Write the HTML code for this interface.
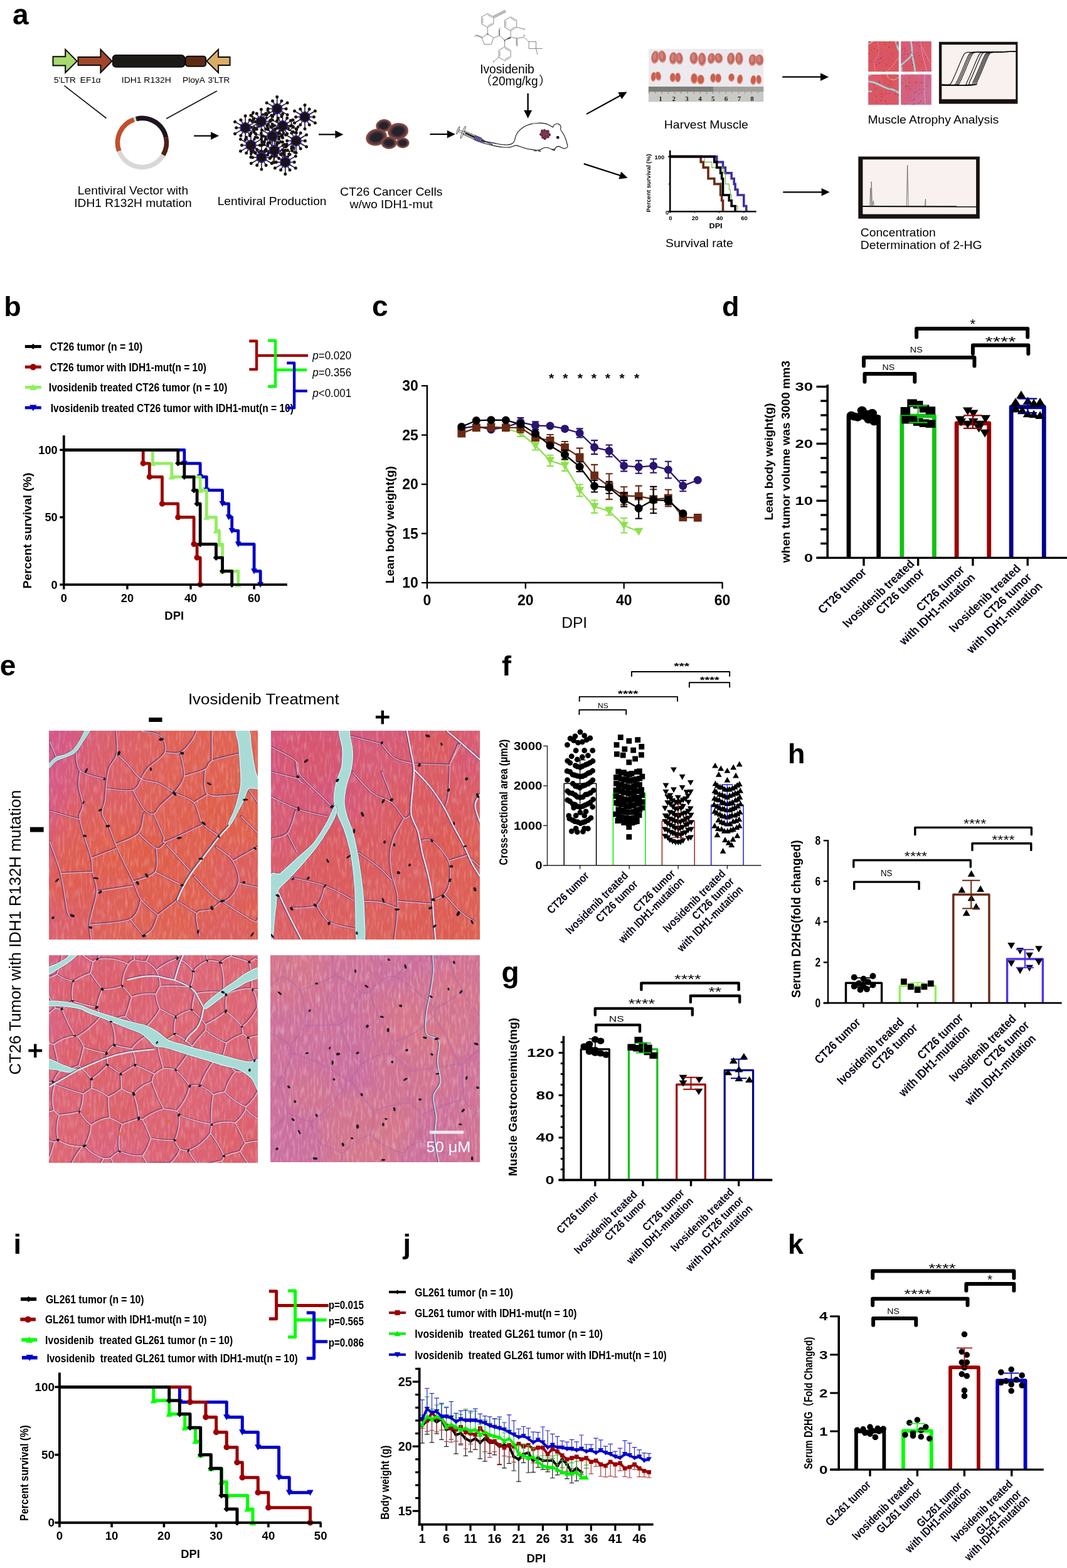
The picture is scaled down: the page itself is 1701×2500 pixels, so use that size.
<!DOCTYPE html>
<html lang="en"><head><meta charset="utf-8"><title>Figure</title>
<style>
html,body{margin:0;padding:0;background:#fff;}
body{width:1701px;height:2500px;overflow:hidden;}
svg{display:block;}
svg text{font-family:"Liberation Sans","Noto Sans CJK SC",sans-serif;}
</style></head><body>
<svg width="1701" height="2500" viewBox="0 0 1701 2500">
<rect width="1701" height="2500" fill="#fff"/>
<g id="panel_a"><text x="20" y="39.3" font-size="46" font-weight="bold">a</text>
<polygon points="84.5,90.3 104.2,90.3 104.2,78.9 122.7,97.4 104.2,115.9 104.2,104.5 84.5,104.5" fill="#a9d96c" stroke="#0a0a0a" stroke-width="2" stroke-linejoin="miter"/>
<polygon points="124.5,91.1 160.4,91.1 160.4,78.9 178.4,97.4 160.4,115.9 160.4,104 124.5,104" fill="#a2462b" stroke="#0a0a0a" stroke-width="2" stroke-linejoin="miter"/>
<rect x="179.6" y="87.8" width="114.9" height="19.2" fill="#1b1a16" stroke="#0a0a0a" stroke-width="1.5" rx="5"/>
<rect x="295.8" y="89.8" width="32.4" height="15.9" fill="#5e2a14" stroke="#0a0a0a" stroke-width="2" rx="4"/>
<polygon points="329.4,97.4 348.1,78.9 348.1,91.1 366.6,91.1 366.6,104 348.1,104 348.1,115.9" fill="#d9ad66" stroke="#0a0a0a" stroke-width="2"/>
<text x="86" y="132.1" font-size="13.6" textLength="34.9" lengthAdjust="spacingAndGlyphs">5'LTR</text>
<text x="127.8" y="132.1" font-size="13.6" textLength="32.9" lengthAdjust="spacingAndGlyphs">EF1α</text>
<text x="193.8" y="132.1" font-size="13.6" textLength="78.9" lengthAdjust="spacingAndGlyphs">IDH1 R132H</text>
<text x="291" y="132.1" font-size="13.6" textLength="35.9" lengthAdjust="spacingAndGlyphs">PloyA</text>
<text x="331.4" y="132.1" font-size="13.6" textLength="34.9" lengthAdjust="spacingAndGlyphs">3'LTR</text>
<line x1="102.5" y1="136.6" x2="169.5" y2="188.5" stroke="#111" stroke-width="1.6"/>
<line x1="345.9" y1="145" x2="265.1" y2="189.2" stroke="#111" stroke-width="1.6"/>
<path d="M260.2 247 A39 39 0 0 1 189.8 240.8" fill="none" stroke="#d9d8d7" stroke-width="7.6"/>
<path d="M189.8 240.8 A39 39 0 0 1 213.7 190.6" fill="none" stroke="#c14f2a" stroke-width="7.6"/>
<path d="M213.7 190.6 A39 39 0 0 1 217 189.6" fill="none" stroke="#d9d8d7" stroke-width="7.6"/>
<path d="M217 189.6 A39 39 0 0 1 264.6 219.3" fill="none" stroke="#1d1420" stroke-width="7.6"/>
<path d="M264.6 219.3 A39 39 0 0 1 260.2 247" fill="none" stroke="#4c2115" stroke-width="7.6"/>
<text x="212" y="310.2" font-size="18.6" text-anchor="middle" textLength="176.3" lengthAdjust="spacingAndGlyphs">Lentiviral Vector with</text>
<text x="212" y="330.4" font-size="18.6" text-anchor="middle" textLength="187.5" lengthAdjust="spacingAndGlyphs">IDH1 R132H mutation</text>
<line x1="309.2" y1="216.6" x2="337.1" y2="216.6" stroke="#000" stroke-width="2.2"/><polygon points="349.1,216.6 336.1,222.8 336.1,210.3" fill="#000"/>
<line x1="426.5" y1="221.4" x2="427" y2="228.1" stroke="#1a1214" stroke-width="1.2"/>
<circle cx="427" cy="228.1" r="2.2" fill="#1a1214"/>
<line x1="426.5" y1="221.4" x2="421.7" y2="226.6" stroke="#1a1214" stroke-width="1.2"/>
<circle cx="421.7" cy="226.6" r="2.2" fill="#1a1214"/>
<line x1="426.5" y1="221.4" x2="423.4" y2="218.4" stroke="#1a1214" stroke-width="1.2"/>
<circle cx="423.4" cy="218.4" r="2.2" fill="#1a1214"/>
<line x1="426.5" y1="221.4" x2="434.7" y2="222.1" stroke="#1a1214" stroke-width="1.2"/>
<circle cx="434.7" cy="222.1" r="2.2" fill="#1a1214"/>
<line x1="441.7" y1="226.5" x2="441.4" y2="231.7" stroke="#1a1214" stroke-width="1.2"/>
<circle cx="441.4" cy="231.7" r="2.2" fill="#1a1214"/>
<line x1="441.7" y1="226.5" x2="448" y2="226.3" stroke="#1a1214" stroke-width="1.2"/>
<circle cx="448" cy="226.3" r="2.2" fill="#1a1214"/>
<line x1="441.7" y1="226.5" x2="445" y2="221" stroke="#1a1214" stroke-width="1.2"/>
<circle cx="445" cy="221" r="2.2" fill="#1a1214"/>
<line x1="441.7" y1="226.5" x2="438.6" y2="222.9" stroke="#1a1214" stroke-width="1.2"/>
<circle cx="438.6" cy="222.9" r="2.2" fill="#1a1214"/>
<line x1="451.8" y1="218.9" x2="446.3" y2="212.7" stroke="#1a1214" stroke-width="1.2"/>
<circle cx="446.3" cy="212.7" r="2.2" fill="#1a1214"/>
<line x1="451.8" y1="218.9" x2="444.2" y2="217.8" stroke="#1a1214" stroke-width="1.2"/>
<circle cx="444.2" cy="217.8" r="2.2" fill="#1a1214"/>
<line x1="451.8" y1="218.9" x2="449.7" y2="215.1" stroke="#1a1214" stroke-width="1.2"/>
<circle cx="449.7" cy="215.1" r="2.2" fill="#1a1214"/>
<line x1="451.8" y1="218.9" x2="452.1" y2="212" stroke="#1a1214" stroke-width="1.2"/>
<circle cx="452.1" cy="212" r="2.2" fill="#1a1214"/>
<line x1="418.9" y1="226.5" x2="417.6" y2="230.4" stroke="#1a1214" stroke-width="1.2"/>
<circle cx="417.6" cy="230.4" r="2.2" fill="#1a1214"/>
<line x1="418.9" y1="226.5" x2="423.1" y2="221.7" stroke="#1a1214" stroke-width="1.2"/>
<circle cx="423.1" cy="221.7" r="2.2" fill="#1a1214"/>
<line x1="418.9" y1="226.5" x2="417.3" y2="218.3" stroke="#1a1214" stroke-width="1.2"/>
<circle cx="417.3" cy="218.3" r="2.2" fill="#1a1214"/>
<line x1="418.9" y1="226.5" x2="417" y2="218.1" stroke="#1a1214" stroke-width="1.2"/>
<circle cx="417" cy="218.1" r="2.2" fill="#1a1214"/>
<line x1="446.7" y1="241.7" x2="440.4" y2="246.6" stroke="#1a1214" stroke-width="1.2"/>
<circle cx="440.4" cy="246.6" r="2.2" fill="#1a1214"/>
<line x1="446.7" y1="241.7" x2="438.6" y2="244.7" stroke="#1a1214" stroke-width="1.2"/>
<circle cx="438.6" cy="244.7" r="2.2" fill="#1a1214"/>
<line x1="446.7" y1="241.7" x2="450" y2="238.6" stroke="#1a1214" stroke-width="1.2"/>
<circle cx="450" cy="238.6" r="2.2" fill="#1a1214"/>
<line x1="446.7" y1="241.7" x2="450.1" y2="245.5" stroke="#1a1214" stroke-width="1.2"/>
<circle cx="450.1" cy="245.5" r="2.2" fill="#1a1214"/>
<line x1="431.6" y1="201.2" x2="437.6" y2="199.9" stroke="#1a1214" stroke-width="1.2"/>
<circle cx="437.6" cy="199.9" r="2.2" fill="#1a1214"/>
<line x1="431.6" y1="201.2" x2="427.7" y2="197.3" stroke="#1a1214" stroke-width="1.2"/>
<circle cx="427.7" cy="197.3" r="2.2" fill="#1a1214"/>
<line x1="431.6" y1="201.2" x2="425.6" y2="200.9" stroke="#1a1214" stroke-width="1.2"/>
<circle cx="425.6" cy="200.9" r="2.2" fill="#1a1214"/>
<line x1="431.6" y1="201.2" x2="427.5" y2="206.8" stroke="#1a1214" stroke-width="1.2"/>
<circle cx="427.5" cy="206.8" r="2.2" fill="#1a1214"/>
<line x1="461.9" y1="208.8" x2="454.6" y2="204.5" stroke="#1a1214" stroke-width="1.2"/>
<circle cx="454.6" cy="204.5" r="2.2" fill="#1a1214"/>
<line x1="461.9" y1="208.8" x2="458.3" y2="200.9" stroke="#1a1214" stroke-width="1.2"/>
<circle cx="458.3" cy="200.9" r="2.2" fill="#1a1214"/>
<line x1="461.9" y1="208.8" x2="467.5" y2="201.7" stroke="#1a1214" stroke-width="1.2"/>
<circle cx="467.5" cy="201.7" r="2.2" fill="#1a1214"/>
<line x1="461.9" y1="208.8" x2="459.6" y2="204.6" stroke="#1a1214" stroke-width="1.2"/>
<circle cx="459.6" cy="204.6" r="2.2" fill="#1a1214"/>
<line x1="451.8" y1="236.6" x2="457.4" y2="229.8" stroke="#1a1214" stroke-width="1.2"/>
<circle cx="457.4" cy="229.8" r="2.2" fill="#1a1214"/>
<line x1="451.8" y1="236.6" x2="457.4" y2="232.7" stroke="#1a1214" stroke-width="1.2"/>
<circle cx="457.4" cy="232.7" r="2.2" fill="#1a1214"/>
<line x1="451.8" y1="236.6" x2="450.7" y2="231.7" stroke="#1a1214" stroke-width="1.2"/>
<circle cx="450.7" cy="231.7" r="2.2" fill="#1a1214"/>
<line x1="451.8" y1="236.6" x2="455.2" y2="230.6" stroke="#1a1214" stroke-width="1.2"/>
<circle cx="455.2" cy="230.6" r="2.2" fill="#1a1214"/>
<line x1="421.4" y1="239.2" x2="420.5" y2="243.4" stroke="#1a1214" stroke-width="1.2"/>
<circle cx="420.5" cy="243.4" r="2.2" fill="#1a1214"/>
<line x1="421.4" y1="239.2" x2="426.9" y2="232" stroke="#1a1214" stroke-width="1.2"/>
<circle cx="426.9" cy="232" r="2.2" fill="#1a1214"/>
<line x1="421.4" y1="239.2" x2="428.2" y2="243.4" stroke="#1a1214" stroke-width="1.2"/>
<circle cx="428.2" cy="243.4" r="2.2" fill="#1a1214"/>
<line x1="421.4" y1="239.2" x2="417.4" y2="241.7" stroke="#1a1214" stroke-width="1.2"/>
<circle cx="417.4" cy="241.7" r="2.2" fill="#1a1214"/>
<line x1="436.6" y1="251.8" x2="434.5" y2="259.4" stroke="#1a1214" stroke-width="1.2"/>
<circle cx="434.5" cy="259.4" r="2.2" fill="#1a1214"/>
<line x1="436.6" y1="251.8" x2="439.6" y2="248.8" stroke="#1a1214" stroke-width="1.2"/>
<circle cx="439.6" cy="248.8" r="2.2" fill="#1a1214"/>
<line x1="436.6" y1="251.8" x2="433.4" y2="249" stroke="#1a1214" stroke-width="1.2"/>
<circle cx="433.4" cy="249" r="2.2" fill="#1a1214"/>
<line x1="436.6" y1="251.8" x2="435.5" y2="246.3" stroke="#1a1214" stroke-width="1.2"/>
<circle cx="435.5" cy="246.3" r="2.2" fill="#1a1214"/>
<line x1="461.9" y1="241.7" x2="468.4" y2="235.6" stroke="#1a1214" stroke-width="1.2"/>
<circle cx="468.4" cy="235.6" r="2.2" fill="#1a1214"/>
<line x1="461.9" y1="241.7" x2="452.9" y2="241.4" stroke="#1a1214" stroke-width="1.2"/>
<circle cx="452.9" cy="241.4" r="2.2" fill="#1a1214"/>
<line x1="461.9" y1="241.7" x2="460.3" y2="245.8" stroke="#1a1214" stroke-width="1.2"/>
<circle cx="460.3" cy="245.8" r="2.2" fill="#1a1214"/>
<line x1="461.9" y1="241.7" x2="458.6" y2="239.3" stroke="#1a1214" stroke-width="1.2"/>
<circle cx="458.6" cy="239.3" r="2.2" fill="#1a1214"/>
<line x1="408.8" y1="213.9" x2="410.8" y2="219.6" stroke="#1a1214" stroke-width="1.2"/>
<circle cx="410.8" cy="219.6" r="2.2" fill="#1a1214"/>
<line x1="408.8" y1="213.9" x2="405.1" y2="210.8" stroke="#1a1214" stroke-width="1.2"/>
<circle cx="405.1" cy="210.8" r="2.2" fill="#1a1214"/>
<line x1="408.8" y1="213.9" x2="416.8" y2="216" stroke="#1a1214" stroke-width="1.2"/>
<circle cx="416.8" cy="216" r="2.2" fill="#1a1214"/>
<line x1="408.8" y1="213.9" x2="405.4" y2="222" stroke="#1a1214" stroke-width="1.2"/>
<circle cx="405.4" cy="222" r="2.2" fill="#1a1214"/>
<line x1="441.7" y1="211.3" x2="446.4" y2="207.7" stroke="#1a1214" stroke-width="1.2"/>
<circle cx="446.4" cy="207.7" r="2.2" fill="#1a1214"/>
<line x1="441.7" y1="211.3" x2="435.3" y2="213" stroke="#1a1214" stroke-width="1.2"/>
<circle cx="435.3" cy="213" r="2.2" fill="#1a1214"/>
<line x1="441.7" y1="211.3" x2="437.4" y2="205.8" stroke="#1a1214" stroke-width="1.2"/>
<circle cx="437.4" cy="205.8" r="2.2" fill="#1a1214"/>
<line x1="441.7" y1="211.3" x2="435.1" y2="208.8" stroke="#1a1214" stroke-width="1.2"/>
<circle cx="435.1" cy="208.8" r="2.2" fill="#1a1214"/>
<line x1="426.5" y1="241.7" x2="432.6" y2="239.3" stroke="#1a1214" stroke-width="1.2"/>
<circle cx="432.6" cy="239.3" r="2.2" fill="#1a1214"/>
<line x1="426.5" y1="241.7" x2="419.6" y2="244.9" stroke="#1a1214" stroke-width="1.2"/>
<circle cx="419.6" cy="244.9" r="2.2" fill="#1a1214"/>
<line x1="426.5" y1="241.7" x2="426.9" y2="247.2" stroke="#1a1214" stroke-width="1.2"/>
<circle cx="426.9" cy="247.2" r="2.2" fill="#1a1214"/>
<line x1="426.5" y1="241.7" x2="433" y2="240.7" stroke="#1a1214" stroke-width="1.2"/>
<circle cx="433" cy="240.7" r="2.2" fill="#1a1214"/>
<line x1="406.3" y1="241.7" x2="402.4" y2="240.5" stroke="#1a1214" stroke-width="1.2"/>
<circle cx="402.4" cy="240.5" r="2.2" fill="#1a1214"/>
<line x1="406.3" y1="241.7" x2="400.3" y2="245.2" stroke="#1a1214" stroke-width="1.2"/>
<circle cx="400.3" cy="245.2" r="2.2" fill="#1a1214"/>
<line x1="406.3" y1="241.7" x2="413.3" y2="242.6" stroke="#1a1214" stroke-width="1.2"/>
<circle cx="413.3" cy="242.6" r="2.2" fill="#1a1214"/>
<line x1="406.3" y1="241.7" x2="403.4" y2="238.5" stroke="#1a1214" stroke-width="1.2"/>
<circle cx="403.4" cy="238.5" r="2.2" fill="#1a1214"/>
<line x1="454.3" y1="249.3" x2="449.9" y2="244.7" stroke="#1a1214" stroke-width="1.2"/>
<circle cx="449.9" cy="244.7" r="2.2" fill="#1a1214"/>
<line x1="454.3" y1="249.3" x2="451.8" y2="244.1" stroke="#1a1214" stroke-width="1.2"/>
<circle cx="451.8" cy="244.1" r="2.2" fill="#1a1214"/>
<line x1="454.3" y1="249.3" x2="452.3" y2="241.9" stroke="#1a1214" stroke-width="1.2"/>
<circle cx="452.3" cy="241.9" r="2.2" fill="#1a1214"/>
<line x1="454.3" y1="249.3" x2="458.6" y2="249.9" stroke="#1a1214" stroke-width="1.2"/>
<circle cx="458.6" cy="249.9" r="2.2" fill="#1a1214"/>
<line x1="469.5" y1="236.6" x2="465.5" y2="228.7" stroke="#1a1214" stroke-width="1.2"/>
<circle cx="465.5" cy="228.7" r="2.2" fill="#1a1214"/>
<line x1="469.5" y1="236.6" x2="469.5" y2="242.9" stroke="#1a1214" stroke-width="1.2"/>
<circle cx="469.5" cy="242.9" r="2.2" fill="#1a1214"/>
<line x1="469.5" y1="236.6" x2="464.8" y2="233.6" stroke="#1a1214" stroke-width="1.2"/>
<circle cx="464.8" cy="233.6" r="2.2" fill="#1a1214"/>
<line x1="469.5" y1="236.6" x2="465.9" y2="240.8" stroke="#1a1214" stroke-width="1.2"/>
<circle cx="465.9" cy="240.8" r="2.2" fill="#1a1214"/>
<line x1="474.6" y1="206.3" x2="469.8" y2="211.4" stroke="#1a1214" stroke-width="1.2"/>
<circle cx="469.8" cy="211.4" r="2.2" fill="#1a1214"/>
<line x1="474.6" y1="206.3" x2="472.7" y2="211.9" stroke="#1a1214" stroke-width="1.2"/>
<circle cx="472.7" cy="211.9" r="2.2" fill="#1a1214"/>
<line x1="474.6" y1="206.3" x2="475.1" y2="202.2" stroke="#1a1214" stroke-width="1.2"/>
<circle cx="475.1" cy="202.2" r="2.2" fill="#1a1214"/>
<line x1="474.6" y1="206.3" x2="467.6" y2="203" stroke="#1a1214" stroke-width="1.2"/>
<circle cx="467.6" cy="203" r="2.2" fill="#1a1214"/>
<line x1="464.5" y1="196.1" x2="462.6" y2="200.9" stroke="#1a1214" stroke-width="1.2"/>
<circle cx="462.6" cy="200.9" r="2.2" fill="#1a1214"/>
<line x1="464.5" y1="196.1" x2="466.2" y2="191.2" stroke="#1a1214" stroke-width="1.2"/>
<circle cx="466.2" cy="191.2" r="2.2" fill="#1a1214"/>
<line x1="464.5" y1="196.1" x2="466.8" y2="201.8" stroke="#1a1214" stroke-width="1.2"/>
<circle cx="466.8" cy="201.8" r="2.2" fill="#1a1214"/>
<line x1="464.5" y1="196.1" x2="463" y2="191.9" stroke="#1a1214" stroke-width="1.2"/>
<circle cx="463" cy="191.9" r="2.2" fill="#1a1214"/>
<line x1="434.1" y1="186" x2="431.6" y2="191.1" stroke="#1a1214" stroke-width="1.2"/>
<circle cx="431.6" cy="191.1" r="2.2" fill="#1a1214"/>
<line x1="434.1" y1="186" x2="437.2" y2="180.7" stroke="#1a1214" stroke-width="1.2"/>
<circle cx="437.2" cy="180.7" r="2.2" fill="#1a1214"/>
<line x1="434.1" y1="186" x2="437.1" y2="182.2" stroke="#1a1214" stroke-width="1.2"/>
<circle cx="437.1" cy="182.2" r="2.2" fill="#1a1214"/>
<line x1="434.1" y1="186" x2="430.3" y2="192.2" stroke="#1a1214" stroke-width="1.2"/>
<circle cx="430.3" cy="192.2" r="2.2" fill="#1a1214"/>
<line x1="424" y1="183.5" x2="428.7" y2="179.3" stroke="#1a1214" stroke-width="1.2"/>
<circle cx="428.7" cy="179.3" r="2.2" fill="#1a1214"/>
<line x1="424" y1="183.5" x2="424.7" y2="188" stroke="#1a1214" stroke-width="1.2"/>
<circle cx="424.7" cy="188" r="2.2" fill="#1a1214"/>
<line x1="424" y1="183.5" x2="419.1" y2="182.6" stroke="#1a1214" stroke-width="1.2"/>
<circle cx="419.1" cy="182.6" r="2.2" fill="#1a1214"/>
<line x1="424" y1="183.5" x2="426.8" y2="175.8" stroke="#1a1214" stroke-width="1.2"/>
<circle cx="426.8" cy="175.8" r="2.2" fill="#1a1214"/>
<line x1="401.2" y1="186" x2="403.4" y2="191" stroke="#1a1214" stroke-width="1.2"/>
<circle cx="403.4" cy="191" r="2.2" fill="#1a1214"/>
<line x1="401.2" y1="186" x2="403.7" y2="179.3" stroke="#1a1214" stroke-width="1.2"/>
<circle cx="403.7" cy="179.3" r="2.2" fill="#1a1214"/>
<line x1="401.2" y1="186" x2="403.2" y2="180.6" stroke="#1a1214" stroke-width="1.2"/>
<circle cx="403.2" cy="180.6" r="2.2" fill="#1a1214"/>
<line x1="401.2" y1="186" x2="404.9" y2="190" stroke="#1a1214" stroke-width="1.2"/>
<circle cx="404.9" cy="190" r="2.2" fill="#1a1214"/>
<line x1="408.8" y1="203.7" x2="410.2" y2="198.6" stroke="#1a1214" stroke-width="1.2"/>
<circle cx="410.2" cy="198.6" r="2.2" fill="#1a1214"/>
<line x1="408.8" y1="203.7" x2="405.3" y2="208.7" stroke="#1a1214" stroke-width="1.2"/>
<circle cx="405.3" cy="208.7" r="2.2" fill="#1a1214"/>
<line x1="408.8" y1="203.7" x2="403.5" y2="206.7" stroke="#1a1214" stroke-width="1.2"/>
<circle cx="403.5" cy="206.7" r="2.2" fill="#1a1214"/>
<line x1="408.8" y1="203.7" x2="413" y2="201.4" stroke="#1a1214" stroke-width="1.2"/>
<circle cx="413" cy="201.4" r="2.2" fill="#1a1214"/>
<line x1="441.7" y1="173.4" x2="458.1" y2="182.9" stroke="#1a1214" stroke-width="1.5"/><circle cx="458.1" cy="182.9" r="2.5" fill="#1a1214"/><line x1="441.7" y1="173.4" x2="448.9" y2="185.8" stroke="#1a1214" stroke-width="1.5"/><circle cx="448.9" cy="185.8" r="2.5" fill="#1a1214"/><line x1="441.7" y1="173.4" x2="441.7" y2="192.4" stroke="#1a1214" stroke-width="1.5"/><circle cx="441.7" cy="192.4" r="2.5" fill="#1a1214"/><line x1="441.7" y1="173.4" x2="434.5" y2="185.8" stroke="#1a1214" stroke-width="1.5"/><circle cx="434.5" cy="185.8" r="2.5" fill="#1a1214"/><line x1="441.7" y1="173.4" x2="425.2" y2="182.9" stroke="#1a1214" stroke-width="1.5"/><circle cx="425.2" cy="182.9" r="2.5" fill="#1a1214"/><line x1="441.7" y1="173.4" x2="427.3" y2="173.4" stroke="#1a1214" stroke-width="1.5"/><circle cx="427.3" cy="173.4" r="2.5" fill="#1a1214"/><line x1="441.7" y1="173.4" x2="425.2" y2="163.9" stroke="#1a1214" stroke-width="1.5"/><circle cx="425.2" cy="163.9" r="2.5" fill="#1a1214"/><line x1="441.7" y1="173.4" x2="434.5" y2="160.9" stroke="#1a1214" stroke-width="1.5"/><circle cx="434.5" cy="160.9" r="2.5" fill="#1a1214"/><line x1="441.7" y1="173.4" x2="441.7" y2="154.4" stroke="#1a1214" stroke-width="1.5"/><circle cx="441.7" cy="154.4" r="2.5" fill="#1a1214"/><line x1="441.7" y1="173.4" x2="448.9" y2="160.9" stroke="#1a1214" stroke-width="1.5"/><circle cx="448.9" cy="160.9" r="2.5" fill="#1a1214"/><line x1="441.7" y1="173.4" x2="458.1" y2="163.9" stroke="#1a1214" stroke-width="1.5"/><circle cx="458.1" cy="163.9" r="2.5" fill="#1a1214"/><line x1="441.7" y1="173.4" x2="456.1" y2="173.4" stroke="#1a1214" stroke-width="1.5"/><circle cx="456.1" cy="173.4" r="2.5" fill="#1a1214"/><polygon points="449.3,177.8 441.7,182.2 434.1,177.8 434.1,169 441.7,164.6 449.3,169" fill="#1a1214" stroke="#3a28a0" stroke-width="1.6" stroke-linejoin="round"/>
<line x1="486" y1="186.5" x2="502.4" y2="196" stroke="#1a1214" stroke-width="1.5"/><circle cx="502.4" cy="196" r="2.5" fill="#1a1214"/><line x1="486" y1="186.5" x2="493.2" y2="199" stroke="#1a1214" stroke-width="1.5"/><circle cx="493.2" cy="199" r="2.5" fill="#1a1214"/><line x1="486" y1="186.5" x2="486" y2="205.5" stroke="#1a1214" stroke-width="1.5"/><circle cx="486" cy="205.5" r="2.5" fill="#1a1214"/><line x1="486" y1="186.5" x2="478.8" y2="199" stroke="#1a1214" stroke-width="1.5"/><circle cx="478.8" cy="199" r="2.5" fill="#1a1214"/><line x1="486" y1="186.5" x2="469.5" y2="196" stroke="#1a1214" stroke-width="1.5"/><circle cx="469.5" cy="196" r="2.5" fill="#1a1214"/><line x1="486" y1="186.5" x2="471.6" y2="186.5" stroke="#1a1214" stroke-width="1.5"/><circle cx="471.6" cy="186.5" r="2.5" fill="#1a1214"/><line x1="486" y1="186.5" x2="469.5" y2="177" stroke="#1a1214" stroke-width="1.5"/><circle cx="469.5" cy="177" r="2.5" fill="#1a1214"/><line x1="486" y1="186.5" x2="478.8" y2="174.1" stroke="#1a1214" stroke-width="1.5"/><circle cx="478.8" cy="174.1" r="2.5" fill="#1a1214"/><line x1="486" y1="186.5" x2="486" y2="167.5" stroke="#1a1214" stroke-width="1.5"/><circle cx="486" cy="167.5" r="2.5" fill="#1a1214"/><line x1="486" y1="186.5" x2="493.2" y2="174.1" stroke="#1a1214" stroke-width="1.5"/><circle cx="493.2" cy="174.1" r="2.5" fill="#1a1214"/><line x1="486" y1="186.5" x2="502.4" y2="177" stroke="#1a1214" stroke-width="1.5"/><circle cx="502.4" cy="177" r="2.5" fill="#1a1214"/><line x1="486" y1="186.5" x2="500.4" y2="186.5" stroke="#1a1214" stroke-width="1.5"/><circle cx="500.4" cy="186.5" r="2.5" fill="#1a1214"/><polygon points="493.6,190.9 486,195.3 478.3,190.9 478.3,182.1 486,177.7 493.6,182.1" fill="#1a1214" stroke="#3a28a0" stroke-width="1.6" stroke-linejoin="round"/>
<line x1="416.4" y1="193.6" x2="432.8" y2="203.1" stroke="#1a1214" stroke-width="1.5"/><circle cx="432.8" cy="203.1" r="2.5" fill="#1a1214"/><line x1="416.4" y1="193.6" x2="423.6" y2="206.1" stroke="#1a1214" stroke-width="1.5"/><circle cx="423.6" cy="206.1" r="2.5" fill="#1a1214"/><line x1="416.4" y1="193.6" x2="416.4" y2="212.6" stroke="#1a1214" stroke-width="1.5"/><circle cx="416.4" cy="212.6" r="2.5" fill="#1a1214"/><line x1="416.4" y1="193.6" x2="409.2" y2="206.1" stroke="#1a1214" stroke-width="1.5"/><circle cx="409.2" cy="206.1" r="2.5" fill="#1a1214"/><line x1="416.4" y1="193.6" x2="399.9" y2="203.1" stroke="#1a1214" stroke-width="1.5"/><circle cx="399.9" cy="203.1" r="2.5" fill="#1a1214"/><line x1="416.4" y1="193.6" x2="402" y2="193.6" stroke="#1a1214" stroke-width="1.5"/><circle cx="402" cy="193.6" r="2.5" fill="#1a1214"/><line x1="416.4" y1="193.6" x2="399.9" y2="184.1" stroke="#1a1214" stroke-width="1.5"/><circle cx="399.9" cy="184.1" r="2.5" fill="#1a1214"/><line x1="416.4" y1="193.6" x2="409.2" y2="181.1" stroke="#1a1214" stroke-width="1.5"/><circle cx="409.2" cy="181.1" r="2.5" fill="#1a1214"/><line x1="416.4" y1="193.6" x2="416.4" y2="174.6" stroke="#1a1214" stroke-width="1.5"/><circle cx="416.4" cy="174.6" r="2.5" fill="#1a1214"/><line x1="416.4" y1="193.6" x2="423.6" y2="181.1" stroke="#1a1214" stroke-width="1.5"/><circle cx="423.6" cy="181.1" r="2.5" fill="#1a1214"/><line x1="416.4" y1="193.6" x2="432.8" y2="184.1" stroke="#1a1214" stroke-width="1.5"/><circle cx="432.8" cy="184.1" r="2.5" fill="#1a1214"/><line x1="416.4" y1="193.6" x2="430.8" y2="193.6" stroke="#1a1214" stroke-width="1.5"/><circle cx="430.8" cy="193.6" r="2.5" fill="#1a1214"/><polygon points="424,198 416.4,202.4 408.8,198 408.8,189.2 416.4,184.8 424,189.2" fill="#1a1214" stroke="#3a28a0" stroke-width="1.6" stroke-linejoin="round"/>
<line x1="391.1" y1="203.7" x2="407.5" y2="213.2" stroke="#1a1214" stroke-width="1.5"/><circle cx="407.5" cy="213.2" r="2.5" fill="#1a1214"/><line x1="391.1" y1="203.7" x2="398.3" y2="216.2" stroke="#1a1214" stroke-width="1.5"/><circle cx="398.3" cy="216.2" r="2.5" fill="#1a1214"/><line x1="391.1" y1="203.7" x2="391.1" y2="222.7" stroke="#1a1214" stroke-width="1.5"/><circle cx="391.1" cy="222.7" r="2.5" fill="#1a1214"/><line x1="391.1" y1="203.7" x2="383.9" y2="216.2" stroke="#1a1214" stroke-width="1.5"/><circle cx="383.9" cy="216.2" r="2.5" fill="#1a1214"/><line x1="391.1" y1="203.7" x2="374.6" y2="213.2" stroke="#1a1214" stroke-width="1.5"/><circle cx="374.6" cy="213.2" r="2.5" fill="#1a1214"/><line x1="391.1" y1="203.7" x2="376.7" y2="203.7" stroke="#1a1214" stroke-width="1.5"/><circle cx="376.7" cy="203.7" r="2.5" fill="#1a1214"/><line x1="391.1" y1="203.7" x2="374.6" y2="194.2" stroke="#1a1214" stroke-width="1.5"/><circle cx="374.6" cy="194.2" r="2.5" fill="#1a1214"/><line x1="391.1" y1="203.7" x2="383.9" y2="191.3" stroke="#1a1214" stroke-width="1.5"/><circle cx="383.9" cy="191.3" r="2.5" fill="#1a1214"/><line x1="391.1" y1="203.7" x2="391.1" y2="184.7" stroke="#1a1214" stroke-width="1.5"/><circle cx="391.1" cy="184.7" r="2.5" fill="#1a1214"/><line x1="391.1" y1="203.7" x2="398.3" y2="191.3" stroke="#1a1214" stroke-width="1.5"/><circle cx="398.3" cy="191.3" r="2.5" fill="#1a1214"/><line x1="391.1" y1="203.7" x2="407.5" y2="194.2" stroke="#1a1214" stroke-width="1.5"/><circle cx="407.5" cy="194.2" r="2.5" fill="#1a1214"/><line x1="391.1" y1="203.7" x2="405.5" y2="203.7" stroke="#1a1214" stroke-width="1.5"/><circle cx="405.5" cy="203.7" r="2.5" fill="#1a1214"/><polygon points="398.7,208.1 391.1,212.5 383.5,208.1 383.5,199.3 391.1,194.9 398.7,199.3" fill="#1a1214" stroke="#3a28a0" stroke-width="1.6" stroke-linejoin="round"/>
<line x1="450.5" y1="200.7" x2="467" y2="210.2" stroke="#1a1214" stroke-width="1.5"/><circle cx="467" cy="210.2" r="2.5" fill="#1a1214"/><line x1="450.5" y1="200.7" x2="457.7" y2="213.2" stroke="#1a1214" stroke-width="1.5"/><circle cx="457.7" cy="213.2" r="2.5" fill="#1a1214"/><line x1="450.5" y1="200.7" x2="450.5" y2="219.7" stroke="#1a1214" stroke-width="1.5"/><circle cx="450.5" cy="219.7" r="2.5" fill="#1a1214"/><line x1="450.5" y1="200.7" x2="443.3" y2="213.2" stroke="#1a1214" stroke-width="1.5"/><circle cx="443.3" cy="213.2" r="2.5" fill="#1a1214"/><line x1="450.5" y1="200.7" x2="434.1" y2="210.2" stroke="#1a1214" stroke-width="1.5"/><circle cx="434.1" cy="210.2" r="2.5" fill="#1a1214"/><line x1="450.5" y1="200.7" x2="436.1" y2="200.7" stroke="#1a1214" stroke-width="1.5"/><circle cx="436.1" cy="200.7" r="2.5" fill="#1a1214"/><line x1="450.5" y1="200.7" x2="434.1" y2="191.2" stroke="#1a1214" stroke-width="1.5"/><circle cx="434.1" cy="191.2" r="2.5" fill="#1a1214"/><line x1="450.5" y1="200.7" x2="443.3" y2="188.2" stroke="#1a1214" stroke-width="1.5"/><circle cx="443.3" cy="188.2" r="2.5" fill="#1a1214"/><line x1="450.5" y1="200.7" x2="450.5" y2="181.7" stroke="#1a1214" stroke-width="1.5"/><circle cx="450.5" cy="181.7" r="2.5" fill="#1a1214"/><line x1="450.5" y1="200.7" x2="457.7" y2="188.2" stroke="#1a1214" stroke-width="1.5"/><circle cx="457.7" cy="188.2" r="2.5" fill="#1a1214"/><line x1="450.5" y1="200.7" x2="467" y2="191.2" stroke="#1a1214" stroke-width="1.5"/><circle cx="467" cy="191.2" r="2.5" fill="#1a1214"/><line x1="450.5" y1="200.7" x2="464.9" y2="200.7" stroke="#1a1214" stroke-width="1.5"/><circle cx="464.9" cy="200.7" r="2.5" fill="#1a1214"/><polygon points="458.2,205.1 450.5,209.5 442.9,205.1 442.9,196.3 450.5,191.9 458.2,196.3" fill="#1a1214" stroke="#3a28a0" stroke-width="1.6" stroke-linejoin="round"/>
<line x1="434.1" y1="216.9" x2="450.5" y2="226.4" stroke="#1a1214" stroke-width="1.5"/><circle cx="450.5" cy="226.4" r="2.5" fill="#1a1214"/><line x1="434.1" y1="216.9" x2="441.3" y2="229.4" stroke="#1a1214" stroke-width="1.5"/><circle cx="441.3" cy="229.4" r="2.5" fill="#1a1214"/><line x1="434.1" y1="216.9" x2="434.1" y2="235.9" stroke="#1a1214" stroke-width="1.5"/><circle cx="434.1" cy="235.9" r="2.5" fill="#1a1214"/><line x1="434.1" y1="216.9" x2="426.9" y2="229.4" stroke="#1a1214" stroke-width="1.5"/><circle cx="426.9" cy="229.4" r="2.5" fill="#1a1214"/><line x1="434.1" y1="216.9" x2="417.6" y2="226.4" stroke="#1a1214" stroke-width="1.5"/><circle cx="417.6" cy="226.4" r="2.5" fill="#1a1214"/><line x1="434.1" y1="216.9" x2="419.7" y2="216.9" stroke="#1a1214" stroke-width="1.5"/><circle cx="419.7" cy="216.9" r="2.5" fill="#1a1214"/><line x1="434.1" y1="216.9" x2="417.6" y2="207.4" stroke="#1a1214" stroke-width="1.5"/><circle cx="417.6" cy="207.4" r="2.5" fill="#1a1214"/><line x1="434.1" y1="216.9" x2="426.9" y2="204.4" stroke="#1a1214" stroke-width="1.5"/><circle cx="426.9" cy="204.4" r="2.5" fill="#1a1214"/><line x1="434.1" y1="216.9" x2="434.1" y2="197.9" stroke="#1a1214" stroke-width="1.5"/><circle cx="434.1" cy="197.9" r="2.5" fill="#1a1214"/><line x1="434.1" y1="216.9" x2="441.3" y2="204.4" stroke="#1a1214" stroke-width="1.5"/><circle cx="441.3" cy="204.4" r="2.5" fill="#1a1214"/><line x1="434.1" y1="216.9" x2="450.5" y2="207.4" stroke="#1a1214" stroke-width="1.5"/><circle cx="450.5" cy="207.4" r="2.5" fill="#1a1214"/><line x1="434.1" y1="216.9" x2="448.5" y2="216.9" stroke="#1a1214" stroke-width="1.5"/><circle cx="448.5" cy="216.9" r="2.5" fill="#1a1214"/><polygon points="441.7,221.3 434.1,225.7 426.5,221.3 426.5,212.5 434.1,208.1 441.7,212.5" fill="#1a1214" stroke="#3a28a0" stroke-width="1.6" stroke-linejoin="round"/>
<line x1="472" y1="224.5" x2="488.5" y2="234" stroke="#1a1214" stroke-width="1.5"/><circle cx="488.5" cy="234" r="2.5" fill="#1a1214"/><line x1="472" y1="224.5" x2="479.2" y2="236.9" stroke="#1a1214" stroke-width="1.5"/><circle cx="479.2" cy="236.9" r="2.5" fill="#1a1214"/><line x1="472" y1="224.5" x2="472" y2="243.5" stroke="#1a1214" stroke-width="1.5"/><circle cx="472" cy="243.5" r="2.5" fill="#1a1214"/><line x1="472" y1="224.5" x2="464.8" y2="236.9" stroke="#1a1214" stroke-width="1.5"/><circle cx="464.8" cy="236.9" r="2.5" fill="#1a1214"/><line x1="472" y1="224.5" x2="455.6" y2="234" stroke="#1a1214" stroke-width="1.5"/><circle cx="455.6" cy="234" r="2.5" fill="#1a1214"/><line x1="472" y1="224.5" x2="457.6" y2="224.5" stroke="#1a1214" stroke-width="1.5"/><circle cx="457.6" cy="224.5" r="2.5" fill="#1a1214"/><line x1="472" y1="224.5" x2="455.6" y2="215" stroke="#1a1214" stroke-width="1.5"/><circle cx="455.6" cy="215" r="2.5" fill="#1a1214"/><line x1="472" y1="224.5" x2="464.8" y2="212" stroke="#1a1214" stroke-width="1.5"/><circle cx="464.8" cy="212" r="2.5" fill="#1a1214"/><line x1="472" y1="224.5" x2="472" y2="205.5" stroke="#1a1214" stroke-width="1.5"/><circle cx="472" cy="205.5" r="2.5" fill="#1a1214"/><line x1="472" y1="224.5" x2="479.2" y2="212" stroke="#1a1214" stroke-width="1.5"/><circle cx="479.2" cy="212" r="2.5" fill="#1a1214"/><line x1="472" y1="224.5" x2="488.5" y2="215" stroke="#1a1214" stroke-width="1.5"/><circle cx="488.5" cy="215" r="2.5" fill="#1a1214"/><line x1="472" y1="224.5" x2="486.4" y2="224.5" stroke="#1a1214" stroke-width="1.5"/><circle cx="486.4" cy="224.5" r="2.5" fill="#1a1214"/><polygon points="479.7,228.9 472,233.3 464.4,228.9 464.4,220.1 472,215.7 479.7,220.1" fill="#1a1214" stroke="#3a28a0" stroke-width="1.6" stroke-linejoin="round"/>
<line x1="399.9" y1="231.6" x2="416.4" y2="241.1" stroke="#1a1214" stroke-width="1.5"/><circle cx="416.4" cy="241.1" r="2.5" fill="#1a1214"/><line x1="399.9" y1="231.6" x2="407.1" y2="244" stroke="#1a1214" stroke-width="1.5"/><circle cx="407.1" cy="244" r="2.5" fill="#1a1214"/><line x1="399.9" y1="231.6" x2="399.9" y2="250.6" stroke="#1a1214" stroke-width="1.5"/><circle cx="399.9" cy="250.6" r="2.5" fill="#1a1214"/><line x1="399.9" y1="231.6" x2="392.7" y2="244" stroke="#1a1214" stroke-width="1.5"/><circle cx="392.7" cy="244" r="2.5" fill="#1a1214"/><line x1="399.9" y1="231.6" x2="383.5" y2="241.1" stroke="#1a1214" stroke-width="1.5"/><circle cx="383.5" cy="241.1" r="2.5" fill="#1a1214"/><line x1="399.9" y1="231.6" x2="385.5" y2="231.6" stroke="#1a1214" stroke-width="1.5"/><circle cx="385.5" cy="231.6" r="2.5" fill="#1a1214"/><line x1="399.9" y1="231.6" x2="383.5" y2="222.1" stroke="#1a1214" stroke-width="1.5"/><circle cx="383.5" cy="222.1" r="2.5" fill="#1a1214"/><line x1="399.9" y1="231.6" x2="392.7" y2="219.1" stroke="#1a1214" stroke-width="1.5"/><circle cx="392.7" cy="219.1" r="2.5" fill="#1a1214"/><line x1="399.9" y1="231.6" x2="399.9" y2="212.6" stroke="#1a1214" stroke-width="1.5"/><circle cx="399.9" cy="212.6" r="2.5" fill="#1a1214"/><line x1="399.9" y1="231.6" x2="407.1" y2="219.1" stroke="#1a1214" stroke-width="1.5"/><circle cx="407.1" cy="219.1" r="2.5" fill="#1a1214"/><line x1="399.9" y1="231.6" x2="416.4" y2="222.1" stroke="#1a1214" stroke-width="1.5"/><circle cx="416.4" cy="222.1" r="2.5" fill="#1a1214"/><line x1="399.9" y1="231.6" x2="414.3" y2="231.6" stroke="#1a1214" stroke-width="1.5"/><circle cx="414.3" cy="231.6" r="2.5" fill="#1a1214"/><polygon points="407.6,236 399.9,240.4 392.3,236 392.3,227.2 399.9,222.8 407.6,227.2" fill="#1a1214" stroke="#3a28a0" stroke-width="1.6" stroke-linejoin="round"/>
<line x1="437.4" y1="239.9" x2="453.8" y2="249.4" stroke="#1a1214" stroke-width="1.5"/><circle cx="453.8" cy="249.4" r="2.5" fill="#1a1214"/><line x1="437.4" y1="239.9" x2="444.6" y2="252.4" stroke="#1a1214" stroke-width="1.5"/><circle cx="444.6" cy="252.4" r="2.5" fill="#1a1214"/><line x1="437.4" y1="239.9" x2="437.4" y2="258.9" stroke="#1a1214" stroke-width="1.5"/><circle cx="437.4" cy="258.9" r="2.5" fill="#1a1214"/><line x1="437.4" y1="239.9" x2="430.2" y2="252.4" stroke="#1a1214" stroke-width="1.5"/><circle cx="430.2" cy="252.4" r="2.5" fill="#1a1214"/><line x1="437.4" y1="239.9" x2="420.9" y2="249.4" stroke="#1a1214" stroke-width="1.5"/><circle cx="420.9" cy="249.4" r="2.5" fill="#1a1214"/><line x1="437.4" y1="239.9" x2="423" y2="239.9" stroke="#1a1214" stroke-width="1.5"/><circle cx="423" cy="239.9" r="2.5" fill="#1a1214"/><line x1="437.4" y1="239.9" x2="420.9" y2="230.4" stroke="#1a1214" stroke-width="1.5"/><circle cx="420.9" cy="230.4" r="2.5" fill="#1a1214"/><line x1="437.4" y1="239.9" x2="430.2" y2="227.4" stroke="#1a1214" stroke-width="1.5"/><circle cx="430.2" cy="227.4" r="2.5" fill="#1a1214"/><line x1="437.4" y1="239.9" x2="437.4" y2="220.9" stroke="#1a1214" stroke-width="1.5"/><circle cx="437.4" cy="220.9" r="2.5" fill="#1a1214"/><line x1="437.4" y1="239.9" x2="444.6" y2="227.4" stroke="#1a1214" stroke-width="1.5"/><circle cx="444.6" cy="227.4" r="2.5" fill="#1a1214"/><line x1="437.4" y1="239.9" x2="453.8" y2="230.4" stroke="#1a1214" stroke-width="1.5"/><circle cx="453.8" cy="230.4" r="2.5" fill="#1a1214"/><line x1="437.4" y1="239.9" x2="451.8" y2="239.9" stroke="#1a1214" stroke-width="1.5"/><circle cx="451.8" cy="239.9" r="2.5" fill="#1a1214"/><polygon points="445,244.3 437.4,248.7 429.8,244.3 429.8,235.5 437.4,231.1 445,235.5" fill="#1a1214" stroke="#3a28a0" stroke-width="1.6" stroke-linejoin="round"/>
<line x1="416.9" y1="251" x2="433.3" y2="260.5" stroke="#1a1214" stroke-width="1.5"/><circle cx="433.3" cy="260.5" r="2.5" fill="#1a1214"/><line x1="416.9" y1="251" x2="424.1" y2="263.5" stroke="#1a1214" stroke-width="1.5"/><circle cx="424.1" cy="263.5" r="2.5" fill="#1a1214"/><line x1="416.9" y1="251" x2="416.9" y2="270" stroke="#1a1214" stroke-width="1.5"/><circle cx="416.9" cy="270" r="2.5" fill="#1a1214"/><line x1="416.9" y1="251" x2="409.7" y2="263.5" stroke="#1a1214" stroke-width="1.5"/><circle cx="409.7" cy="263.5" r="2.5" fill="#1a1214"/><line x1="416.9" y1="251" x2="400.4" y2="260.5" stroke="#1a1214" stroke-width="1.5"/><circle cx="400.4" cy="260.5" r="2.5" fill="#1a1214"/><line x1="416.9" y1="251" x2="402.5" y2="251" stroke="#1a1214" stroke-width="1.5"/><circle cx="402.5" cy="251" r="2.5" fill="#1a1214"/><line x1="416.9" y1="251" x2="400.4" y2="241.5" stroke="#1a1214" stroke-width="1.5"/><circle cx="400.4" cy="241.5" r="2.5" fill="#1a1214"/><line x1="416.9" y1="251" x2="409.7" y2="238.6" stroke="#1a1214" stroke-width="1.5"/><circle cx="409.7" cy="238.6" r="2.5" fill="#1a1214"/><line x1="416.9" y1="251" x2="416.9" y2="232" stroke="#1a1214" stroke-width="1.5"/><circle cx="416.9" cy="232" r="2.5" fill="#1a1214"/><line x1="416.9" y1="251" x2="424.1" y2="238.6" stroke="#1a1214" stroke-width="1.5"/><circle cx="424.1" cy="238.6" r="2.5" fill="#1a1214"/><line x1="416.9" y1="251" x2="433.3" y2="241.5" stroke="#1a1214" stroke-width="1.5"/><circle cx="433.3" cy="241.5" r="2.5" fill="#1a1214"/><line x1="416.9" y1="251" x2="431.3" y2="251" stroke="#1a1214" stroke-width="1.5"/><circle cx="431.3" cy="251" r="2.5" fill="#1a1214"/><polygon points="424.5,255.4 416.9,259.8 409.3,255.4 409.3,246.6 416.9,242.2 424.5,246.6" fill="#1a1214" stroke="#3a28a0" stroke-width="1.6" stroke-linejoin="round"/>
<line x1="454.8" y1="258.6" x2="471.3" y2="268.1" stroke="#1a1214" stroke-width="1.5"/><circle cx="471.3" cy="268.1" r="2.5" fill="#1a1214"/><line x1="454.8" y1="258.6" x2="462" y2="271.1" stroke="#1a1214" stroke-width="1.5"/><circle cx="462" cy="271.1" r="2.5" fill="#1a1214"/><line x1="454.8" y1="258.6" x2="454.8" y2="277.6" stroke="#1a1214" stroke-width="1.5"/><circle cx="454.8" cy="277.6" r="2.5" fill="#1a1214"/><line x1="454.8" y1="258.6" x2="447.6" y2="271.1" stroke="#1a1214" stroke-width="1.5"/><circle cx="447.6" cy="271.1" r="2.5" fill="#1a1214"/><line x1="454.8" y1="258.6" x2="438.4" y2="268.1" stroke="#1a1214" stroke-width="1.5"/><circle cx="438.4" cy="268.1" r="2.5" fill="#1a1214"/><line x1="454.8" y1="258.6" x2="440.4" y2="258.6" stroke="#1a1214" stroke-width="1.5"/><circle cx="440.4" cy="258.6" r="2.5" fill="#1a1214"/><line x1="454.8" y1="258.6" x2="438.4" y2="249.1" stroke="#1a1214" stroke-width="1.5"/><circle cx="438.4" cy="249.1" r="2.5" fill="#1a1214"/><line x1="454.8" y1="258.6" x2="447.6" y2="246.2" stroke="#1a1214" stroke-width="1.5"/><circle cx="447.6" cy="246.2" r="2.5" fill="#1a1214"/><line x1="454.8" y1="258.6" x2="454.8" y2="239.6" stroke="#1a1214" stroke-width="1.5"/><circle cx="454.8" cy="239.6" r="2.5" fill="#1a1214"/><line x1="454.8" y1="258.6" x2="462" y2="246.2" stroke="#1a1214" stroke-width="1.5"/><circle cx="462" cy="246.2" r="2.5" fill="#1a1214"/><line x1="454.8" y1="258.6" x2="471.3" y2="249.1" stroke="#1a1214" stroke-width="1.5"/><circle cx="471.3" cy="249.1" r="2.5" fill="#1a1214"/><line x1="454.8" y1="258.6" x2="469.2" y2="258.6" stroke="#1a1214" stroke-width="1.5"/><circle cx="469.2" cy="258.6" r="2.5" fill="#1a1214"/><polygon points="462.5,263 454.8,267.4 447.2,263 447.2,254.2 454.8,249.8 462.5,254.2" fill="#1a1214" stroke="#3a28a0" stroke-width="1.6" stroke-linejoin="round"/>
<text x="433.6" y="327.2" font-size="18.6" text-anchor="middle" textLength="173.8" lengthAdjust="spacingAndGlyphs">Lentiviral Production</text>
<line x1="508" y1="214.4" x2="535.4" y2="214.4" stroke="#000" stroke-width="2.2"/><polygon points="547.4,214.4 534.4,220.6 534.4,208.1" fill="#000"/>
<ellipse cx="611.7" cy="200.2" rx="12.5" ry="10" fill="#8a4c3c" transform="rotate(-10 611.7 200.2)"/><ellipse cx="611.7" cy="200.2" rx="10.5" ry="8.2" fill="#5e3a40" transform="rotate(-10 611.7 200.2)"/><ellipse cx="611.7" cy="200.2" rx="8.8" ry="6.6" fill="#3a3040" transform="rotate(-10 611.7 200.2)"/><ellipse cx="611.7" cy="200.2" rx="7.2" ry="5.2" fill="#26222a" transform="rotate(-10 611.7 200.2)"/>
<ellipse cx="600.1" cy="218.9" rx="17" ry="13.3" fill="#8a4c3c" transform="rotate(-15 600.1 218.9)"/><ellipse cx="600.1" cy="218.9" rx="14.3" ry="10.9" fill="#5e3a40" transform="rotate(-15 600.1 218.9)"/><ellipse cx="600.1" cy="218.9" rx="11.9" ry="8.8" fill="#3a3040" transform="rotate(-15 600.1 218.9)"/><ellipse cx="600.1" cy="218.9" rx="9.9" ry="6.9" fill="#26222a" transform="rotate(-15 600.1 218.9)"/>
<ellipse cx="634.5" cy="209.3" rx="16.5" ry="13.2" fill="#8a4c3c" transform="rotate(-10 634.5 209.3)"/><ellipse cx="634.5" cy="209.3" rx="13.9" ry="10.8" fill="#5e3a40" transform="rotate(-10 634.5 209.3)"/><ellipse cx="634.5" cy="209.3" rx="11.5" ry="8.7" fill="#3a3040" transform="rotate(-10 634.5 209.3)"/><ellipse cx="634.5" cy="209.3" rx="9.6" ry="6.9" fill="#26222a" transform="rotate(-10 634.5 209.3)"/>
<ellipse cx="642.1" cy="227.8" rx="10.5" ry="8.4" fill="#8a4c3c" transform="rotate(0 642.1 227.8)"/><ellipse cx="642.1" cy="227.8" rx="8.8" ry="6.9" fill="#5e3a40" transform="rotate(0 642.1 227.8)"/><ellipse cx="642.1" cy="227.8" rx="7.3" ry="5.5" fill="#3a3040" transform="rotate(0 642.1 227.8)"/><ellipse cx="642.1" cy="227.8" rx="6.1" ry="4.4" fill="#26222a" transform="rotate(0 642.1 227.8)"/>
<ellipse cx="620.1" cy="227.8" rx="12.5" ry="10" fill="#8a4c3c" transform="rotate(0 620.1 227.8)"/><ellipse cx="620.1" cy="227.8" rx="10.5" ry="8.2" fill="#5e3a40" transform="rotate(0 620.1 227.8)"/><ellipse cx="620.1" cy="227.8" rx="8.8" ry="6.6" fill="#3a3040" transform="rotate(0 620.1 227.8)"/><ellipse cx="620.1" cy="227.8" rx="7.2" ry="5.2" fill="#26222a" transform="rotate(0 620.1 227.8)"/>
<text x="623.7" y="312.4" font-size="18.6" text-anchor="middle" textLength="163.4" lengthAdjust="spacingAndGlyphs">CT26 Cancer Cells</text>
<text x="623.7" y="331.5" font-size="18.6" text-anchor="middle" textLength="132.3" lengthAdjust="spacingAndGlyphs">w/wo IDH1-mut</text>
<line x1="685.5" y1="214" x2="713.8" y2="214" stroke="#000" stroke-width="2.2"/><polygon points="725.8,214 712.8,220.2 712.8,207.7" fill="#000"/>
<polygon points="786.8,38.1 777.3,43.6 767.7,38.1 767.7,27.1 777.3,21.6 786.8,27.1" fill="none" stroke="#555" stroke-width="0.7"/><line x1="784.9" y1="37" x2="777.3" y2="41.4" stroke="#555" stroke-width="0.6"/><line x1="769.6" y1="37" x2="769.6" y2="28.2" stroke="#555" stroke-width="0.6"/><line x1="777.3" y1="23.8" x2="784.9" y2="28.2" stroke="#555" stroke-width="0.6"/>
<polygon points="823.6,43.5 814.1,49 804.5,43.5 804.5,32.4 814.1,26.9 823.6,32.4" fill="none" stroke="#555" stroke-width="0.7"/><line x1="821.7" y1="42.4" x2="814.1" y2="46.8" stroke="#555" stroke-width="0.6"/><line x1="806.5" y1="42.4" x2="806.5" y2="33.5" stroke="#555" stroke-width="0.6"/><line x1="814.1" y1="29.1" x2="821.7" y2="33.5" stroke="#555" stroke-width="0.6"/>
<polygon points="814.1,91.3 804.6,96.8 795.1,91.3 795.1,80.3 804.6,74.8 814.1,80.3" fill="none" stroke="#555" stroke-width="0.7"/><line x1="812.2" y1="90.2" x2="804.6" y2="94.6" stroke="#555" stroke-width="0.6"/><line x1="797" y1="90.2" x2="797" y2="81.4" stroke="#555" stroke-width="0.6"/><line x1="804.6" y1="77" x2="812.2" y2="81.4" stroke="#555" stroke-width="0.6"/>
<polyline points="786.8,27.1 806.1,17.5" fill="none" stroke="#555" stroke-width="0.7"/>
<polyline points="787.5,28.5 806.9,18.8" fill="none" stroke="#555" stroke-width="0.7"/>
<polyline points="786,25.8 805.4,16.1" fill="none" stroke="#555" stroke-width="0.7"/>
<polyline points="777.3,43.6 777.3,54.1" fill="none" stroke="#555" stroke-width="0.7"/>
<polygon points="777.3,54.1 786.8,60.3 783.3,70.6 772,70.6 768.2,60.3" fill="none" stroke="#555" stroke-width="0.7"/>
<polyline points="768.2,60.3 758.7,56.5" fill="none" stroke="#555" stroke-width="0.7"/>
<polyline points="768.7,59.2 759.2,55.4" fill="none" stroke="#555" stroke-width="0.7"/>
<polyline points="786.8,60.3 796.6,56.9 804.6,64.1 814.1,59.2 824.3,61.1 835.5,59.2 843.1,66.4" fill="none" stroke="#555" stroke-width="0.7"/>
<polyline points="796.6,56.9 796.6,47.1" fill="none" stroke="#555" stroke-width="0.7"/>
<polyline points="795.5,56.9 795.5,47.1" fill="none" stroke="#555" stroke-width="0.7"/>
<polyline points="814.1,59.2 814.1,49" fill="none" stroke="#555" stroke-width="0.7"/>
<polyline points="824.3,61.1 824.3,72.1" fill="none" stroke="#555" stroke-width="0.7"/>
<polyline points="823.2,61.1 823.2,72.1" fill="none" stroke="#555" stroke-width="0.7"/>
<polyline points="804.6,64.1 804.6,74.8" fill="none" stroke="#555" stroke-width="0.7"/>
<polygon points="804.6,64.1 812.8,59.2 814.1,61.1" fill="#222"/>
<polyline points="823.6,43.5 834.6,46.1" fill="none" stroke="#555" stroke-width="0.7"/>
<polygon points="843.1,66.4 854.5,66.4 854.5,77.4 843.1,77.4" fill="none" stroke="#555" stroke-width="0.7"/>
<polyline points="854.5,77.4 864.9,77.4" fill="none" stroke="#555" stroke-width="0.7"/>
<polyline points="854.5,77.4 857,87.3" fill="none" stroke="#555" stroke-width="0.7"/>
<polyline points="795.1,91.3 787.5,97.7" fill="none" stroke="#555" stroke-width="0.7"/>
<text x="796.6" y="47.3" font-size="3.6" text-anchor="middle" fill="#444">O</text>
<text x="757.7" y="58.7" font-size="3.6" text-anchor="middle" fill="#444">O</text>
<text x="824.3" y="74.3" font-size="3.6" text-anchor="middle" fill="#444">O</text>
<text x="835.5" y="47.7" font-size="3.6" text-anchor="middle" fill="#444">Cl</text>
<text x="835.5" y="57.7" font-size="3.6" text-anchor="middle" fill="#444">H</text>
<text x="786.8" y="99.9" font-size="3.6" text-anchor="middle" fill="#444">F</text>
<text x="804.6" y="66.1" font-size="3.6" text-anchor="middle" fill="#444">N</text>
<text x="777.3" y="55.8" font-size="3.6" text-anchor="middle" fill="#444">N</text>
<text x="808.4" y="116.7" font-size="19.5" text-anchor="middle" textLength="86.5" lengthAdjust="spacingAndGlyphs">Ivosidenib</text>
<text y="136.2" font-size="19.5"><tspan x="764.9" font-size="19" dy="-0.4">（</tspan><tspan x="784.3" dy="0.4" textLength="73.2" lengthAdjust="spacingAndGlyphs">20mg/kg</tspan><tspan x="859.2" font-size="19" dy="-0.4">）</tspan></text>
<line x1="841.6" y1="149" x2="841.6" y2="176.8" stroke="#000" stroke-width="2.4"/><polygon points="841.6,188.8 835.1,175.8 848.1,175.8" fill="#000"/>
<ellipse cx="730.2" cy="207.8" rx="1.2" ry="6.5" fill="none" transform="rotate(22 730.2 207.8)" stroke="#222" stroke-width="0.7"/><ellipse cx="738.2" cy="211" rx="1.5" ry="10.5" fill="none" transform="rotate(22 738.2 211)" stroke="#222" stroke-width="0.7"/><polyline points="730.6,206.8 739.7,210.2 758.7,218.2" fill="none" stroke="#222" stroke-width="0.7"/><polyline points="729.8,209.1 738.2,212.9 756.8,221.3" fill="none" stroke="#222" stroke-width="0.7"/><polyline points="739.7,208.7 758.7,216.3 766.3,219.7" fill="none" stroke="#222" stroke-width="0.8"/><polyline points="737.4,214 755.8,222.4 763.4,226.2" fill="none" stroke="#222" stroke-width="0.8"/><polyline points="741.6,212.1 757.7,219.4" fill="none" stroke="#111" stroke-width="2.2"/><polygon points="757.2,216.3 767.8,220.1 769.7,223.5 766.3,226.9 755.8,222.8" fill="#6a62c4" stroke="#222" stroke-width="0.7"/><line x1="759.8" y1="217.6" x2="758.4" y2="223.4" stroke="#222" stroke-width="0.6"/><line x1="762.5" y1="218.6" x2="761" y2="224.5" stroke="#222" stroke-width="0.6"/><line x1="765.1" y1="219.5" x2="763.7" y2="225.5" stroke="#222" stroke-width="0.6"/><polygon points="768.5,222 773.9,224.9 772.9,226.9 767.2,225.8" fill="#444" stroke="#222" stroke-width="0.6"/><polyline points="773.5,225.8 785.6,230.7" fill="none" stroke="#5a52b8" stroke-width="1.6"/><polyline points="773.5,225.8 785.6,230.7" fill="none" stroke="#222" stroke-width="0.5"/>
<path d="M770.4 225 C772.3 225.4 777.7 226.2 781.4 226.9 C785.2 227.6 789 228.6 792.8 229.2 C796.6 229.9 800.9 230.7 804.2 230.9 C807.5 231.1 810.4 231 812.8 230.4 C815.1 229.8 817.1 228.7 818.4 227.3 C819.8 225.9 820.2 224 820.9 222 C821.6 220 821.7 217.6 822.8 215.4 C823.9 213.2 825.2 210.9 827.4 208.7 C829.5 206.5 832.4 203.9 835.5 202.1 C838.6 200.3 842.3 198.9 846 197.9 C849.6 196.9 853.9 196.4 857.3 196.2 C860.8 196 864 196.1 866.8 196.6 C869.7 197 872 197.8 874.4 198.9 C876.9 199.9 880.4 202.3 881.6 203" fill="none" stroke="#111" stroke-width="1.1"/>
<path d="M881.6 203 C881.9 202.4 882.5 200.2 883.5 199.2 C884.5 198.3 886.3 197.5 887.7 197.3 C889.1 197.2 890.8 197.7 891.9 198.5 C893 199.3 893.9 200.9 894.2 202.3 C894.4 203.6 893.5 205.8 893.4 206.5" fill="none" stroke="#111" stroke-width="1.1"/>
<path d="M893.4 206.5 C894.2 207.6 896.7 210.9 898.1 213.5 C899.6 216.1 900.9 219.2 901.9 222 C903 224.9 903.9 228.6 904.4 230.6 C904.9 232.5 905.1 232.9 904.8 233.8 C904.5 234.7 903.5 235.5 902.5 236.1 C901.5 236.6 899.9 236.9 898.7 236.8 C897.5 236.7 896.7 235.9 895.3 235.3 C893.9 234.7 892 233.5 890.6 233.4 C889.1 233.3 887.7 233.9 886.8 234.5 C885.8 235.2 886 236.6 884.9 237.2 C883.8 237.8 881.5 238.5 880.1 238.3 C878.7 238.2 877.9 236.9 876.3 236.4 C874.7 235.9 872.5 235.3 870.6 235.3 C868.7 235.3 866.5 235.9 864.9 236.4 C863.4 237 862.7 238.2 861.1 238.7 C859.6 239.2 857.3 239.5 855.4 239.5 C853.5 239.5 852.3 239.1 849.8 238.7 C847.2 238.3 843.4 238 840.3 237.2 C837.1 236.4 833.6 235 830.8 234.2 C827.9 233.3 825.2 232.1 823.2 231.9 C821.1 231.7 820.3 232.5 818.4 233 C816.5 233.5 814.8 234.7 811.8 234.9 C808.8 235.2 804.2 234.9 800.4 234.5 C796.6 234.2 792.8 233.4 789 232.6 C785.2 231.9 781.4 230.9 777.6 230 C773.9 229 768.2 227.5 766.3 226.9" fill="none" stroke="#111" stroke-width="1.1"/>
<polyline points="850.7,238.1 852.2,241.2 853.4,238.9 854.5,241.6 855.6,238.9" fill="none" stroke="#111" stroke-width="0.8"/>
<polyline points="857.3,238.7 858.9,241.7 860,239.5 861.1,242.1 862.3,239.5" fill="none" stroke="#111" stroke-width="0.8"/>
<polyline points="880.1,237.2 881.6,240.2 882.8,238 883.9,240.6 885,238" fill="none" stroke="#111" stroke-width="0.8"/>
<circle cx="889.2" cy="219.2" r="2.4" fill="#1a1210"/>
<circle cx="869.8" cy="214" r="1.9" fill="#3c2438" stroke="#b44a64" stroke-width="0.8"/>
<circle cx="867.3" cy="215.3" r="1.9" fill="#3c2438" stroke="#b44a64" stroke-width="0.8"/>
<circle cx="868.9" cy="211.6" r="1.9" fill="#3c2438" stroke="#b44a64" stroke-width="0.8"/>
<circle cx="870.5" cy="216.4" r="1.9" fill="#3c2438" stroke="#b44a64" stroke-width="0.8"/>
<circle cx="865.4" cy="213.5" r="1.9" fill="#3c2438" stroke="#b44a64" stroke-width="0.8"/>
<circle cx="871.9" cy="212.1" r="1.9" fill="#3c2438" stroke="#b44a64" stroke-width="0.8"/>
<circle cx="867.7" cy="217.9" r="1.9" fill="#3c2438" stroke="#b44a64" stroke-width="0.8"/>
<circle cx="866.7" cy="210.2" r="1.9" fill="#3c2438" stroke="#b44a64" stroke-width="0.8"/>
<circle cx="873" cy="215.6" r="1.9" fill="#3c2438" stroke="#b44a64" stroke-width="0.8"/>
<circle cx="864.2" cy="215.9" r="1.9" fill="#3c2438" stroke="#b44a64" stroke-width="0.8"/>
<circle cx="870.9" cy="209.4" r="1.9" fill="#3c2438" stroke="#b44a64" stroke-width="0.8"/>
<circle cx="870.3" cy="219.1" r="1.9" fill="#3c2438" stroke="#b44a64" stroke-width="0.8"/>
<circle cx="863.9" cy="211.2" r="1.9" fill="#3c2438" stroke="#b44a64" stroke-width="0.8"/>
<circle cx="874.4" cy="212.8" r="1.9" fill="#3c2438" stroke="#b44a64" stroke-width="0.8"/>
<circle cx="865.3" cy="219" r="1.9" fill="#3c2438" stroke="#b44a64" stroke-width="0.8"/>
<circle cx="867.9" cy="207.9" r="1.9" fill="#3c2438" stroke="#b44a64" stroke-width="0.8"/>
<circle cx="873.6" cy="218.2" r="1.9" fill="#3c2438" stroke="#b44a64" stroke-width="0.8"/>
<circle cx="862.1" cy="214.3" r="1.9" fill="#3c2438" stroke="#b44a64" stroke-width="0.8"/>
<circle cx="873.5" cy="209.3" r="1.9" fill="#3c2438" stroke="#b44a64" stroke-width="0.8"/>
<circle cx="868.4" cy="221" r="1.9" fill="#3c2438" stroke="#b44a64" stroke-width="0.8"/>
<circle cx="864.2" cy="208.6" r="1.9" fill="#3c2438" stroke="#b44a64" stroke-width="0.8"/>
<circle cx="876" cy="215" r="1.9" fill="#3c2438" stroke="#b44a64" stroke-width="0.8"/>
</g>
<g id="panel_a2"><line x1="935" y1="181.9" x2="989.1" y2="152.2" stroke="#000" stroke-width="2.2"/><polygon points="999.6,146.4 991.3,158.1 985.2,147.2" fill="#000"/>
<line x1="930.7" y1="261.1" x2="989.3" y2="280" stroke="#000" stroke-width="2.2"/><polygon points="1000.7,283.7 986.4,285.6 990.3,273.7" fill="#000"/>
<line x1="1247.2" y1="122.7" x2="1309" y2="122.7" stroke="#000" stroke-width="2.2"/><polygon points="1321,122.7 1308,129 1308,116.5" fill="#000"/>
<line x1="1248.3" y1="306.3" x2="1310.6" y2="306.3" stroke="#000" stroke-width="2.2"/><polygon points="1322.6,306.3 1309.6,312.5 1309.6,300" fill="#000"/>
<text x="1058.8" y="205.1" font-size="18.6" textLength="134" lengthAdjust="spacingAndGlyphs">Harvest Muscle</text>
<text x="1061" y="394.3" font-size="18.6" textLength="107.7" lengthAdjust="spacingAndGlyphs">Survival rate</text>
<clipPath id="mph"><rect x="1033.7" y="78" width="183.7" height="84.5"/></clipPath><filter id="bl1" x="-5%" y="-5%" width="110%" height="110%"><feGaussianBlur stdDeviation="0.7"/></filter><g clip-path="url(#mph)"><rect x="1033.7" y="78" width="183.7" height="84.5" fill="#eceaee"/><g filter="url(#bl1)"><ellipse cx="1044.4" cy="91.4" rx="6.4" ry="10.4" fill="#dc9a94" transform="rotate(8 1044.4 91.4)"/><ellipse cx="1044.4" cy="90.8" rx="5.5" ry="9" fill="#c46860" transform="rotate(8 1044.4 90.8)"/><ellipse cx="1043.6" cy="89.8" rx="2.5" ry="6" fill="#cf847c" transform="rotate(8 1043.6 89.8)"/><ellipse cx="1055.6" cy="90.4" rx="6.4" ry="10" fill="#dc9a94" transform="rotate(-8 1055.6 90.4)"/><ellipse cx="1055.6" cy="89.8" rx="5.5" ry="8.6" fill="#c46860" transform="rotate(-8 1055.6 89.8)"/><ellipse cx="1054.8" cy="88.8" rx="2.5" ry="5.8" fill="#cf847c" transform="rotate(-8 1054.8 88.8)"/><ellipse cx="1073.2" cy="93" rx="6.4" ry="10" fill="#dc9a94" transform="rotate(5 1073.2 93)"/><ellipse cx="1073.2" cy="92.4" rx="5.5" ry="8.6" fill="#c46860" transform="rotate(5 1073.2 92.4)"/><ellipse cx="1072.4" cy="91.4" rx="2.5" ry="5.8" fill="#cf847c" transform="rotate(5 1072.4 91.4)"/><ellipse cx="1083" cy="93.4" rx="6" ry="9.6" fill="#dc9a94" transform="rotate(-5 1083 93.4)"/><ellipse cx="1083" cy="92.8" rx="5.2" ry="8.3" fill="#c46860" transform="rotate(-5 1083 92.8)"/><ellipse cx="1082.2" cy="91.8" rx="2.3" ry="5.5" fill="#cf847c" transform="rotate(-5 1082.2 91.8)"/><ellipse cx="1106.1" cy="93" rx="6.8" ry="10" fill="#dc9a94" transform="rotate(0 1106.1 93)"/><ellipse cx="1106.1" cy="92.4" rx="5.9" ry="8.6" fill="#c46860" transform="rotate(0 1106.1 92.4)"/><ellipse cx="1105.3" cy="91.4" rx="2.6" ry="5.8" fill="#cf847c" transform="rotate(0 1105.3 91.4)"/><ellipse cx="1119.2" cy="94.7" rx="6.4" ry="11" fill="#dc9a94" transform="rotate(0 1119.2 94.7)"/><ellipse cx="1119.2" cy="94.1" rx="5.5" ry="9.5" fill="#c46860" transform="rotate(0 1119.2 94.1)"/><ellipse cx="1118.4" cy="93.1" rx="2.5" ry="6.3" fill="#cf847c" transform="rotate(0 1118.4 93.1)"/><ellipse cx="1134" cy="93.4" rx="6" ry="9" fill="#dc9a94" transform="rotate(8 1134 93.4)"/><ellipse cx="1134" cy="92.8" rx="5.2" ry="7.8" fill="#c46860" transform="rotate(8 1134 92.8)"/><ellipse cx="1133.2" cy="91.8" rx="2.3" ry="5.2" fill="#cf847c" transform="rotate(8 1133.2 91.8)"/><ellipse cx="1145.5" cy="93" rx="6.8" ry="8.4" fill="#dc9a94" transform="rotate(-10 1145.5 93)"/><ellipse cx="1145.5" cy="92.4" rx="5.9" ry="7.3" fill="#c46860" transform="rotate(-10 1145.5 92.4)"/><ellipse cx="1144.7" cy="91.4" rx="2.6" ry="4.8" fill="#cf847c" transform="rotate(-10 1144.7 91.4)"/><ellipse cx="1165.3" cy="93.7" rx="6.4" ry="10" fill="#dc9a94" transform="rotate(3 1165.3 93.7)"/><ellipse cx="1165.3" cy="93.1" rx="5.5" ry="8.6" fill="#c46860" transform="rotate(3 1165.3 93.1)"/><ellipse cx="1164.5" cy="92.1" rx="2.5" ry="5.8" fill="#cf847c" transform="rotate(3 1164.5 92.1)"/><ellipse cx="1178.4" cy="93.7" rx="6.4" ry="10.4" fill="#dc9a94" transform="rotate(-3 1178.4 93.7)"/><ellipse cx="1178.4" cy="93.1" rx="5.5" ry="9" fill="#c46860" transform="rotate(-3 1178.4 93.1)"/><ellipse cx="1177.6" cy="92.1" rx="2.5" ry="6" fill="#cf847c" transform="rotate(-3 1177.6 92.1)"/><ellipse cx="1199.8" cy="95.8" rx="6.4" ry="9.6" fill="#dc9a94" transform="rotate(5 1199.8 95.8)"/><ellipse cx="1199.8" cy="95.2" rx="5.5" ry="8.3" fill="#c46860" transform="rotate(5 1199.8 95.2)"/><ellipse cx="1199" cy="94.2" rx="2.5" ry="5.5" fill="#cf847c" transform="rotate(5 1199 94.2)"/><ellipse cx="1210.8" cy="95.8" rx="6.8" ry="9.2" fill="#dc9a94" transform="rotate(-5 1210.8 95.8)"/><ellipse cx="1210.8" cy="95.2" rx="5.9" ry="7.9" fill="#c46860" transform="rotate(-5 1210.8 95.2)"/><ellipse cx="1210" cy="94.2" rx="2.6" ry="5.3" fill="#cf847c" transform="rotate(-5 1210 94.2)"/><ellipse cx="1041.9" cy="122.5" rx="4.3" ry="7.9" fill="#e0a090" transform="rotate(8 1041.9 122.5)"/><ellipse cx="1041.9" cy="122" rx="3.6" ry="6.7" fill="#cc5e50" transform="rotate(8 1041.9 122)"/><ellipse cx="1049.3" cy="121.5" rx="4.7" ry="7.5" fill="#e0a090" transform="rotate(-10 1049.3 121.5)"/><ellipse cx="1049.3" cy="121" rx="3.9" ry="6.4" fill="#cc5e50" transform="rotate(-10 1049.3 121)"/><ellipse cx="1072.4" cy="123.7" rx="4.7" ry="7.5" fill="#e0a090" transform="rotate(0 1072.4 123.7)"/><ellipse cx="1072.4" cy="123.2" rx="3.9" ry="6.4" fill="#cc5e50" transform="rotate(0 1072.4 123.2)"/><ellipse cx="1080.6" cy="123.7" rx="4.7" ry="7.9" fill="#e0a090" transform="rotate(0 1080.6 123.7)"/><ellipse cx="1080.6" cy="123.2" rx="3.9" ry="6.7" fill="#cc5e50" transform="rotate(0 1080.6 123.2)"/><ellipse cx="1106.6" cy="125.3" rx="5.6" ry="8.7" fill="#e0a090" transform="rotate(0 1106.6 125.3)"/><ellipse cx="1106.6" cy="124.8" rx="4.6" ry="7.4" fill="#cc5e50" transform="rotate(0 1106.6 124.8)"/><ellipse cx="1117.1" cy="127" rx="6" ry="7.9" fill="#e0a090" transform="rotate(0 1117.1 127)"/><ellipse cx="1117.1" cy="126.5" rx="5" ry="6.7" fill="#cc5e50" transform="rotate(0 1117.1 126.5)"/><ellipse cx="1136.8" cy="124.5" rx="4.7" ry="7.5" fill="#e0a090" transform="rotate(0 1136.8 124.5)"/><ellipse cx="1136.8" cy="124" rx="3.9" ry="6.4" fill="#cc5e50" transform="rotate(0 1136.8 124)"/><ellipse cx="1145" cy="124.8" rx="5.1" ry="7.5" fill="#e0a090" transform="rotate(0 1145 124.8)"/><ellipse cx="1145" cy="124.3" rx="4.3" ry="6.4" fill="#cc5e50" transform="rotate(0 1145 124.3)"/><ellipse cx="1166.1" cy="123.7" rx="5.1" ry="6.7" fill="#e0a090" transform="rotate(0 1166.1 123.7)"/><ellipse cx="1166.1" cy="123.2" rx="4.3" ry="5.7" fill="#cc5e50" transform="rotate(0 1166.1 123.2)"/><ellipse cx="1179.6" cy="126.5" rx="4.7" ry="7.9" fill="#e0a090" transform="rotate(8 1179.6 126.5)"/><ellipse cx="1179.6" cy="126" rx="3.9" ry="6.7" fill="#cc5e50" transform="rotate(8 1179.6 126)"/><ellipse cx="1201" cy="127.8" rx="4.7" ry="7.9" fill="#e0a090" transform="rotate(5 1201 127.8)"/><ellipse cx="1201" cy="127.3" rx="3.9" ry="6.7" fill="#cc5e50" transform="rotate(5 1201 127.3)"/><ellipse cx="1209.7" cy="127" rx="4.3" ry="7.5" fill="#e0a090" transform="rotate(-5 1209.7 127)"/><ellipse cx="1209.7" cy="126.5" rx="3.6" ry="6.4" fill="#cc5e50" transform="rotate(-5 1209.7 126.5)"/></g><rect x="1033.7" y="138" width="183.7" height="24.5" fill="#c9c9c6"/><rect x="1033.7" y="138" width="103.6" height="8.2" fill="#8e8e8c"/><rect x="1137.3" y="138" width="80.1" height="8.2" fill="#b6b6b2"/><line x1="1034.7" y1="138.5" x2="1034.7" y2="149.2" stroke="#5a5a58" stroke-width="0.7"/><line x1="1036.8" y1="138.5" x2="1036.8" y2="146.2" stroke="#5a5a58" stroke-width="0.7"/><line x1="1038.8" y1="138.5" x2="1038.8" y2="146.2" stroke="#5a5a58" stroke-width="0.7"/><line x1="1040.9" y1="138.5" x2="1040.9" y2="146.2" stroke="#5a5a58" stroke-width="0.7"/><line x1="1042.9" y1="138.5" x2="1042.9" y2="146.2" stroke="#5a5a58" stroke-width="0.7"/><line x1="1044.9" y1="138.5" x2="1044.9" y2="149.2" stroke="#5a5a58" stroke-width="0.7"/><line x1="1047" y1="138.5" x2="1047" y2="146.2" stroke="#5a5a58" stroke-width="0.7"/><line x1="1049" y1="138.5" x2="1049" y2="146.2" stroke="#5a5a58" stroke-width="0.7"/><line x1="1051.1" y1="138.5" x2="1051.1" y2="146.2" stroke="#5a5a58" stroke-width="0.7"/><line x1="1053.1" y1="138.5" x2="1053.1" y2="146.2" stroke="#5a5a58" stroke-width="0.7"/><line x1="1055.1" y1="138.5" x2="1055.1" y2="149.2" stroke="#5a5a58" stroke-width="0.7"/><line x1="1057.2" y1="138.5" x2="1057.2" y2="146.2" stroke="#5a5a58" stroke-width="0.7"/><line x1="1059.2" y1="138.5" x2="1059.2" y2="146.2" stroke="#5a5a58" stroke-width="0.7"/><line x1="1061.3" y1="138.5" x2="1061.3" y2="146.2" stroke="#5a5a58" stroke-width="0.7"/><line x1="1063.3" y1="138.5" x2="1063.3" y2="146.2" stroke="#5a5a58" stroke-width="0.7"/><line x1="1065.3" y1="138.5" x2="1065.3" y2="149.2" stroke="#5a5a58" stroke-width="0.7"/><line x1="1067.4" y1="138.5" x2="1067.4" y2="146.2" stroke="#5a5a58" stroke-width="0.7"/><line x1="1069.4" y1="138.5" x2="1069.4" y2="146.2" stroke="#5a5a58" stroke-width="0.7"/><line x1="1071.5" y1="138.5" x2="1071.5" y2="146.2" stroke="#5a5a58" stroke-width="0.7"/><line x1="1073.5" y1="138.5" x2="1073.5" y2="146.2" stroke="#5a5a58" stroke-width="0.7"/><line x1="1075.6" y1="138.5" x2="1075.6" y2="149.2" stroke="#5a5a58" stroke-width="0.7"/><line x1="1077.6" y1="138.5" x2="1077.6" y2="146.2" stroke="#5a5a58" stroke-width="0.7"/><line x1="1079.6" y1="138.5" x2="1079.6" y2="146.2" stroke="#5a5a58" stroke-width="0.7"/><line x1="1081.7" y1="138.5" x2="1081.7" y2="146.2" stroke="#5a5a58" stroke-width="0.7"/><line x1="1083.7" y1="138.5" x2="1083.7" y2="146.2" stroke="#5a5a58" stroke-width="0.7"/><line x1="1085.8" y1="138.5" x2="1085.8" y2="149.2" stroke="#5a5a58" stroke-width="0.7"/><line x1="1087.8" y1="138.5" x2="1087.8" y2="146.2" stroke="#5a5a58" stroke-width="0.7"/><line x1="1089.8" y1="138.5" x2="1089.8" y2="146.2" stroke="#5a5a58" stroke-width="0.7"/><line x1="1091.9" y1="138.5" x2="1091.9" y2="146.2" stroke="#5a5a58" stroke-width="0.7"/><line x1="1093.9" y1="138.5" x2="1093.9" y2="146.2" stroke="#5a5a58" stroke-width="0.7"/><line x1="1096" y1="138.5" x2="1096" y2="149.2" stroke="#5a5a58" stroke-width="0.7"/><line x1="1098" y1="138.5" x2="1098" y2="146.2" stroke="#5a5a58" stroke-width="0.7"/><line x1="1100" y1="138.5" x2="1100" y2="146.2" stroke="#5a5a58" stroke-width="0.7"/><line x1="1102.1" y1="138.5" x2="1102.1" y2="146.2" stroke="#5a5a58" stroke-width="0.7"/><line x1="1104.1" y1="138.5" x2="1104.1" y2="146.2" stroke="#5a5a58" stroke-width="0.7"/><line x1="1106.2" y1="138.5" x2="1106.2" y2="149.2" stroke="#5a5a58" stroke-width="0.7"/><line x1="1108.2" y1="138.5" x2="1108.2" y2="146.2" stroke="#5a5a58" stroke-width="0.7"/><line x1="1110.3" y1="138.5" x2="1110.3" y2="146.2" stroke="#5a5a58" stroke-width="0.7"/><line x1="1112.3" y1="138.5" x2="1112.3" y2="146.2" stroke="#5a5a58" stroke-width="0.7"/><line x1="1114.3" y1="138.5" x2="1114.3" y2="146.2" stroke="#5a5a58" stroke-width="0.7"/><line x1="1116.4" y1="138.5" x2="1116.4" y2="149.2" stroke="#5a5a58" stroke-width="0.7"/><line x1="1118.4" y1="138.5" x2="1118.4" y2="146.2" stroke="#5a5a58" stroke-width="0.7"/><line x1="1120.5" y1="138.5" x2="1120.5" y2="146.2" stroke="#5a5a58" stroke-width="0.7"/><line x1="1122.5" y1="138.5" x2="1122.5" y2="146.2" stroke="#5a5a58" stroke-width="0.7"/><line x1="1124.5" y1="138.5" x2="1124.5" y2="146.2" stroke="#5a5a58" stroke-width="0.7"/><line x1="1126.6" y1="138.5" x2="1126.6" y2="149.2" stroke="#5a5a58" stroke-width="0.7"/><line x1="1128.6" y1="138.5" x2="1128.6" y2="146.2" stroke="#5a5a58" stroke-width="0.7"/><line x1="1130.7" y1="138.5" x2="1130.7" y2="146.2" stroke="#5a5a58" stroke-width="0.7"/><line x1="1132.7" y1="138.5" x2="1132.7" y2="146.2" stroke="#5a5a58" stroke-width="0.7"/><line x1="1134.7" y1="138.5" x2="1134.7" y2="146.2" stroke="#5a5a58" stroke-width="0.7"/><line x1="1136.8" y1="138.5" x2="1136.8" y2="149.2" stroke="#5a5a58" stroke-width="0.7"/><line x1="1138.8" y1="138.5" x2="1138.8" y2="146.2" stroke="#777" stroke-width="0.7"/><line x1="1140.9" y1="138.5" x2="1140.9" y2="146.2" stroke="#777" stroke-width="0.7"/><line x1="1142.9" y1="138.5" x2="1142.9" y2="146.2" stroke="#777" stroke-width="0.7"/><line x1="1144.9" y1="138.5" x2="1144.9" y2="146.2" stroke="#777" stroke-width="0.7"/><line x1="1147" y1="138.5" x2="1147" y2="149.2" stroke="#777" stroke-width="0.7"/><line x1="1149" y1="138.5" x2="1149" y2="146.2" stroke="#777" stroke-width="0.7"/><line x1="1151.1" y1="138.5" x2="1151.1" y2="146.2" stroke="#777" stroke-width="0.7"/><line x1="1153.1" y1="138.5" x2="1153.1" y2="146.2" stroke="#777" stroke-width="0.7"/><line x1="1155.2" y1="138.5" x2="1155.2" y2="146.2" stroke="#777" stroke-width="0.7"/><line x1="1157.2" y1="138.5" x2="1157.2" y2="149.2" stroke="#777" stroke-width="0.7"/><line x1="1159.2" y1="138.5" x2="1159.2" y2="146.2" stroke="#777" stroke-width="0.7"/><line x1="1161.3" y1="138.5" x2="1161.3" y2="146.2" stroke="#777" stroke-width="0.7"/><line x1="1163.3" y1="138.5" x2="1163.3" y2="146.2" stroke="#777" stroke-width="0.7"/><line x1="1165.4" y1="138.5" x2="1165.4" y2="146.2" stroke="#777" stroke-width="0.7"/><line x1="1167.4" y1="138.5" x2="1167.4" y2="149.2" stroke="#777" stroke-width="0.7"/><line x1="1169.4" y1="138.5" x2="1169.4" y2="146.2" stroke="#777" stroke-width="0.7"/><line x1="1171.5" y1="138.5" x2="1171.5" y2="146.2" stroke="#777" stroke-width="0.7"/><line x1="1173.5" y1="138.5" x2="1173.5" y2="146.2" stroke="#777" stroke-width="0.7"/><line x1="1175.6" y1="138.5" x2="1175.6" y2="146.2" stroke="#777" stroke-width="0.7"/><line x1="1177.6" y1="138.5" x2="1177.6" y2="149.2" stroke="#777" stroke-width="0.7"/><line x1="1179.6" y1="138.5" x2="1179.6" y2="146.2" stroke="#777" stroke-width="0.7"/><line x1="1181.7" y1="138.5" x2="1181.7" y2="146.2" stroke="#777" stroke-width="0.7"/><line x1="1183.7" y1="138.5" x2="1183.7" y2="146.2" stroke="#777" stroke-width="0.7"/><line x1="1185.8" y1="138.5" x2="1185.8" y2="146.2" stroke="#777" stroke-width="0.7"/><line x1="1187.8" y1="138.5" x2="1187.8" y2="149.2" stroke="#777" stroke-width="0.7"/><line x1="1189.9" y1="138.5" x2="1189.9" y2="146.2" stroke="#777" stroke-width="0.7"/><line x1="1191.9" y1="138.5" x2="1191.9" y2="146.2" stroke="#777" stroke-width="0.7"/><line x1="1193.9" y1="138.5" x2="1193.9" y2="146.2" stroke="#777" stroke-width="0.7"/><line x1="1196" y1="138.5" x2="1196" y2="146.2" stroke="#777" stroke-width="0.7"/><line x1="1198" y1="138.5" x2="1198" y2="149.2" stroke="#777" stroke-width="0.7"/><line x1="1200.1" y1="138.5" x2="1200.1" y2="146.2" stroke="#777" stroke-width="0.7"/><line x1="1202.1" y1="138.5" x2="1202.1" y2="146.2" stroke="#777" stroke-width="0.7"/><line x1="1204.1" y1="138.5" x2="1204.1" y2="146.2" stroke="#777" stroke-width="0.7"/><line x1="1206.2" y1="138.5" x2="1206.2" y2="146.2" stroke="#777" stroke-width="0.7"/><line x1="1208.2" y1="138.5" x2="1208.2" y2="149.2" stroke="#777" stroke-width="0.7"/><line x1="1210.3" y1="138.5" x2="1210.3" y2="146.2" stroke="#777" stroke-width="0.7"/><line x1="1212.3" y1="138.5" x2="1212.3" y2="146.2" stroke="#777" stroke-width="0.7"/><line x1="1214.3" y1="138.5" x2="1214.3" y2="146.2" stroke="#777" stroke-width="0.7"/><line x1="1216.4" y1="138.5" x2="1216.4" y2="146.2" stroke="#777" stroke-width="0.7"/><text x="1053" y="160.5" font-size="11" text-anchor="middle" font-weight="bold" fill="#1a1a1a" style='font-family:"Liberation Serif",serif'>1</text><text x="1074.3" y="160.5" font-size="11" text-anchor="middle" font-weight="bold" fill="#1a1a1a" style='font-family:"Liberation Serif",serif'>2</text><text x="1095.1" y="160.5" font-size="11" text-anchor="middle" font-weight="bold" fill="#1a1a1a" style='font-family:"Liberation Serif",serif'>3</text><text x="1115.9" y="160.5" font-size="11" text-anchor="middle" font-weight="bold" fill="#1a1a1a" style='font-family:"Liberation Serif",serif'>4</text><text x="1136.8" y="160.5" font-size="11" text-anchor="middle" font-weight="bold" fill="#1a1a1a" style='font-family:"Liberation Serif",serif'>5</text><text x="1157.5" y="160.5" font-size="11" text-anchor="middle" font-weight="bold" fill="#1a1a1a" style='font-family:"Liberation Serif",serif'>6</text><text x="1178.4" y="160.5" font-size="11" text-anchor="middle" font-weight="bold" fill="#1a1a1a" style='font-family:"Liberation Serif",serif'>7</text><text x="1199" y="160.5" font-size="11" text-anchor="middle" font-weight="bold" fill="#1a1a1a" style='font-family:"Liberation Serif",serif'>8</text></g>
<polyline points="1068.2,249.6 1142.7,249.6 1142.7,258.4 1152.5,258.4 1152.5,267.1 1156.4,267.1 1156.4,275.9 1166.2,275.9 1166.2,284.7 1170.2,284.7 1170.2,293.4 1172.1,293.4 1172.1,302.2 1176,302.2 1176,311 1185.8,311 1185.8,328.5 1189.8,328.5 1189.8,337.3" fill="none" stroke="#4030a0" stroke-width="3.6"/><polyline points="1068.2,249.6 1117.2,249.6 1117.2,258.4 1121.2,258.4 1121.2,267.1 1129,267.1 1129,284.7 1138.8,284.7 1138.8,293.4 1148.6,293.4 1148.6,311 1150.6,311 1150.6,319.7 1152.5,319.7 1152.5,337.3" fill="none" stroke="#6a2c16" stroke-width="3.6"/><polyline points="1068.2,249.6 1123.1,249.6 1123.1,258.4 1134.9,258.4 1134.9,267.1 1152.5,267.1 1152.5,275.9 1156.4,275.9 1156.4,293.4 1162.3,293.4 1162.3,302.2 1164.3,302.2 1164.3,311 1166.2,311 1166.2,328.5 1176,328.5 1176,337.3" fill="none" stroke="#78b040" stroke-width="1.1"/><polyline points="1068.2,249.6 1138.8,249.6 1138.8,258.4 1142.7,258.4 1142.7,267.1 1148.6,267.1 1148.6,275.9 1150.6,275.9 1150.6,284.7 1152.5,284.7 1152.5,311 1162.3,311 1162.3,319.7 1166.2,319.7 1166.2,328.5 1172.1,328.5 1172.1,337.3" fill="none" stroke="#000" stroke-width="3.6"/><line x1="1068.2" y1="239.7" x2="1068.2" y2="338.6" stroke="#000" stroke-width="2.6"/><line x1="1065.7" y1="337.3" x2="1205.6" y2="337.3" stroke="#000" stroke-width="2.6"/><line x1="1065.2" y1="249.6" x2="1068.2" y2="249.6" stroke="#000" stroke-width="2.2"/><line x1="1065.7" y1="293.4" x2="1068.2" y2="293.4" stroke="#000" stroke-width="1.2"/><line x1="1068.2" y1="337.3" x2="1068.2" y2="339.5" stroke="#000" stroke-width="1.2"/><text x="1068.8" y="350.9" font-size="9.4" text-anchor="middle" font-weight="bold">0</text><line x1="1107.4" y1="337.3" x2="1107.4" y2="339.5" stroke="#000" stroke-width="1.2"/><text x="1108" y="350.9" font-size="9.4" text-anchor="middle" font-weight="bold">20</text><line x1="1146.6" y1="337.3" x2="1146.6" y2="339.5" stroke="#000" stroke-width="1.2"/><text x="1147.2" y="350.9" font-size="9.4" text-anchor="middle" font-weight="bold">40</text><line x1="1185.8" y1="337.3" x2="1185.8" y2="339.5" stroke="#000" stroke-width="1.2"/><text x="1186.4" y="350.9" font-size="9.4" text-anchor="middle" font-weight="bold">60</text><text x="1059.2" y="253.5" font-size="9.4" text-anchor="end" font-weight="bold">100</text><text x="1066.1" y="341.9" font-size="9.4" text-anchor="end" font-weight="bold">0</text><text x="1141.1" y="363.6" font-size="11" text-anchor="middle" font-weight="bold" textLength="21" lengthAdjust="spacingAndGlyphs">DPI</text><text x="1037.2" y="292" font-size="8.8" text-anchor="middle" font-weight="bold" textLength="92.9" lengthAdjust="spacingAndGlyphs" transform="rotate(-90 1037.2 292)">Percent survival (%)</text>
<clipPath id="th11"><rect x="1384.1" y="65.7" width="48.8" height="48.8"/></clipPath><g clip-path="url(#th11)"><rect x="1384.1" y="65.7" width="48.8" height="48.8" fill="#dc5660"/><circle cx="1406.2" cy="93" r="15.4" fill="#d85a78" opacity="0.18"/><circle cx="1406.2" cy="107.4" r="9.5" fill="#dc5a50" opacity="0.18"/><circle cx="1407.3" cy="95.7" r="9.5" fill="#d85a78" opacity="0.18"/><circle cx="1398.9" cy="70.1" r="14.5" fill="#dc5a50" opacity="0.18"/><circle cx="1415.1" cy="94.8" r="11.2" fill="#d85a78" opacity="0.18"/><circle cx="1416" cy="95.7" r="9.3" fill="#e0503c" opacity="0.18"/><circle cx="1424.7" cy="68.8" r="8.3" fill="#e0503c" opacity="0.18"/><path d="M1384.1 70.6 C1384.8 70.2 1386.7 69 1388 68.1 C1389.3 67.3 1391.3 66.1 1391.9 65.7" fill="none" stroke="#9fd8d4" stroke-width="1.5" stroke-linecap="round"/><path d="M1428 65.7 C1428.4 67 1429.2 71.1 1430 73.5 C1430.8 75.9 1432.4 79.2 1432.9 80.3" fill="none" stroke="#9fd8d4" stroke-width="2.6" stroke-linecap="round"/><path d="M1432.9 90.1 C1431.3 92.5 1426.4 100.7 1423.1 104.7 C1419.9 108.8 1415 112.9 1413.4 114.5" fill="none" stroke="#e8a0a8" stroke-width="0.8" stroke-linecap="round"/><path d="M1398.8 65.7 C1399.2 69 1402 79.5 1401.2 85.2 C1400.4 90.9 1394.7 95 1393.9 99.9 C1393.1 104.7 1395.9 112 1396.3 114.5" fill="none" stroke="#e8a0a8" stroke-width="0.6" stroke-linecap="round"/><circle cx="1413.4" cy="103.7" r="0.7" fill="#4a305e" opacity="0.8"/><circle cx="1400" cy="94.5" r="0.7" fill="#4a305e" opacity="0.8"/><circle cx="1393.7" cy="77.1" r="0.7" fill="#4a305e" opacity="0.8"/><circle cx="1398.5" cy="65.9" r="0.7" fill="#4a305e" opacity="0.8"/><circle cx="1388.3" cy="97.6" r="0.7" fill="#4a305e" opacity="0.8"/><circle cx="1404" cy="92.6" r="0.7" fill="#4a305e" opacity="0.8"/><circle cx="1429.6" cy="69.8" r="0.7" fill="#4a305e" opacity="0.8"/><circle cx="1396.5" cy="102.7" r="0.7" fill="#4a305e" opacity="0.8"/><circle cx="1409.1" cy="67.2" r="0.7" fill="#4a305e" opacity="0.8"/><circle cx="1411.6" cy="71" r="0.7" fill="#4a305e" opacity="0.8"/><circle cx="1389.4" cy="79.9" r="0.7" fill="#4a305e" opacity="0.8"/><circle cx="1387.4" cy="66.5" r="0.7" fill="#4a305e" opacity="0.8"/><circle cx="1417.5" cy="76.1" r="0.7" fill="#4a305e" opacity="0.8"/><circle cx="1429.3" cy="68.3" r="0.7" fill="#4a305e" opacity="0.8"/><circle cx="1402.4" cy="100.3" r="0.7" fill="#4a305e" opacity="0.8"/><circle cx="1404.6" cy="93.3" r="0.7" fill="#4a305e" opacity="0.8"/><circle cx="1393.8" cy="98.6" r="0.7" fill="#4a305e" opacity="0.8"/><circle cx="1400.6" cy="80.9" r="0.7" fill="#4a305e" opacity="0.8"/><circle cx="1384.9" cy="85.7" r="0.7" fill="#4a305e" opacity="0.8"/><circle cx="1429.1" cy="72.3" r="0.7" fill="#4a305e" opacity="0.8"/><circle cx="1418.6" cy="66.2" r="0.7" fill="#4a305e" opacity="0.8"/><circle cx="1406.8" cy="89.5" r="0.7" fill="#4a305e" opacity="0.8"/><circle cx="1417.4" cy="74.9" r="0.7" fill="#4a305e" opacity="0.8"/><circle cx="1408.9" cy="113.8" r="0.7" fill="#4a305e" opacity="0.8"/><circle cx="1421.7" cy="86.2" r="0.7" fill="#4a305e" opacity="0.8"/><circle cx="1402.8" cy="85" r="0.7" fill="#4a305e" opacity="0.8"/></g>
<clipPath id="th12"><rect x="1436.1" y="65.7" width="48.8" height="48.8"/></clipPath><g clip-path="url(#th12)"><rect x="1436.1" y="65.7" width="48.8" height="48.8" fill="#d85c74"/><circle cx="1459.3" cy="97.8" r="13.3" fill="#e0503c" opacity="0.18"/><circle cx="1454.8" cy="114.3" r="11.9" fill="#dc5a50" opacity="0.18"/><circle cx="1475.7" cy="99.4" r="12.8" fill="#dc5a50" opacity="0.18"/><circle cx="1436.2" cy="96.2" r="15.8" fill="#d85a78" opacity="0.18"/><circle cx="1444.1" cy="109.9" r="8.5" fill="#e0503c" opacity="0.18"/><circle cx="1439.8" cy="99.2" r="10.7" fill="#d85a78" opacity="0.18"/><circle cx="1475.1" cy="70" r="15.4" fill="#dc5a50" opacity="0.18"/><path d="M1452.2 65.7 C1452.5 67.3 1453.4 72.2 1453.7 75.5 C1454 78.7 1453.9 82 1454.2 85.2 C1454.5 88.5 1455.1 91.7 1455.7 95 C1456.2 98.2 1457 101.5 1457.6 104.7 C1458.2 108 1458.8 112.9 1459.1 114.5" fill="none" stroke="#9fd8d4" stroke-width="2.6" stroke-linecap="round"/><path d="M1453.7 86.2 C1453.2 87 1452.5 89.1 1450.8 91.1 C1449.1 93 1445.9 95.8 1443.5 97.9 C1441 100 1437.4 102.8 1436.1 103.8" fill="none" stroke="#9fd8d4" stroke-width="2.2" stroke-linecap="round"/><path d="M1437.1 102.3 L1437.6 114.5" fill="none" stroke="#9fd8d4" stroke-width="2.2" stroke-linecap="round"/><path d="M1467.8 65.7 C1468.3 69 1469.1 78.7 1470.3 85.2 C1471.5 91.7 1473.9 99.9 1475.2 104.7 C1476.4 109.6 1477.2 112.9 1477.6 114.5" fill="none" stroke="#e8a0b8" stroke-width="0.8" stroke-linecap="round"/><path d="M1470.3 75.5 C1471.9 78.7 1477.6 90.5 1480 95 C1482.5 99.4 1484.1 101.1 1484.9 102.3" fill="none" stroke="#e8a0b8" stroke-width="0.8" stroke-linecap="round"/><circle cx="1461" cy="70.1" r="0.7" fill="#4a305e" opacity="0.8"/><circle cx="1484.3" cy="111.9" r="0.7" fill="#4a305e" opacity="0.8"/><circle cx="1441.6" cy="86.3" r="0.7" fill="#4a305e" opacity="0.8"/><circle cx="1442.7" cy="81" r="0.7" fill="#4a305e" opacity="0.8"/><circle cx="1466.5" cy="73.7" r="0.7" fill="#4a305e" opacity="0.8"/><circle cx="1470.1" cy="68.2" r="0.7" fill="#4a305e" opacity="0.8"/><circle cx="1444.5" cy="105.5" r="0.7" fill="#4a305e" opacity="0.8"/><circle cx="1455.7" cy="86.1" r="0.7" fill="#4a305e" opacity="0.8"/><circle cx="1465.2" cy="89" r="0.7" fill="#4a305e" opacity="0.8"/><circle cx="1454.9" cy="67.2" r="0.7" fill="#4a305e" opacity="0.8"/><circle cx="1471.6" cy="112.9" r="0.7" fill="#4a305e" opacity="0.8"/><circle cx="1483.8" cy="98.1" r="0.7" fill="#4a305e" opacity="0.8"/><circle cx="1453.5" cy="83.4" r="0.7" fill="#4a305e" opacity="0.8"/><circle cx="1469.8" cy="98.6" r="0.7" fill="#4a305e" opacity="0.8"/><circle cx="1441.7" cy="77.2" r="0.7" fill="#4a305e" opacity="0.8"/><circle cx="1453.9" cy="90.6" r="0.7" fill="#4a305e" opacity="0.8"/><circle cx="1475.7" cy="90.1" r="0.7" fill="#4a305e" opacity="0.8"/><circle cx="1437.5" cy="105.8" r="0.7" fill="#4a305e" opacity="0.8"/><circle cx="1457.1" cy="91" r="0.7" fill="#4a305e" opacity="0.8"/><circle cx="1447" cy="86.5" r="0.7" fill="#4a305e" opacity="0.8"/><circle cx="1455.1" cy="103.4" r="0.7" fill="#4a305e" opacity="0.8"/><circle cx="1441.1" cy="92.5" r="0.7" fill="#4a305e" opacity="0.8"/><circle cx="1444.8" cy="99.7" r="0.7" fill="#4a305e" opacity="0.8"/><circle cx="1437.9" cy="79.2" r="0.7" fill="#4a305e" opacity="0.8"/><circle cx="1452.9" cy="96.8" r="0.7" fill="#4a305e" opacity="0.8"/><circle cx="1438.7" cy="88.1" r="0.7" fill="#4a305e" opacity="0.8"/></g>
<clipPath id="th13"><rect x="1384.1" y="118.5" width="48.8" height="48.8"/></clipPath><g clip-path="url(#th13)"><rect x="1384.1" y="118.5" width="48.8" height="48.8" fill="#dc5a6a"/><circle cx="1396.8" cy="152" r="13.5" fill="#e0503c" opacity="0.18"/><circle cx="1415.9" cy="151" r="15" fill="#dc5a50" opacity="0.18"/><circle cx="1419.9" cy="124.9" r="12.3" fill="#e0503c" opacity="0.18"/><circle cx="1420.4" cy="120" r="9" fill="#dc5a50" opacity="0.18"/><circle cx="1413.8" cy="119.2" r="10.2" fill="#e0503c" opacity="0.18"/><circle cx="1388.3" cy="157.3" r="15.1" fill="#d85a78" opacity="0.18"/><circle cx="1424.4" cy="154.9" r="15.6" fill="#d85a78" opacity="0.18"/><path d="M1384.1 129.8 C1385.7 130.1 1390.6 130.6 1393.9 131.7 C1397.1 132.8 1400.4 134.6 1403.6 136.1 C1406.9 137.6 1410.1 139.3 1413.4 140.5 C1416.6 141.6 1419.9 141.7 1423.1 142.9 C1426.4 144.1 1431.3 147 1432.9 147.8" fill="none" stroke="#9fd8d4" stroke-width="2.8" stroke-linecap="round"/><path d="M1384.1 145.4 L1389 145.8" fill="none" stroke="#9fd8d4" stroke-width="2.2" stroke-linecap="round"/><path d="M1384.1 121 L1389 118.5" fill="none" stroke="#9fd8d4" stroke-width="1.6" stroke-linecap="round"/><path d="M1414.4 118.5 C1414.7 119.5 1414.4 122.9 1416.3 124.4 C1418.2 125.8 1422.8 127.6 1425.6 127.3 C1428.4 127 1431.7 123.2 1432.9 122.4" fill="none" stroke="#c8e4e0" stroke-width="0.8" stroke-linecap="round"/><circle cx="1401.5" cy="129.9" r="0.7" fill="#4a305e" opacity="0.8"/><circle cx="1427.9" cy="145.3" r="0.7" fill="#4a305e" opacity="0.8"/><circle cx="1432" cy="151.3" r="0.7" fill="#4a305e" opacity="0.8"/><circle cx="1427.5" cy="149.7" r="0.7" fill="#4a305e" opacity="0.8"/><circle cx="1416.1" cy="135.4" r="0.7" fill="#4a305e" opacity="0.8"/><circle cx="1413.1" cy="149.4" r="0.7" fill="#4a305e" opacity="0.8"/><circle cx="1396.9" cy="140.4" r="0.7" fill="#4a305e" opacity="0.8"/><circle cx="1413.9" cy="166.7" r="0.7" fill="#4a305e" opacity="0.8"/><circle cx="1405.6" cy="154.1" r="0.7" fill="#4a305e" opacity="0.8"/><circle cx="1410.3" cy="132.8" r="0.7" fill="#4a305e" opacity="0.8"/><circle cx="1392.9" cy="135.9" r="0.7" fill="#4a305e" opacity="0.8"/><circle cx="1402.2" cy="131.3" r="0.7" fill="#4a305e" opacity="0.8"/><circle cx="1397.8" cy="161.9" r="0.7" fill="#4a305e" opacity="0.8"/><circle cx="1412.3" cy="145.4" r="0.7" fill="#4a305e" opacity="0.8"/><circle cx="1411.7" cy="161.8" r="0.7" fill="#4a305e" opacity="0.8"/><circle cx="1418.3" cy="124.9" r="0.7" fill="#4a305e" opacity="0.8"/><circle cx="1405.1" cy="149.2" r="0.7" fill="#4a305e" opacity="0.8"/><circle cx="1406.7" cy="118.6" r="0.7" fill="#4a305e" opacity="0.8"/><circle cx="1404.8" cy="160.8" r="0.7" fill="#4a305e" opacity="0.8"/><circle cx="1395.1" cy="142.8" r="0.7" fill="#4a305e" opacity="0.8"/><circle cx="1418.2" cy="140.2" r="0.7" fill="#4a305e" opacity="0.8"/><circle cx="1396.5" cy="154.3" r="0.7" fill="#4a305e" opacity="0.8"/><circle cx="1420" cy="130.8" r="0.7" fill="#4a305e" opacity="0.8"/><circle cx="1421.2" cy="135.6" r="0.7" fill="#4a305e" opacity="0.8"/><circle cx="1418.5" cy="149.3" r="0.7" fill="#4a305e" opacity="0.8"/><circle cx="1409.5" cy="150.6" r="0.7" fill="#4a305e" opacity="0.8"/></g>
<clipPath id="th14"><rect x="1436.1" y="118.5" width="48.8" height="48.8"/></clipPath><g clip-path="url(#th14)"><rect x="1436.1" y="118.5" width="48.8" height="48.8" fill="#d06a90"/><circle cx="1441.4" cy="152.8" r="13.2" fill="#e0503c" opacity="0.18"/><circle cx="1449.4" cy="131" r="13.9" fill="#dc5a50" opacity="0.18"/><circle cx="1458.1" cy="141.3" r="15" fill="#d85a78" opacity="0.18"/><circle cx="1474.1" cy="124.3" r="9.8" fill="#d85a78" opacity="0.18"/><circle cx="1453.6" cy="131.2" r="14.4" fill="#dc5a50" opacity="0.18"/><circle cx="1461.3" cy="126.4" r="13.3" fill="#d85a78" opacity="0.18"/><circle cx="1444.2" cy="150.3" r="9" fill="#d85a78" opacity="0.18"/><path d="M1474.2 118.5 C1474.1 122.6 1473.5 134.8 1473.7 142.9 C1473.9 151.1 1474.9 163.2 1475.2 167.3" fill="none" stroke="#b8c8d8" stroke-width="0.8" stroke-linecap="round"/><circle cx="1437.5" cy="131.9" r="0.7" fill="#4a305e" opacity="0.8"/><circle cx="1477.8" cy="137.2" r="0.7" fill="#4a305e" opacity="0.8"/><circle cx="1464.6" cy="164.1" r="0.7" fill="#4a305e" opacity="0.8"/><circle cx="1479.9" cy="123.1" r="0.7" fill="#4a305e" opacity="0.8"/><circle cx="1467.4" cy="161.8" r="0.7" fill="#4a305e" opacity="0.8"/><circle cx="1464.4" cy="149.6" r="0.7" fill="#4a305e" opacity="0.8"/><circle cx="1453.9" cy="160.7" r="0.7" fill="#4a305e" opacity="0.8"/><circle cx="1472.6" cy="142.3" r="0.7" fill="#4a305e" opacity="0.8"/><circle cx="1468.9" cy="131.7" r="0.7" fill="#4a305e" opacity="0.8"/><circle cx="1466.6" cy="142.2" r="0.7" fill="#4a305e" opacity="0.8"/><circle cx="1449.9" cy="131" r="0.7" fill="#4a305e" opacity="0.8"/><circle cx="1442.1" cy="167.3" r="0.7" fill="#4a305e" opacity="0.8"/><circle cx="1449.7" cy="124.3" r="0.7" fill="#4a305e" opacity="0.8"/><circle cx="1444" cy="138.6" r="0.7" fill="#4a305e" opacity="0.8"/><circle cx="1469.6" cy="147.1" r="0.7" fill="#4a305e" opacity="0.8"/><circle cx="1456.9" cy="166" r="0.7" fill="#4a305e" opacity="0.8"/><circle cx="1444.4" cy="137.4" r="0.7" fill="#4a305e" opacity="0.8"/><circle cx="1451.2" cy="141" r="0.7" fill="#4a305e" opacity="0.8"/><circle cx="1456.5" cy="158.9" r="0.7" fill="#4a305e" opacity="0.8"/><circle cx="1448.6" cy="137.8" r="0.7" fill="#4a305e" opacity="0.8"/><circle cx="1458.1" cy="148.5" r="0.7" fill="#4a305e" opacity="0.8"/><circle cx="1460" cy="146.3" r="0.7" fill="#4a305e" opacity="0.8"/><circle cx="1460" cy="131.5" r="0.7" fill="#4a305e" opacity="0.8"/><circle cx="1457.7" cy="158.8" r="0.7" fill="#4a305e" opacity="0.8"/><circle cx="1455.9" cy="166.7" r="0.7" fill="#4a305e" opacity="0.8"/><circle cx="1437.2" cy="153.2" r="0.7" fill="#4a305e" opacity="0.8"/></g>
<rect x="1496.9" y="66.7" width="125.5" height="98.8" fill="#161210"/>
<rect x="1501.3" y="71.2" width="118" height="87" fill="#f9f1ef"/>
<clipPath id="gbx"><rect x="1501.3" y="71.2" width="118" height="87"/></clipPath><g clip-path="url(#gbx)">
<path d="M1501.3 135.1 C1503.1 135.1 1509.2 136.1 1512 135.1 C1514.8 134.1 1514.2 136.6 1518.1 129.1 C1522 121.5 1531.6 97.1 1535.3 89.6 C1539 82.1 1538.5 85.2 1540.4 84.1 C1542.2 83.1 1539.4 83.5 1546.5 83.3 C1553.5 83.1 1570.7 83.1 1582.9 82.9 C1595 82.7 1613.2 82.4 1619.3 82.3" fill="none" stroke="#0c0c0c" stroke-width="1.1"/>
<path d="M1501.3 135.5 C1504.5 135.5 1516 136.6 1520.1 135.5 C1524.3 134.5 1522.3 136.7 1526.2 129.1 C1530.1 121.4 1539.7 97.1 1543.4 89.6 C1547.1 82.1 1546.6 85.2 1548.5 84.1 C1550.3 83.1 1548.8 83.5 1554.5 83.3 C1560.3 83.1 1572.1 83.1 1582.9 82.9 C1593.7 82.7 1613.2 82.4 1619.3 82.3" fill="none" stroke="#0c0c0c" stroke-width="1.1"/>
<path d="M1501.3 135.9 C1504.9 135.9 1518 137.1 1522.6 135.9 C1527.1 134.8 1524.8 136.8 1528.6 129.1 C1532.5 121.3 1542.1 97.1 1545.8 89.6 C1549.6 82.1 1549 85.2 1550.9 84.1 C1552.8 83.1 1551.6 83.5 1557 83.3 C1562.3 83.1 1572.5 83.1 1582.9 82.9 C1593.3 82.7 1613.2 82.4 1619.3 82.3" fill="none" stroke="#0c0c0c" stroke-width="1.1"/>
<path d="M1501.3 135.1 C1505.3 135.1 1520 136.1 1525 135.1 C1530 134.1 1527.2 136.6 1531.1 129.1 C1534.9 121.5 1544.6 97.1 1548.3 89.6 C1552 82.1 1551.5 85.2 1553.3 84.1 C1555.2 83.1 1554.5 83.5 1559.4 83.3 C1564.3 83.1 1572.9 83.1 1582.9 82.9 C1592.9 82.7 1613.2 82.4 1619.3 82.3" fill="none" stroke="#0c0c0c" stroke-width="1.1"/>
<path d="M1501.3 135.5 C1507.2 135.5 1529.5 136.6 1536.3 135.5 C1543.2 134.5 1538.5 136.7 1542.4 129.1 C1546.3 121.4 1555.9 97.1 1559.6 89.6 C1563.3 82.1 1562.8 85.2 1564.7 84.1 C1566.5 83.1 1567.7 83.5 1570.7 83.3 C1573.8 83.1 1574.8 83.1 1582.9 82.9 C1591 82.7 1613.2 82.4 1619.3 82.3" fill="none" stroke="#0c0c0c" stroke-width="1.1"/>
<path d="M1501.3 135.9 C1507.8 135.9 1532.9 137.1 1540.4 135.9 C1547.9 134.8 1542.6 136.8 1546.5 129.1 C1550.3 121.3 1559.9 97.1 1563.7 89.6 C1567.4 82.1 1566.9 85.2 1568.7 84.1 C1570.6 83.1 1572.4 83.5 1574.8 83.3 C1577.1 83.1 1575.5 83.1 1582.9 82.9 C1590.3 82.7 1613.2 82.4 1619.3 82.3" fill="none" stroke="#0c0c0c" stroke-width="1.1"/>
<path d="M1501.3 135.1 C1508.8 135.1 1537.6 136.1 1546 135.1 C1554.5 134.1 1548.2 136.6 1552.1 129.1 C1556 121.5 1565.6 97.1 1569.3 89.6 C1573 82.1 1572.5 85.2 1574.4 84.1 C1576.2 83.1 1579 83.5 1580.5 83.3 C1581.9 83.1 1576.4 83.1 1582.9 82.9 C1589.4 82.7 1613.2 82.4 1619.3 82.3" fill="none" stroke="#0c0c0c" stroke-width="1.1"/>
<path d="M1501.3 135.5 C1509.1 135.5 1539.3 136.6 1548.1 135.5 C1556.9 134.5 1550.3 136.7 1554.1 129.1 C1558 121.4 1567.6 97.1 1571.3 89.6 C1575.1 82.1 1574.6 85.2 1576.4 84.1 C1578.3 83.1 1581.4 83.5 1582.5 83.3 C1583.6 83.1 1576.7 83.1 1582.9 82.9 C1589 82.7 1613.2 82.4 1619.3 82.3" fill="none" stroke="#0c0c0c" stroke-width="1.1"/>
<path d="M1501.3 135.9 C1509.4 135.9 1541 137.1 1550.1 135.9 C1559.2 134.8 1552.3 136.8 1556.2 129.1 C1560 121.3 1569.7 97.1 1573.4 89.6 C1577.1 82.1 1576.6 85.2 1578.4 84.1 C1580.3 83.1 1583.8 83.5 1584.5 83.3 C1585.2 83.1 1577.1 83.1 1582.9 82.9 C1588.7 82.7 1613.2 82.4 1619.3 82.3" fill="none" stroke="#0c0c0c" stroke-width="1.1"/>
<path d="M1501.3 135.1 C1509.8 135.1 1542.6 136.1 1552.1 135.1 C1561.6 134.1 1554.3 136.6 1558.2 129.1 C1562.1 121.5 1571.7 97.1 1575.4 89.6 C1579.1 82.1 1578.6 85.2 1580.5 84.1 C1582.3 83.1 1586.1 83.5 1586.5 83.3 C1586.9 83.1 1577.4 83.1 1582.9 82.9 C1588.3 82.7 1613.2 82.4 1619.3 82.3" fill="none" stroke="#0c0c0c" stroke-width="1.1"/>
</g>
<text x="1383.5" y="196.9" font-size="18.6" textLength="208.7" lengthAdjust="spacingAndGlyphs">Muscle Atrophy Analysis</text>
<rect x="1368.3" y="249.6" width="193.5" height="99" fill="#161210"/>
<rect x="1375.4" y="254.3" width="180.7" height="87.2" fill="#f9f1ef"/>
<line x1="1373.4" y1="329" x2="1557.6" y2="329.4" stroke="#111" stroke-width="2.2"/>
<polyline points="1386.6,328.6 1387.8,299.8 1388.8,328.6 1389.2,289.7 1390.6,328.6 1391.4,325.1 1392.4,320.1 1393.4,328.6" fill="none" stroke="#555" stroke-width="0.7"/>
<polyline points="1445.2,328.6 1446.7,263.4 1448.1,328.6" fill="none" stroke="#555" stroke-width="0.8"/>
<polyline points="1474.4,328.6 1475.4,317.4 1476,328.6" fill="none" stroke="#555" stroke-width="0.7"/>
<text x="1371.8" y="376.7" font-size="18.6" textLength="119.8" lengthAdjust="spacingAndGlyphs">Concentration</text>
<text x="1371.8" y="397" font-size="18.6" textLength="193.7" lengthAdjust="spacingAndGlyphs">Determination of 2-HG</text></g>
<g id="panel_bcd"><text x="6.3" y="503.6" font-size="45" font-weight="bold">b</text>
<line x1="39.8" y1="552.5" x2="65.7" y2="552.5" stroke="#000" stroke-width="4.8"/><polygon points="52.8,548.1 57.2,552.5 52.8,556.9 48.4,552.5" fill="#000"/><text x="79.7" y="559.2" font-size="18.8" font-weight="bold" textLength="147.6" lengthAdjust="spacingAndGlyphs">CT26 tumor (n = 10)</text><line x1="39.8" y1="585.1" x2="65.7" y2="585.1" stroke="#9c0000" stroke-width="4.8"/><circle cx="52.8" cy="585.1" r="5.2" fill="#9c0000"/><text x="79.7" y="591.9" font-size="18.8" font-weight="bold" textLength="249.3" lengthAdjust="spacingAndGlyphs">CT26 tumor with IDH1-mut(n = 10)</text><line x1="39.8" y1="617.4" x2="65.7" y2="617.4" stroke="#92ee60" stroke-width="4.8"/><polygon points="52.8,612 58.4,622 47.1,622" fill="#92ee60"/><text x="77.8" y="624.1" font-size="18.8" font-weight="bold" textLength="284.6" lengthAdjust="spacingAndGlyphs">Ivosidenib treated CT26 tumor (n = 10)</text><line x1="39.8" y1="650" x2="65.7" y2="650" stroke="#0000c4" stroke-width="4.8"/><polygon points="52.8,655.4 58.4,645.4 47.1,645.4" fill="#0000c4"/><text x="80.8" y="656.8" font-size="18.8" font-weight="bold" textLength="387.1" lengthAdjust="spacingAndGlyphs">Ivosidenib treated CT26 tumor with IDH1-mut(n = 10)</text>
<path d="M397.3 543.7H409.1V588.9H397.3M409.1 566.9H491.1" fill="none" stroke="#a00000" stroke-width="4.4" stroke-linejoin="round" stroke-linecap="butt"/>
<path d="M426.9 543H439.1V616.2H426.9M439.1 589.7H489.2" fill="none" stroke="#00ff00" stroke-width="4.4" stroke-linejoin="round" stroke-linecap="butt"/>
<path d="M457.3 578.7H469.1V650.4H457.3M469.1 623.4H489.9" fill="none" stroke="#0000d0" stroke-width="4.4" stroke-linejoin="round" stroke-linecap="butt"/>
<text x="498.3" y="572.6" font-size="17.5" textLength="61.9" lengthAdjust="spacingAndGlyphs"><tspan font-style="italic">p</tspan>=0.020</text>
<text x="498.3" y="599.5" font-size="17.5" textLength="61.9" lengthAdjust="spacingAndGlyphs"><tspan font-style="italic">p</tspan>=0.356</text>
<text x="498.3" y="633.3" font-size="17.5" textLength="61.9" lengthAdjust="spacingAndGlyphs"><tspan font-style="italic">p</tspan>&lt;0.001</text>
<polyline points="101.8,717.3 293.9,717.3 293.9,738.8 319.2,738.8 319.2,760.3 329.3,760.3 329.3,781.7 354.6,781.7 354.6,803.2 364.7,803.2 364.7,824.7 369.7,824.7 369.7,846.2 379.8,846.2 379.8,867.6 405.1,867.6 405.1,910.6 415.2,910.6 415.2,932.1" fill="none" stroke="#0000c4" stroke-width="4.8" stroke-linejoin="round"/><path d="M293.9 743.6l5 -8.9h-10.1zM319.2 765.1l5 -8.9h-10.1zM329.3 786.5l5 -8.9h-10.1zM354.6 808l5 -8.9h-10.1zM364.7 829.5l5 -8.9h-10.1zM369.7 851l5 -8.9h-10.1zM379.8 872.4l5 -8.9h-10.1zM405.1 915.4l5 -8.9h-10.1zM415.2 936.9l5 -8.9h-10.1z" fill="#0000c4"/>
<polyline points="101.8,717.3 243.4,717.3 243.4,738.8 273.7,738.8 273.7,760.3 319.2,760.3 319.2,781.7 329.3,781.7 329.3,824.7 344.5,824.7 344.5,846.2 349.5,846.2 349.5,867.6 354.6,867.6 354.6,910.6 379.8,910.6 379.8,932.1" fill="none" stroke="#92ee60" stroke-width="4.8" stroke-linejoin="round"/><path d="M243.4 734l5 8.9h-10.1zM273.7 755.5l5 8.9h-10.1zM319.2 776.9l5 8.9h-10.1zM329.3 819.9l5 8.9h-10.1zM344.5 841.4l5 8.9h-10.1zM349.5 862.8l5 8.9h-10.1zM354.6 905.8l5 8.9h-10.1zM379.8 927.3l5 8.9h-10.1z" fill="#92ee60"/>
<polyline points="101.8,717.3 228.2,717.3 228.2,738.8 238.3,738.8 238.3,760.3 258.5,760.3 258.5,803.2 283.8,803.2 283.8,824.7 309.1,824.7 309.1,867.6 314.1,867.6 314.1,889.1 319.2,889.1 319.2,932.1" fill="none" stroke="#9c0000" stroke-width="4.8" stroke-linejoin="round"/><path d="M223.6 738.8a4.6 4.6 0 1 0 9.2 0a4.6 4.6 0 1 0 -9.2 0zM233.7 760.3a4.6 4.6 0 1 0 9.2 0a4.6 4.6 0 1 0 -9.2 0zM253.9 803.2a4.6 4.6 0 1 0 9.2 0a4.6 4.6 0 1 0 -9.2 0zM279.2 824.7a4.6 4.6 0 1 0 9.2 0a4.6 4.6 0 1 0 -9.2 0zM304.5 867.6a4.6 4.6 0 1 0 9.2 0a4.6 4.6 0 1 0 -9.2 0zM309.5 889.1a4.6 4.6 0 1 0 9.2 0a4.6 4.6 0 1 0 -9.2 0zM314.6 932.1a4.6 4.6 0 1 0 9.2 0a4.6 4.6 0 1 0 -9.2 0z" fill="#9c0000"/>
<polyline points="101.8,717.3 283.8,717.3 283.8,738.8 293.9,738.8 293.9,760.3 309.1,760.3 309.1,781.7 314.1,781.7 314.1,803.2 319.2,803.2 319.2,867.6 344.5,867.6 344.5,889.1 354.6,889.1 354.6,910.6 369.7,910.6 369.7,932.1" fill="none" stroke="#000" stroke-width="4.8" stroke-linejoin="round"/><path d="M283.8 734l4.8 4.8l-4.8 4.8l-4.8 -4.8zM293.9 755.5l4.8 4.8l-4.8 4.8l-4.8 -4.8zM309.1 776.9l4.8 4.8l-4.8 4.8l-4.8 -4.8zM314.1 798.4l4.8 4.8l-4.8 4.8l-4.8 -4.8zM319.2 862.8l4.8 4.8l-4.8 4.8l-4.8 -4.8zM344.5 884.3l4.8 4.8l-4.8 4.8l-4.8 -4.8zM354.6 905.8l4.8 4.8l-4.8 4.8l-4.8 -4.8zM369.7 927.3l4.8 4.8l-4.8 4.8l-4.8 -4.8z" fill="#000"/>
<line x1="101.8" y1="694.2" x2="101.8" y2="934" stroke="#000" stroke-width="3.8"/>
<line x1="99.9" y1="932.1" x2="457.9" y2="932.1" stroke="#000" stroke-width="3.8"/>
<line x1="95.3" y1="932.1" x2="101.8" y2="932.1" stroke="#000" stroke-width="3.4"/>
<text x="91.7" y="938.6" font-size="18.2" text-anchor="end" font-weight="bold">0</text>
<line x1="95.3" y1="824.7" x2="101.8" y2="824.7" stroke="#000" stroke-width="3.4"/>
<text x="91.7" y="831.2" font-size="18.2" text-anchor="end" font-weight="bold">50</text>
<line x1="95.3" y1="717.3" x2="101.8" y2="717.3" stroke="#000" stroke-width="3.4"/>
<text x="91.7" y="723.8" font-size="18.2" text-anchor="end" font-weight="bold">100</text>
<line x1="101.8" y1="932.1" x2="101.8" y2="939.6" stroke="#000" stroke-width="3.4"/>
<text x="101.8" y="960.2" font-size="18.2" text-anchor="middle" font-weight="bold">0</text>
<line x1="202.9" y1="932.1" x2="202.9" y2="939.6" stroke="#000" stroke-width="3.4"/>
<text x="202.9" y="960.2" font-size="18.2" text-anchor="middle" font-weight="bold">20</text>
<line x1="304" y1="932.1" x2="304" y2="939.6" stroke="#000" stroke-width="3.4"/>
<text x="304" y="960.2" font-size="18.2" text-anchor="middle" font-weight="bold">40</text>
<line x1="405.1" y1="932.1" x2="405.1" y2="939.6" stroke="#000" stroke-width="3.4"/>
<text x="405.1" y="960.2" font-size="18.2" text-anchor="middle" font-weight="bold">60</text>
<text x="277.7" y="988.3" font-size="18.5" text-anchor="middle" font-weight="bold">DPI</text>
<text x="50" y="846" font-size="18.3" text-anchor="middle" font-weight="bold" textLength="185" lengthAdjust="spacingAndGlyphs" transform="rotate(-90 50 846)">Percent survival (%)</text><text x="593" y="503.6" font-size="46" font-weight="bold">c</text>
<path d="M824.4 685H835.4M829.9 685V695.9M824.4 695.9H835.4M848 703.3H859M853.5 703.3V717.5M848 717.5H859M871.5 725.8H882.5M877 725.8V743.1M871.5 743.1H882.5M895 733.6H906M900.5 733.6V750.9M895 750.9H906M918.6 772.6H929.6M924.1 772.6V791.4M918.6 791.4H929.6M942.1 797.5H953.1M947.6 797.5V817.9M942.1 817.9H953.1M965.6 808.7H976.6M971.1 808.7V821.2M965.6 821.2H976.6M989.2 826H1000.2M994.7 826V849.5M989.2 849.5H1000.2" fill="none" stroke="#8ee04c" stroke-width="2.1"/><polyline points="735.8,690.5 759.3,682.6 782.9,681 806.4,683.4 829.9,690.5 853.5,710.4 877,734.4 900.5,742.3 924.1,782 947.6,807.7 971.1,815 994.7,837.7 1018.2,847.5" fill="none" stroke="#8ee04c" stroke-width="2.3" stroke-linejoin="round"/><path d="M735.8 697.3l7.1 -12.6h-14.3zM759.3 689.4l7.1 -12.6h-14.3zM782.9 687.8l7.1 -12.6h-14.3zM806.4 690.2l7.1 -12.6h-14.3zM829.9 697.3l7.1 -12.6h-14.3zM853.5 717.2l7.1 -12.6h-14.3zM877 741.2l7.1 -12.6h-14.3zM900.5 749.1l7.1 -12.6h-14.3zM924.1 788.8l7.1 -12.6h-14.3zM947.6 814.5l7.1 -12.6h-14.3zM971.1 821.8l7.1 -12.6h-14.3zM994.7 844.5l7.1 -12.6h-14.3zM1018.2 854.3l7.1 -12.6h-14.3z" fill="#8ee04c"/>
<path d="M824.4 666.1H835.4M829.9 666.1V680.2M824.4 680.2H835.4M848 672.4H859M853.5 672.4V685M848 685H859M871.5 676.8H882.5M877 676.8V681.5M871.5 681.5H882.5M895 680.6H906M900.5 680.6V686.8M895 686.8H906M918.6 683.4H929.6M924.1 683.4V697.5M918.6 697.5H929.6M942.1 702.1H953.1M947.6 702.1V724.1M942.1 724.1H953.1M965.6 709.5H976.6M971.1 709.5V728.3M965.6 728.3H976.6M989.2 734.1H1000.2M994.7 734.1V751.4M989.2 751.4H1000.2M1012.7 734.4H1023.7M1018.2 734.4V754.8M1012.7 754.8H1023.7M1036.2 731.7H1047.2M1041.7 731.7V753.7M1036.2 753.7H1047.2M1059.8 735.7H1070.8M1065.3 735.7V762.4M1059.8 762.4H1070.8M1083.3 766H1094.3M1088.8 766V783.2M1083.3 783.2H1094.3" fill="none" stroke="#2a1470" stroke-width="2.1"/><polyline points="735.8,682.9 759.3,679.5 782.9,684.8 806.4,681 829.9,673.2 853.5,678.7 877,679.1 900.5,683.7 924.1,690.5 947.6,713.1 971.1,718.9 994.7,742.7 1018.2,744.6 1041.7,742.7 1065.3,749 1088.8,774.6 1112.3,765.5" fill="none" stroke="#2a1470" stroke-width="2.3" stroke-linejoin="round"/><path d="M729.3 682.9a6.5 6.5 0 1 0 13 0a6.5 6.5 0 1 0 -13 0zM752.8 679.5a6.5 6.5 0 1 0 13 0a6.5 6.5 0 1 0 -13 0zM776.4 684.8a6.5 6.5 0 1 0 13 0a6.5 6.5 0 1 0 -13 0zM799.9 681a6.5 6.5 0 1 0 13 0a6.5 6.5 0 1 0 -13 0zM823.4 673.2a6.5 6.5 0 1 0 13 0a6.5 6.5 0 1 0 -13 0zM847 678.7a6.5 6.5 0 1 0 13 0a6.5 6.5 0 1 0 -13 0zM870.5 679.1a6.5 6.5 0 1 0 13 0a6.5 6.5 0 1 0 -13 0zM894 683.7a6.5 6.5 0 1 0 13 0a6.5 6.5 0 1 0 -13 0zM917.6 690.5a6.5 6.5 0 1 0 13 0a6.5 6.5 0 1 0 -13 0zM941.1 713.1a6.5 6.5 0 1 0 13 0a6.5 6.5 0 1 0 -13 0zM964.6 718.9a6.5 6.5 0 1 0 13 0a6.5 6.5 0 1 0 -13 0zM988.2 742.7a6.5 6.5 0 1 0 13 0a6.5 6.5 0 1 0 -13 0zM1011.7 744.6a6.5 6.5 0 1 0 13 0a6.5 6.5 0 1 0 -13 0zM1035.2 742.7a6.5 6.5 0 1 0 13 0a6.5 6.5 0 1 0 -13 0zM1058.8 749a6.5 6.5 0 1 0 13 0a6.5 6.5 0 1 0 -13 0zM1082.3 774.6a6.5 6.5 0 1 0 13 0a6.5 6.5 0 1 0 -13 0zM1105.8 765.5a6.5 6.5 0 1 0 13 0a6.5 6.5 0 1 0 -13 0z" fill="#2a1470"/>
<path d="M824.4 674H835.4M829.9 674V689.7M824.4 689.7H835.4M848 693H859M853.5 693V702.4M848 702.4H859M871.5 693H882.5M877 693V711.8M871.5 711.8H882.5M895 704H906M900.5 704V722.8M895 722.8H906M918.6 714.6H929.6M924.1 714.6V742.9M918.6 742.9H929.6M942.1 740.9H953.1M947.6 740.9V775.4M942.1 775.4H953.1M965.6 755.3H976.6M971.1 755.3V796.1M965.6 796.1H976.6M989.2 776.3H1000.2M994.7 776.3V804.6M989.2 804.6H1000.2M1012.7 774.6H1023.7M1018.2 774.6V807.6M1012.7 807.6H1023.7M1036.2 780.3H1047.2M1041.7 780.3V811.7M1036.2 811.7H1047.2M1059.8 780.7H1070.8M1065.3 780.7V807.4M1059.8 807.4H1070.8" fill="none" stroke="#6a2a14" stroke-width="2.1"/><polyline points="735.8,691.1 759.3,681.8 782.9,681 806.4,681.8 829.9,681.8 853.5,697.7 877,702.4 900.5,713.4 924.1,728.8 947.6,758.1 971.1,775.7 994.7,790.5 1018.2,791.1 1041.7,796 1065.3,794.1 1088.8,824.9 1112.3,825.3" fill="none" stroke="#6a2a14" stroke-width="2.3" stroke-linejoin="round"/><path d="M729.4 684.7h12.8v12.8h-12.8zM752.9 675.4h12.8v12.8h-12.8zM776.5 674.6h12.8v12.8h-12.8zM800 675.4h12.8v12.8h-12.8zM823.5 675.4h12.8v12.8h-12.8zM847.1 691.3h12.8v12.8h-12.8zM870.6 696h12.8v12.8h-12.8zM894.1 707h12.8v12.8h-12.8zM917.7 722.4h12.8v12.8h-12.8zM941.2 751.7h12.8v12.8h-12.8zM964.7 769.3h12.8v12.8h-12.8zM988.3 784.1h12.8v12.8h-12.8zM1011.8 784.7h12.8v12.8h-12.8zM1035.3 789.6h12.8v12.8h-12.8zM1058.9 787.7h12.8v12.8h-12.8zM1082.4 818.5h12.8v12.8h-12.8zM1105.9 818.9h12.8v12.8h-12.8z" fill="#6a2a14"/>
<path d="M895 717.9H906M900.5 717.9V732.1M895 732.1H906M918.6 736.3H929.6M924.1 736.3V752M918.6 752H929.6M942.1 765.7H953.1M947.6 765.7V784.5M942.1 784.5H953.1M965.6 767.9H976.6M971.1 767.9V786.7M965.6 786.7H976.6M989.2 785.8H1000.2M994.7 785.8V807.7M989.2 807.7H1000.2M1012.7 793.8H1023.7M1018.2 793.8V826.7M1012.7 826.7H1023.7M1036.2 775.9H1047.2M1041.7 775.9V818.3M1036.2 818.3H1047.2M1059.8 791.9H1070.8M1065.3 791.9V804.4M1059.8 804.4H1070.8" fill="none" stroke="#000" stroke-width="2.1"/><polyline points="735.8,680.4 759.3,670.5 782.9,669.7 806.4,670 829.9,676.3 853.5,691.1 877,710.4 900.5,725 924.1,744.2 947.6,775.1 971.1,777.3 994.7,796.8 1018.2,810.3 1041.7,797.1 1065.3,798.2 1088.8,818.7" fill="none" stroke="#000" stroke-width="2.3" stroke-linejoin="round"/><path d="M729.3 680.4a6.5 6.5 0 1 0 13 0a6.5 6.5 0 1 0 -13 0zM752.8 670.5a6.5 6.5 0 1 0 13 0a6.5 6.5 0 1 0 -13 0zM776.4 669.7a6.5 6.5 0 1 0 13 0a6.5 6.5 0 1 0 -13 0zM799.9 670a6.5 6.5 0 1 0 13 0a6.5 6.5 0 1 0 -13 0zM823.4 676.3a6.5 6.5 0 1 0 13 0a6.5 6.5 0 1 0 -13 0zM847 691.1a6.5 6.5 0 1 0 13 0a6.5 6.5 0 1 0 -13 0zM870.5 710.4a6.5 6.5 0 1 0 13 0a6.5 6.5 0 1 0 -13 0zM894 725a6.5 6.5 0 1 0 13 0a6.5 6.5 0 1 0 -13 0zM917.6 744.2a6.5 6.5 0 1 0 13 0a6.5 6.5 0 1 0 -13 0zM941.1 775.1a6.5 6.5 0 1 0 13 0a6.5 6.5 0 1 0 -13 0zM964.6 777.3a6.5 6.5 0 1 0 13 0a6.5 6.5 0 1 0 -13 0zM988.2 796.8a6.5 6.5 0 1 0 13 0a6.5 6.5 0 1 0 -13 0zM1011.7 810.3a6.5 6.5 0 1 0 13 0a6.5 6.5 0 1 0 -13 0zM1035.2 797.1a6.5 6.5 0 1 0 13 0a6.5 6.5 0 1 0 -13 0zM1058.8 798.2a6.5 6.5 0 1 0 13 0a6.5 6.5 0 1 0 -13 0zM1082.3 818.7a6.5 6.5 0 1 0 13 0a6.5 6.5 0 1 0 -13 0z" fill="#000"/>
<line x1="680.9" y1="613.9" x2="680.9" y2="930.3" stroke="#000" stroke-width="2.5"/>
<line x1="680.9" y1="929.1" x2="1152.3" y2="929.1" stroke="#000" stroke-width="2.5"/>
<line x1="671.9" y1="929.1" x2="680.9" y2="929.1" stroke="#000" stroke-width="2.3"/>
<text x="666.9" y="937.3" font-size="23" text-anchor="end" font-weight="bold">10</text>
<line x1="671.9" y1="850.6" x2="680.9" y2="850.6" stroke="#000" stroke-width="2.3"/>
<text x="666.9" y="858.8" font-size="23" text-anchor="end" font-weight="bold">15</text>
<line x1="671.9" y1="772.1" x2="680.9" y2="772.1" stroke="#000" stroke-width="2.3"/>
<text x="666.9" y="780.3" font-size="23" text-anchor="end" font-weight="bold">20</text>
<line x1="671.9" y1="693.6" x2="680.9" y2="693.6" stroke="#000" stroke-width="2.3"/>
<text x="666.9" y="701.8" font-size="23" text-anchor="end" font-weight="bold">25</text>
<line x1="671.9" y1="615.1" x2="680.9" y2="615.1" stroke="#000" stroke-width="2.3"/>
<text x="666.9" y="623.3" font-size="23" text-anchor="end" font-weight="bold">30</text>
<line x1="680.9" y1="929.1" x2="680.9" y2="938.6" stroke="#000" stroke-width="2.3"/>
<text x="680.9" y="965.4" font-size="23" text-anchor="middle" font-weight="bold">0</text>
<line x1="837.8" y1="929.1" x2="837.8" y2="938.6" stroke="#000" stroke-width="2.3"/>
<text x="837.8" y="965.4" font-size="23" text-anchor="middle" font-weight="bold">20</text>
<line x1="994.7" y1="929.1" x2="994.7" y2="938.6" stroke="#000" stroke-width="2.3"/>
<text x="994.7" y="965.4" font-size="23" text-anchor="middle" font-weight="bold">40</text>
<line x1="1151.6" y1="929.1" x2="1151.6" y2="938.6" stroke="#000" stroke-width="2.3"/>
<text x="1151.6" y="965.4" font-size="23" text-anchor="middle" font-weight="bold">60</text>
<text x="915.7" y="1001.4" font-size="24.6" text-anchor="middle">DPI</text>
<text x="627.7" y="836.7" font-size="18.6" text-anchor="middle" font-weight="bold" textLength="187.1" lengthAdjust="spacingAndGlyphs" transform="rotate(-90 627.7 836.7)">Lean body weight(g)</text>
<text x="879" y="609.9" font-size="21" text-anchor="middle" font-weight="bold">*</text>
<text x="901.4" y="609.9" font-size="21" text-anchor="middle" font-weight="bold">*</text>
<text x="924.8" y="609.9" font-size="21" text-anchor="middle" font-weight="bold">*</text>
<text x="946.9" y="609.9" font-size="21" text-anchor="middle" font-weight="bold">*</text>
<text x="968.9" y="609.9" font-size="21" text-anchor="middle" font-weight="bold">*</text>
<text x="991.6" y="609.9" font-size="21" text-anchor="middle" font-weight="bold">*</text>
<text x="1015.1" y="609.9" font-size="21" text-anchor="middle" font-weight="bold">*</text><text x="1151" y="503.6" font-size="45" font-weight="bold">d</text>
<path d="M1353 889.4V664.8H1400.7V889.4" fill="none" stroke="#000" stroke-width="6.8" stroke-linejoin="round"/>
<path d="M1437.8 889.4V663.1H1489.4V889.4" fill="none" stroke="#10c410" stroke-width="6.8" stroke-linejoin="round"/>
<path d="M1525.1 889.4V674.8H1576.7V889.4" fill="none" stroke="#9c0000" stroke-width="6.8" stroke-linejoin="round"/>
<path d="M1612.1 889.4V648.9H1664.3V889.4" fill="none" stroke="#00008c" stroke-width="6.8" stroke-linejoin="round"/>
<path d="M1349.6 662.3a7.6 6.6 0 1 0 15.2 0a7.6 6.6 0 1 0 -15.2 0zM1359.5 665.1a7.6 6.6 0 1 0 15.2 0a7.6 6.6 0 1 0 -15.2 0zM1366.6 654.5a7.6 6.6 0 1 0 15.2 0a7.6 6.6 0 1 0 -15.2 0zM1375.5 660.5a7.6 6.6 0 1 0 15.2 0a7.6 6.6 0 1 0 -15.2 0zM1382.9 658.7a7.6 6.6 0 1 0 15.2 0a7.6 6.6 0 1 0 -15.2 0zM1377.2 668.6a7.6 6.6 0 1 0 15.2 0a7.6 6.6 0 1 0 -15.2 0zM1386.1 671.8a7.6 6.6 0 1 0 15.2 0a7.6 6.6 0 1 0 -15.2 0zM1388.6 667.2a7.6 6.6 0 1 0 15.2 0a7.6 6.6 0 1 0 -15.2 0zM1354.2 664a7.6 6.6 0 1 0 15.2 0a7.6 6.6 0 1 0 -15.2 0zM1370.9 663a7.6 6.6 0 1 0 15.2 0a7.6 6.6 0 1 0 -15.2 0z" fill="#000"/>
<path d="M1446.3 636.5h15.5v12.4h-15.5zM1455.9 639h15.5v12.4h-15.5zM1435.6 649h15.5v12.4h-15.5zM1465.8 645.4h15.5v12.4h-15.5zM1475.7 648.3h15.5v12.4h-15.5zM1437.4 663.2h15.5v12.4h-15.5zM1455.9 666.7h15.5v12.4h-15.5zM1465.8 668.5h15.5v12.4h-15.5zM1475.7 669.5h15.5v12.4h-15.5zM1446.3 663.2h15.5v12.4h-15.5z" fill="#000"/>
<path d="M1542.7 662l7.9 -12.6h-15.7zM1551.6 666.2l7.9 -12.6h-15.7zM1530.3 676.2l7.9 -12.6h-15.7zM1571.1 674.4l7.9 -12.6h-15.7zM1542.7 683.3l7.9 -12.6h-15.7zM1551.6 679.7l7.9 -12.6h-15.7zM1562.3 683.3l7.9 -12.6h-15.7zM1532.1 679.7l7.9 -12.6h-15.7zM1560.5 689.6l7.9 -12.6h-15.7zM1570.1 697.4l7.9 -12.6h-15.7z" fill="#000"/>
<path d="M1627.9 622.8l7.9 12.6h-15.7zM1619 634.2l7.9 12.6h-15.7zM1638.5 632.4l7.9 12.6h-15.7zM1658.1 634.2l7.9 12.6h-15.7zM1648.1 635.9l7.9 12.6h-15.7zM1619 644.8l7.9 12.6h-15.7zM1629.7 647.7l7.9 12.6h-15.7zM1638.5 652.6l7.9 12.6h-15.7zM1648.1 653.7l7.9 12.6h-15.7zM1658.1 655.5l7.9 12.6h-15.7z" fill="#000"/>
<path d="M1448.7 647H1478.5M1463.6 647V673.6M1448.7 673.6H1478.5" fill="none" stroke="#10c410" stroke-width="2.2"/>
<path d="M1536 662.3H1565.8M1550.9 662.3V682.8M1536 682.8H1565.8" fill="none" stroke="#9c0000" stroke-width="2.2"/>
<path d="M1623.3 635.6H1653.1M1638.2 635.6V658M1623.3 658H1653.1" fill="none" stroke="#00008c" stroke-width="2.2"/>
<line x1="1319.2" y1="613.3" x2="1319.2" y2="891.1" stroke="#000" stroke-width="3.6"/>
<line x1="1301.5" y1="889.4" x2="1701" y2="889.4" stroke="#000" stroke-width="3.4"/>
<line x1="1301.5" y1="889.4" x2="1319.2" y2="889.4" stroke="#000" stroke-width="3.4"/>
<line x1="1308.2" y1="866.6" x2="1319.2" y2="866.6" stroke="#000" stroke-width="3.4"/>
<line x1="1308.2" y1="843.9" x2="1319.2" y2="843.9" stroke="#000" stroke-width="3.4"/>
<line x1="1308.2" y1="821.1" x2="1319.2" y2="821.1" stroke="#000" stroke-width="3.4"/>
<line x1="1301.5" y1="798.4" x2="1319.2" y2="798.4" stroke="#000" stroke-width="3.4"/>
<line x1="1308.2" y1="775.7" x2="1319.2" y2="775.7" stroke="#000" stroke-width="3.4"/>
<line x1="1308.2" y1="752.9" x2="1319.2" y2="752.9" stroke="#000" stroke-width="3.4"/>
<line x1="1308.2" y1="730.2" x2="1319.2" y2="730.2" stroke="#000" stroke-width="3.4"/>
<line x1="1301.5" y1="707.4" x2="1319.2" y2="707.4" stroke="#000" stroke-width="3.4"/>
<line x1="1308.2" y1="684.7" x2="1319.2" y2="684.7" stroke="#000" stroke-width="3.4"/>
<line x1="1308.2" y1="662" x2="1319.2" y2="662" stroke="#000" stroke-width="3.4"/>
<line x1="1308.2" y1="639.2" x2="1319.2" y2="639.2" stroke="#000" stroke-width="3.4"/>
<line x1="1301.5" y1="616.5" x2="1319.2" y2="616.5" stroke="#000" stroke-width="3.4"/>
<text x="1296.1" y="896" font-size="19" text-anchor="end" font-weight="bold" textLength="14" lengthAdjust="spacingAndGlyphs">0</text>
<text x="1296.1" y="805" font-size="19" text-anchor="end" font-weight="bold" textLength="28.5" lengthAdjust="spacingAndGlyphs">10</text>
<text x="1296.1" y="714" font-size="19" text-anchor="end" font-weight="bold" textLength="28.5" lengthAdjust="spacingAndGlyphs">20</text>
<text x="1296.1" y="623.1" font-size="19" text-anchor="end" font-weight="bold" textLength="28.5" lengthAdjust="spacingAndGlyphs">30</text>
<line x1="1377" y1="889.4" x2="1377" y2="902.1" stroke="#000" stroke-width="3.4"/>
<line x1="1463.6" y1="889.4" x2="1463.6" y2="902.1" stroke="#000" stroke-width="3.4"/>
<line x1="1550.9" y1="889.4" x2="1550.9" y2="902.1" stroke="#000" stroke-width="3.4"/>
<line x1="1638.2" y1="889.4" x2="1638.2" y2="902.1" stroke="#000" stroke-width="3.4"/>
<path d="M1461.1 537.4V523.9H1638.2V537.4" fill="none" stroke="#000" stroke-width="6" stroke-linejoin="round" stroke-linecap="round"/>
<path d="M1550.9 564V550.5H1639.3V564" fill="none" stroke="#000" stroke-width="6" stroke-linejoin="round" stroke-linecap="round"/>
<path d="M1377 583.5V570H1553.4V583.5" fill="none" stroke="#000" stroke-width="6" stroke-linejoin="round" stroke-linecap="round"/>
<path d="M1378.5 608.7V595.9H1458.3V608.7" fill="none" stroke="#000" stroke-width="6" stroke-linejoin="round" stroke-linecap="round"/>
<text x="1550.9" y="524.2" font-size="22" text-anchor="middle">*</text>
<text x="1594.9" y="551.5" font-size="22" text-anchor="middle" textLength="49" lengthAdjust="spacingAndGlyphs">****</text>
<text x="1460.8" y="562.2" font-size="12.4" text-anchor="middle" textLength="19.9" lengthAdjust="spacingAndGlyphs">NS</text>
<text x="1416.4" y="589.9" font-size="12.4" text-anchor="middle" textLength="19.9" lengthAdjust="spacingAndGlyphs">NS</text>
<text x="1231.9" y="736.1" font-size="17.6" text-anchor="middle" font-weight="bold" textLength="187" lengthAdjust="spacingAndGlyphs" transform="rotate(-90 1231.9 736.1)">Lean body weight(g)</text>
<text x="1259.2" y="736.1" font-size="17.6" text-anchor="middle" font-weight="bold" textLength="322.2" lengthAdjust="spacingAndGlyphs" transform="rotate(-90 1259.2 736.1)">when tumor volume was 3000 mm3</text>
<text font-size="18.5" text-anchor="end" font-weight="bold" textLength="93.5" lengthAdjust="spacingAndGlyphs" transform="translate(1382.5 913.3) scale(1.065 1) rotate(-45)" fill="#06061a">CT26 tumor</text><text font-size="18.5" text-anchor="end" font-weight="bold" textLength="143" lengthAdjust="spacingAndGlyphs" transform="translate(1458.9 900.3) scale(1.065 1) rotate(-45)" fill="#06061a">Ivosidenib treated</text><text font-size="18.5" text-anchor="end" font-weight="bold" textLength="93.5" lengthAdjust="spacingAndGlyphs" transform="translate(1474.6 914.4) scale(1.065 1) rotate(-45)" fill="#06061a">CT26 tumor</text><text font-size="18.5" text-anchor="end" font-weight="bold" textLength="93.5" lengthAdjust="spacingAndGlyphs" transform="translate(1538.8 909.6) scale(1.065 1) rotate(-45)" fill="#06061a">CT26 tumor</text><text font-size="18.5" text-anchor="end" font-weight="bold" textLength="151.5" lengthAdjust="spacingAndGlyphs" transform="translate(1555.7 922.1) scale(1.065 1) rotate(-45)" fill="#06061a">with IDH1-mutation</text><text font-size="18.5" text-anchor="end" font-weight="bold" textLength="143" lengthAdjust="spacingAndGlyphs" transform="translate(1628.4 907.8) scale(1.065 1) rotate(-45)" fill="#06061a">Ivosidenib treated</text><text font-size="18.5" text-anchor="end" font-weight="bold" textLength="93.5" lengthAdjust="spacingAndGlyphs" transform="translate(1645.6 921.6) scale(1.065 1) rotate(-45)" fill="#06061a">CT26 tumor</text><text font-size="18.5" text-anchor="end" font-weight="bold" textLength="151.5" lengthAdjust="spacingAndGlyphs" transform="translate(1663 935.7) scale(1.065 1) rotate(-45)" fill="#06061a">with IDH1-mutation</text></g>
<g id="panel_e"><defs><filter id="hbl" x="-20%" y="-20%" width="140%" height="140%"><feGaussianBlur stdDeviation="14"/></filter><filter id="htx" x="0" y="0" width="100%" height="100%"><feTurbulence type="fractalNoise" baseFrequency="0.28 0.06" numOctaves="2" seed="4" result="n"/><feColorMatrix type="matrix" values="0 0 0 0 1  0 0 0 0 0.8  0 0 0 0 0.85  2.2 0 0 0 -1.0"/></filter><filter id="hsoft" x="-2%" y="-2%" width="104%" height="104%"><feGaussianBlur stdDeviation="0.55"/></filter></defs>
<text x="-0.2" y="1077.2" font-size="46" font-weight="bold">e</text>
<text x="420.3" y="1122.6" font-size="23.5" text-anchor="middle" textLength="240.8" lengthAdjust="spacingAndGlyphs">Ivosidenib Treatment</text>
<rect x="237.3" y="1144.1" width="21.2" height="6.9" fill="#000"/>
<rect x="598.9" y="1141.1" width="21.7" height="4.4" fill="#000"/>
<rect x="607.6" y="1132.8" width="4.4" height="21.7" fill="#000"/>
<rect x="47.9" y="1318.7" width="21.7" height="7.9" fill="#000"/>
<rect x="45.4" y="1672.9" width="21.7" height="4.4" fill="#000"/>
<rect x="54" y="1664.5" width="4.4" height="21.7" fill="#000"/>
<text x="32.6" y="1486.5" font-size="25.2" text-anchor="middle" textLength="454" lengthAdjust="spacingAndGlyphs" transform="rotate(-90 32.6 1486.5)">CT26 Tumor with IDH1 R132H mutation</text>
<clipPath id="hc1"><rect x="78.9" y="1165.5" width="332.1" height="332.5"/></clipPath><linearGradient id="hg1" x1="0" y1="0.2" x2="1" y2="0.5"><stop offset="0" stop-color="#d45888"/><stop offset="0.18" stop-color="#da5e70"/><stop offset="0.5" stop-color="#df6258"/><stop offset="1" stop-color="#e0644e"/></linearGradient><g clip-path="url(#hc1)"><g filter="url(#hsoft)"><rect x="75.9" y="1162.5" width="338.1" height="338.5" fill="url(#hg1)"/><g filter="url(#hbl)"><circle cx="133.6" cy="1394.9" r="55.4" fill="#e05c44" opacity="0.35"/><circle cx="358.9" cy="1494.6" r="49" fill="#d8567a" opacity="0.35"/><circle cx="139.8" cy="1341" r="61.5" fill="#e4603c" opacity="0.35"/><circle cx="202.1" cy="1360.2" r="32.8" fill="#e4603c" opacity="0.35"/><circle cx="384.9" cy="1396.3" r="47.5" fill="#d8567a" opacity="0.35"/><circle cx="334.8" cy="1300.8" r="47.7" fill="#e05c44" opacity="0.35"/><circle cx="258.2" cy="1396.3" r="56" fill="#e05c44" opacity="0.35"/><circle cx="86.6" cy="1411.9" r="33.5" fill="#e4603c" opacity="0.35"/><circle cx="229.3" cy="1349.1" r="43.7" fill="#e05c44" opacity="0.35"/></g><rect x="78.9" y="1165.5" width="332.1" height="332.5" filter="url(#htx)" opacity="0.3"/><path d="M185.1 1165.5 C185.3 1171.6 188.1 1192.3 186.2 1202.1 C184.4 1211.8 176.8 1216.5 174 1224.2 C171.3 1231.9 170.7 1240.1 169.6 1248.6 C168.5 1257 168.5 1267 167.4 1275.1 C166.3 1283.2 161.9 1289.9 163 1297.3 C164.1 1304.6 170.4 1310.9 174 1319.4 C177.7 1327.9 181.1 1338.6 185.1 1348.2 C189.2 1357.8 194 1367.7 198.4 1377 C202.8 1386.2 207.3 1393.9 211.7 1403.5 C216.1 1413.1 218.3 1425.3 225 1434.5 C231.6 1443.7 247.1 1454.8 251.5 1458.9M127.6 1228.6 C127.2 1232.7 124.6 1243.8 125.3 1253 C126.1 1262.2 131.8 1275.9 132 1284 C132.2 1292.1 126.1 1293.6 126.5 1301.7 C126.8 1309.8 131.1 1321.6 134.2 1332.7 C137.3 1343.7 143.1 1358.5 145.3 1368.1 C147.5 1377.7 146 1381.4 147.5 1390.2 C149 1399.1 154.9 1407.9 154.1 1421.2 C153.4 1434.5 144.5 1457.1 143.1 1469.9 C141.6 1482.7 144.9 1493.4 145.3 1498M120.9 1199.8 C122 1204.6 120.2 1221.6 127.6 1228.6 C134.9 1235.6 158.9 1239.7 165.2 1241.9M186.2 1202.1 C189 1204.6 196.4 1210.9 202.8 1217.6 C209.3 1224.2 216.8 1236.7 225 1241.9 C233.1 1247.1 242.7 1244.9 251.5 1248.6 C260.4 1252.2 268.5 1258.9 278.1 1264 C287.7 1269.2 301.7 1271.4 309.1 1279.5 C316.5 1287.7 315.7 1303.9 322.4 1312.8 C329 1321.6 344.5 1329.4 348.9 1332.7M225 1241.9 C226.8 1239 229.8 1231.2 236 1224.2 C242.3 1217.2 259.3 1208.3 262.6 1199.8 C265.9 1191.4 262.2 1179 256 1173.3 C249.7 1167.6 230.1 1166.8 225 1165.5M262.6 1199.8 C266.7 1199.8 279.9 1202.8 287 1199.8 C294 1196.9 300.2 1187.9 304.7 1182.1 C309.1 1176.4 312 1168.3 313.5 1165.5M287 1199.8 C288.1 1206.1 295.1 1226.8 293.6 1237.5 C292.1 1248.2 280.7 1259.6 278.1 1264M293.6 1237.5 C299.1 1235.6 319.4 1230.5 326.8 1226.4 C334.2 1222.4 329 1217.2 337.9 1213.1 C346.7 1209.1 372.9 1203.9 379.9 1202.1M337.9 1165.5 L337.9 1213.1M326.8 1226.4 C327.5 1233.1 322.4 1259.6 331.2 1266.3 C340.1 1272.9 371.8 1266.3 379.9 1266.3M309.1 1279.5 L331.2 1266.3M169.6 1257.4 C176.6 1257.8 202.5 1262.2 211.7 1259.6 C220.9 1257 222.8 1244.9 225 1241.9M211.7 1259.6 C214.6 1264.8 223.9 1284.3 229.4 1290.6 C234.9 1296.9 240.5 1298.4 244.9 1297.3 C249.3 1296.1 250.4 1289.5 256 1284 C261.5 1278.4 274.4 1267.4 278.1 1264M244.9 1297.3 C247.5 1303.2 257.1 1325.3 260.4 1332.7 C263.7 1340.1 254.5 1344.5 264.8 1341.5 C275.1 1338.6 312.8 1319.4 322.4 1315M229.4 1297.3 C227.9 1302.4 227.9 1320.1 220.5 1328.2 C213.2 1336.4 191 1343 185.1 1346M220.5 1328.2 C225.3 1332.3 241.9 1350.4 249.3 1352.6 C256.7 1354.8 262.2 1343.4 264.8 1341.5M249.3 1352.6 C248.9 1358.9 253.4 1381.4 247.1 1390.2 C240.8 1399.1 217.6 1403.1 211.7 1405.7M247.1 1390.2 L291.4 1412.4M264.8 1346 L304.7 1390.2M145.3 1368.1 L185.1 1352.6M78.9 1341.5 C81.8 1350 91.8 1373.6 96.6 1392.4 C101.4 1411.3 104.7 1443.4 107.6 1454.4 C110.6 1465.5 113.2 1458.1 114.3 1458.9M96.6 1392.4 L147.5 1390.2M154.1 1421.2 L211.7 1412.4M143.1 1474.4 C153.8 1472.9 193.6 1472.1 207.3 1465.5 C220.9 1458.9 222 1439.7 225 1434.5M207.3 1465.5 L229.4 1492.1M251.5 1458.9 C250.1 1462.6 246.4 1475.5 242.7 1481 C239 1486.5 231.6 1490.2 229.4 1492.1M251.5 1458.9 L282.5 1434.5M309.1 1396.9 C316.5 1403.5 341.6 1434.9 353.4 1436.7 C365.2 1438.6 377 1418.6 379.9 1407.9 C382.9 1397.2 377 1382.1 371.1 1372.5 C365.2 1362.9 348.9 1354.1 344.5 1350.4M371.1 1372.5 L410.9 1350.4M379.9 1407.9 L410.9 1414.6M353.4 1436.7 C350.4 1438.9 342.3 1446.7 335.7 1450 C329 1453.3 316.5 1449.6 313.5 1456.6 C310.6 1463.7 317.2 1486.2 317.9 1492.1M353.4 1436.7 C361.5 1441.9 392.5 1462.9 402.1 1467.7 C411.7 1472.5 409.4 1465.9 410.9 1465.5M384.4 1301.7 L410.9 1328.2M395.4 1257.4 L410.9 1279.5M313.5 1456.6 L282.5 1436.7M78.9 1292.8 L125.3 1306.1M78.9 1182.1 L89.9 1207.6" fill="none" stroke="#5a306e" stroke-width="3.6" opacity="0.6" stroke-linecap="round" transform="translate(-0.5,-0.4)"/><path d="M185.1 1165.5 C185.3 1171.6 188.1 1192.3 186.2 1202.1 C184.4 1211.8 176.8 1216.5 174 1224.2 C171.3 1231.9 170.7 1240.1 169.6 1248.6 C168.5 1257 168.5 1267 167.4 1275.1 C166.3 1283.2 161.9 1289.9 163 1297.3 C164.1 1304.6 170.4 1310.9 174 1319.4 C177.7 1327.9 181.1 1338.6 185.1 1348.2 C189.2 1357.8 194 1367.7 198.4 1377 C202.8 1386.2 207.3 1393.9 211.7 1403.5 C216.1 1413.1 218.3 1425.3 225 1434.5 C231.6 1443.7 247.1 1454.8 251.5 1458.9M127.6 1228.6 C127.2 1232.7 124.6 1243.8 125.3 1253 C126.1 1262.2 131.8 1275.9 132 1284 C132.2 1292.1 126.1 1293.6 126.5 1301.7 C126.8 1309.8 131.1 1321.6 134.2 1332.7 C137.3 1343.7 143.1 1358.5 145.3 1368.1 C147.5 1377.7 146 1381.4 147.5 1390.2 C149 1399.1 154.9 1407.9 154.1 1421.2 C153.4 1434.5 144.5 1457.1 143.1 1469.9 C141.6 1482.7 144.9 1493.4 145.3 1498M120.9 1199.8 C122 1204.6 120.2 1221.6 127.6 1228.6 C134.9 1235.6 158.9 1239.7 165.2 1241.9M186.2 1202.1 C189 1204.6 196.4 1210.9 202.8 1217.6 C209.3 1224.2 216.8 1236.7 225 1241.9 C233.1 1247.1 242.7 1244.9 251.5 1248.6 C260.4 1252.2 268.5 1258.9 278.1 1264 C287.7 1269.2 301.7 1271.4 309.1 1279.5 C316.5 1287.7 315.7 1303.9 322.4 1312.8 C329 1321.6 344.5 1329.4 348.9 1332.7M225 1241.9 C226.8 1239 229.8 1231.2 236 1224.2 C242.3 1217.2 259.3 1208.3 262.6 1199.8 C265.9 1191.4 262.2 1179 256 1173.3 C249.7 1167.6 230.1 1166.8 225 1165.5M262.6 1199.8 C266.7 1199.8 279.9 1202.8 287 1199.8 C294 1196.9 300.2 1187.9 304.7 1182.1 C309.1 1176.4 312 1168.3 313.5 1165.5M287 1199.8 C288.1 1206.1 295.1 1226.8 293.6 1237.5 C292.1 1248.2 280.7 1259.6 278.1 1264M293.6 1237.5 C299.1 1235.6 319.4 1230.5 326.8 1226.4 C334.2 1222.4 329 1217.2 337.9 1213.1 C346.7 1209.1 372.9 1203.9 379.9 1202.1M337.9 1165.5 L337.9 1213.1M326.8 1226.4 C327.5 1233.1 322.4 1259.6 331.2 1266.3 C340.1 1272.9 371.8 1266.3 379.9 1266.3M309.1 1279.5 L331.2 1266.3M169.6 1257.4 C176.6 1257.8 202.5 1262.2 211.7 1259.6 C220.9 1257 222.8 1244.9 225 1241.9M211.7 1259.6 C214.6 1264.8 223.9 1284.3 229.4 1290.6 C234.9 1296.9 240.5 1298.4 244.9 1297.3 C249.3 1296.1 250.4 1289.5 256 1284 C261.5 1278.4 274.4 1267.4 278.1 1264M244.9 1297.3 C247.5 1303.2 257.1 1325.3 260.4 1332.7 C263.7 1340.1 254.5 1344.5 264.8 1341.5 C275.1 1338.6 312.8 1319.4 322.4 1315M229.4 1297.3 C227.9 1302.4 227.9 1320.1 220.5 1328.2 C213.2 1336.4 191 1343 185.1 1346M220.5 1328.2 C225.3 1332.3 241.9 1350.4 249.3 1352.6 C256.7 1354.8 262.2 1343.4 264.8 1341.5M249.3 1352.6 C248.9 1358.9 253.4 1381.4 247.1 1390.2 C240.8 1399.1 217.6 1403.1 211.7 1405.7M247.1 1390.2 L291.4 1412.4M264.8 1346 L304.7 1390.2M145.3 1368.1 L185.1 1352.6M78.9 1341.5 C81.8 1350 91.8 1373.6 96.6 1392.4 C101.4 1411.3 104.7 1443.4 107.6 1454.4 C110.6 1465.5 113.2 1458.1 114.3 1458.9M96.6 1392.4 L147.5 1390.2M154.1 1421.2 L211.7 1412.4M143.1 1474.4 C153.8 1472.9 193.6 1472.1 207.3 1465.5 C220.9 1458.9 222 1439.7 225 1434.5M207.3 1465.5 L229.4 1492.1M251.5 1458.9 C250.1 1462.6 246.4 1475.5 242.7 1481 C239 1486.5 231.6 1490.2 229.4 1492.1M251.5 1458.9 L282.5 1434.5M309.1 1396.9 C316.5 1403.5 341.6 1434.9 353.4 1436.7 C365.2 1438.6 377 1418.6 379.9 1407.9 C382.9 1397.2 377 1382.1 371.1 1372.5 C365.2 1362.9 348.9 1354.1 344.5 1350.4M371.1 1372.5 L410.9 1350.4M379.9 1407.9 L410.9 1414.6M353.4 1436.7 C350.4 1438.9 342.3 1446.7 335.7 1450 C329 1453.3 316.5 1449.6 313.5 1456.6 C310.6 1463.7 317.2 1486.2 317.9 1492.1M353.4 1436.7 C361.5 1441.9 392.5 1462.9 402.1 1467.7 C411.7 1472.5 409.4 1465.9 410.9 1465.5M384.4 1301.7 L410.9 1328.2M395.4 1257.4 L410.9 1279.5M313.5 1456.6 L282.5 1436.7M78.9 1292.8 L125.3 1306.1M78.9 1182.1 L89.9 1207.6" fill="none" stroke="#f0b4bc" stroke-width="1.4" stroke-linecap="round" transform="translate(0.4,0.3)"/><path d="M366.6 1315 C363.3 1318.7 353.7 1328.6 346.7 1337.1 C339.7 1345.6 331.6 1356.7 324.6 1365.9 C317.6 1375.1 310.2 1384.3 304.7 1392.4 C299.1 1400.6 295.1 1407.6 291.4 1414.6 C287.7 1421.6 284 1431.2 282.5 1434.5" fill="none" stroke="#3a3a6a" stroke-width="4.5" opacity="0.6" stroke-linecap="round" transform="translate(-0.5,-0.4)"/><path d="M366.6 1315 C363.3 1318.7 353.7 1328.6 346.7 1337.1 C339.7 1345.6 331.6 1356.7 324.6 1365.9 C317.6 1375.1 310.2 1384.3 304.7 1392.4 C299.1 1400.6 295.1 1407.6 291.4 1414.6 C287.7 1421.6 284 1431.2 282.5 1434.5" fill="none" stroke="#f6eef0" stroke-width="2.2" stroke-linecap="round" transform="translate(0.4,0.3)"/><path d="M376.6 1163.3 C379.3 1159.4 392.5 1158.3 396.5 1163.3 C400.6 1168.3 399.3 1182.7 401 1193.2 C402.6 1203.7 404.7 1217.9 406.5 1226.4 C408.3 1234.9 411.1 1239 412 1244.1 C413 1249.3 414.6 1255.2 412 1257.4 C409.4 1259.6 400.4 1254.5 396.5 1257.4 C392.7 1260.4 391.6 1269.2 388.8 1275.1 C386 1281 383.3 1286.6 379.9 1292.8 C376.6 1299.1 371.4 1309.4 368.9 1312.8 C366.3 1316.1 363.7 1316.1 364.4 1312.8 C365.2 1309.4 370.7 1299.8 373.3 1292.8 C375.9 1285.8 378.2 1278.1 379.9 1270.7 C381.7 1263.3 383.5 1257.8 383.9 1248.6 C384.4 1239.3 383.2 1225.7 382.6 1215.3 C382 1205 381.4 1195.2 380.4 1186.6 C379.4 1177.9 373.9 1167.2 376.6 1163.3Z" fill="#a9dbd6" stroke="#3a5a8a" stroke-width="2.8" opacity="0.55"/><path d="M376.6 1163.3 C379.3 1159.4 392.5 1158.3 396.5 1163.3 C400.6 1168.3 399.3 1182.7 401 1193.2 C402.6 1203.7 404.7 1217.9 406.5 1226.4 C408.3 1234.9 411.1 1239 412 1244.1 C413 1249.3 414.6 1255.2 412 1257.4 C409.4 1259.6 400.4 1254.5 396.5 1257.4 C392.7 1260.4 391.6 1269.2 388.8 1275.1 C386 1281 383.3 1286.6 379.9 1292.8 C376.6 1299.1 371.4 1309.4 368.9 1312.8 C366.3 1316.1 363.7 1316.1 364.4 1312.8 C365.2 1309.4 370.7 1299.8 373.3 1292.8 C375.9 1285.8 378.2 1278.1 379.9 1270.7 C381.7 1263.3 383.5 1257.8 383.9 1248.6 C384.4 1239.3 383.2 1225.7 382.6 1215.3 C382 1205 381.4 1195.2 380.4 1186.6 C379.4 1177.9 373.9 1167.2 376.6 1163.3Z" fill="#a9dbd6" stroke="#eef6f2" stroke-width="1.2"/><path d="M136.4 1163.3 C139.2 1160.6 145.1 1159.8 144.2 1163.3 C143.2 1166.8 134.9 1178.3 130.9 1184.4 C126.8 1190.4 124.4 1196 119.8 1199.8 C115.2 1203.7 108.2 1205.4 103.2 1207.6 C98.2 1209.8 94.4 1210 89.9 1213.1 C85.5 1216.3 78.9 1225.3 76.6 1226.4 C74.4 1227.5 74.6 1222.9 76.6 1219.8 C78.7 1216.6 84.4 1210.4 88.8 1207.6 C93.2 1204.8 98.6 1205.2 103.2 1203.2 C107.8 1201.1 112.4 1199.3 116.5 1195.4 C120.5 1191.5 124.2 1185.3 127.6 1179.9 C130.9 1174.6 133.6 1166.1 136.4 1163.3Z" fill="#a9dbd6" stroke="#3a5a8a" stroke-width="2.6" opacity="0.55"/><path d="M136.4 1163.3 C139.2 1160.6 145.1 1159.8 144.2 1163.3 C143.2 1166.8 134.9 1178.3 130.9 1184.4 C126.8 1190.4 124.4 1196 119.8 1199.8 C115.2 1203.7 108.2 1205.4 103.2 1207.6 C98.2 1209.8 94.4 1210 89.9 1213.1 C85.5 1216.3 78.9 1225.3 76.6 1226.4 C74.4 1227.5 74.6 1222.9 76.6 1219.8 C78.7 1216.6 84.4 1210.4 88.8 1207.6 C93.2 1204.8 98.6 1205.2 103.2 1203.2 C107.8 1201.1 112.4 1199.3 116.5 1195.4 C120.5 1191.5 124.2 1185.3 127.6 1179.9 C130.9 1174.6 133.6 1166.1 136.4 1163.3Z" fill="#a9dbd6" stroke="#eef6f2" stroke-width="1"/><path d="M191 1197.5A3.8 1.9 112.1 1 0 188.1 1204.4A3.8 1.9 112.1 1 0 191 1197.5zM260.8 1178.1A3.8 2 169.6 1 0 253.4 1179.5A3.8 2 169.6 1 0 260.8 1178.1zM287 1200.7A3.3 2 5.2 1 0 293.5 1201.3A3.3 2 5.2 1 0 287 1200.7zM139.4 1225A4.1 1.4 116.8 1 0 135.7 1232.3A4.1 1.4 116.8 1 0 139.4 1225zM240.2 1223.6A2.8 1.7 84.4 1 0 240.7 1229.2A2.8 1.7 84.4 1 0 240.2 1223.6zM166.9 1239.6A2.4 1.5 103.3 1 0 165.7 1244.3A2.4 1.5 103.3 1 0 166.9 1239.6zM275.5 1262A4.1 1.9 50.3 1 0 280.7 1268.3A4.1 1.9 50.3 1 0 275.5 1262zM330 1247.8A3.9 1.4 28.7 1 0 336.8 1251.5A3.9 1.4 28.7 1 0 330 1247.8zM134 1277.1A2.6 1.3 111.1 1 0 132.1 1282A2.6 1.3 111.1 1 0 134 1277.1zM162.2 1290.6A2.8 1.5 156.9 1 0 157.1 1292.8A2.8 1.5 156.9 1 0 162.2 1290.6zM395 1274.9A4 1.5 176.8 1 0 387 1275.3A4 1.5 176.8 1 0 395 1274.9zM175.2 1316.8A3.4 1.8 173.1 1 0 168.5 1317.6A3.4 1.8 173.1 1 0 175.2 1316.8zM321.3 1310.3A4.1 1.8 36.9 1 0 327.9 1315.2A4.1 1.8 36.9 1 0 321.3 1310.3zM289.9 1335.6A4.1 1.5 174 1 0 281.8 1336.4A4.1 1.5 174 1 0 289.9 1335.6zM347.8 1331.3A2.7 1.4 65 1 0 350.1 1336.2A2.7 1.4 65 1 0 347.8 1331.3zM132.4 1332.1A2.9 1.8 11.7 1 0 138.2 1333.3A2.9 1.8 11.7 1 0 132.4 1332.1zM316.5 1369.2A3.6 1.6 0.6 1 0 323.8 1369.2A3.6 1.6 0.6 1 0 316.5 1369.2zM231.6 1392.5A3.9 1.7 55.8 1 0 236 1399A3.9 1.7 55.8 1 0 231.6 1392.5zM217.6 1405.2A3.3 1.8 56.8 1 0 221.2 1410.7A3.3 1.8 56.8 1 0 217.6 1405.2zM148.9 1399.4A4.2 1.3 10.3 1 0 157.2 1400.9A4.2 1.3 10.3 1 0 148.9 1399.4zM93.8 1400.7A4 1.3 135 1 0 88.2 1406.3A4 1.3 135 1 0 93.8 1400.7zM162.1 1420.4A3.1 1.7 141.8 1 0 157.3 1424.2A3.1 1.7 141.8 1 0 162.1 1420.4zM287.8 1411.2A2.5 1.4 1.6 1 0 292.7 1411.3A2.5 1.4 1.6 1 0 287.8 1411.2zM391.5 1406.5A2.7 1.9 171.9 1 0 386.1 1407.2A2.7 1.9 171.9 1 0 391.5 1406.5zM358.5 1435.8A4.1 1.6 167.3 1 0 350.4 1437.6A4.1 1.6 167.3 1 0 358.5 1435.8zM336.4 1444.8A3.4 1.9 63.9 1 0 339.3 1450.8A3.4 1.9 63.9 1 0 336.4 1444.8zM111.8 1458.7A3.8 1.9 19.4 1 0 118.9 1461.2A3.8 1.9 19.4 1 0 111.8 1458.7zM86.6 1462.2A2.4 2 154.7 1 0 82.2 1464.3A2.4 2 154.7 1 0 86.6 1462.2zM141.3 1477.9A3 1.8 16.4 1 0 147.1 1479.6A3 1.8 16.4 1 0 141.3 1477.9zM232.3 1491.3A3 2 165.3 1 0 226.5 1492.8A3 2 165.3 1 0 232.3 1491.3zM316.1 1482.5A3 1.5 98.1 1 0 315.3 1488.4A3 1.5 98.1 1 0 316.1 1482.5zM404.4 1351.3A2.5 1.4 31.9 1 0 408.6 1353.9A2.5 1.4 31.9 1 0 404.4 1351.3zM404.4 1486.3A4.2 1.4 124.1 1 0 399.7 1493.4A4.2 1.4 124.1 1 0 404.4 1486.3z" fill="#14141e"/></g></g>
<clipPath id="hc2"><rect x="432.1" y="1165.5" width="332.7" height="332.5"/></clipPath><linearGradient id="hg2" x1="0.2" y1="0" x2="0.8" y2="1"><stop offset="0" stop-color="#d45880"/><stop offset="0.5" stop-color="#da5e68"/><stop offset="1" stop-color="#de6254"/></linearGradient><g clip-path="url(#hc2)"><g filter="url(#hsoft)"><rect x="429.1" y="1162.5" width="338.7" height="338.5" fill="url(#hg2)"/><g filter="url(#hbl)"><circle cx="750.9" cy="1212.2" r="30.9" fill="#d0508a" opacity="0.35"/><circle cx="493.4" cy="1205.6" r="56.1" fill="#d0508a" opacity="0.35"/><circle cx="695.8" cy="1192" r="40.8" fill="#e05a44" opacity="0.35"/><circle cx="538.4" cy="1365.4" r="67.3" fill="#dc5650" opacity="0.35"/><circle cx="676" cy="1308.5" r="65.3" fill="#dc5650" opacity="0.35"/><circle cx="725.3" cy="1361.6" r="42.4" fill="#e05a44" opacity="0.35"/><circle cx="492.2" cy="1202.6" r="51.2" fill="#dc5650" opacity="0.35"/><circle cx="689.6" cy="1485.1" r="52.7" fill="#dc5650" opacity="0.35"/><circle cx="540.7" cy="1276.9" r="37.4" fill="#d0508a" opacity="0.35"/></g><rect x="432.1" y="1165.5" width="332.7" height="332.5" filter="url(#htx)" opacity="0.3"/><path d="M432.1 1191 C438.7 1194.7 463.8 1205.8 471.5 1213.1 C479.2 1220.5 470.4 1224.9 478.1 1235.3 C485.9 1245.6 509.5 1266.6 518 1275.1 C526.5 1283.6 527.2 1284.3 529 1286.2M432.1 1230.8 L475.9 1241.9M471.5 1213.1 C472.2 1217.9 474.1 1236 475.9 1241.9 C477.8 1247.8 481.5 1247.4 482.6 1248.6M432.1 1270.7 C439.4 1274 461.2 1285.4 475.9 1290.6 C490.6 1295.8 512.8 1299.8 520.2 1301.7M471.5 1292.8 C469.3 1298.7 464.5 1320.9 458.2 1328.2 C451.9 1335.6 437.9 1335.6 433.9 1337.1M458.2 1328.2 L473.7 1359.2M562.3 1230.8 C567.4 1236.4 582.9 1255.9 593.2 1264 C603.6 1272.2 615.8 1272.9 624.2 1279.5 C632.7 1286.2 639 1300.9 644.2 1303.9 C649.3 1306.8 653.4 1298.4 655.2 1297.3M608.7 1186.6 C612.1 1190.3 620.2 1203.5 628.7 1208.7 C637.2 1213.9 654.5 1216.1 659.7 1217.6M608.7 1230.8 L624.2 1270.7M644.2 1303.9 C641.6 1308.7 632.4 1323.5 628.7 1332.7 C625 1341.9 622.8 1349.3 622 1359.2 C621.3 1369.2 622.4 1381.4 624.2 1392.4 C626.1 1403.5 631.6 1414.6 633.1 1425.7 C634.6 1436.7 633.8 1446.8 633.1 1458.9 C632.4 1470.9 629.4 1491.5 628.7 1498M571.1 1359.2 C576.3 1362.9 593.2 1374 602.1 1381.4 C611 1388.8 620.6 1399.8 624.2 1403.5M580 1436.7 C584.8 1437.1 599.9 1437.1 608.7 1438.9 C617.6 1440.8 629 1446.3 633.1 1447.8M633.1 1436.7 L688.4 1441.2M672.9 1339.3 C675.9 1339.7 683.6 1336 690.7 1341.5 C697.7 1347.1 710.6 1362.2 715 1372.5 C719.4 1382.9 718.3 1394.7 717.2 1403.5 C716.1 1412.4 712.8 1420.5 708.4 1425.7 C703.9 1430.8 693.6 1433 690.7 1434.5M715 1372.5 L743.8 1363.7M708.4 1425.7 C712.8 1430.5 726.8 1447.1 734.9 1454.4 C743 1461.8 753.4 1467.3 757.1 1469.9M464.8 1399.1 C473.7 1401.3 501.7 1406.5 518 1412.4 C534.2 1418.3 554.9 1430.8 562.3 1434.5M518 1412.4 C515.8 1417.5 513.6 1437.5 504.7 1443.4 C495.8 1449.3 471.5 1447.1 464.8 1447.8M504.7 1443.4 C508 1447.8 514.3 1463.7 524.6 1469.9 C535 1476.2 559.7 1479.2 566.7 1481M717.2 1217.6 L730.5 1186.6M717.2 1217.6 C716.9 1225.7 716.1 1255.2 715 1266.3 C713.9 1277.3 711.3 1281 710.6 1284M659.7 1217.6 L717.2 1219.8M557.8 1173.3 L608.7 1186.6M734.9 1184.4 L717.2 1217.6M743.8 1363.7 L764.8 1381.4" fill="none" stroke="#5a306e" stroke-width="3.6" opacity="0.6" stroke-linecap="round" transform="translate(-0.5,-0.4)"/><path d="M432.1 1191 C438.7 1194.7 463.8 1205.8 471.5 1213.1 C479.2 1220.5 470.4 1224.9 478.1 1235.3 C485.9 1245.6 509.5 1266.6 518 1275.1 C526.5 1283.6 527.2 1284.3 529 1286.2M432.1 1230.8 L475.9 1241.9M471.5 1213.1 C472.2 1217.9 474.1 1236 475.9 1241.9 C477.8 1247.8 481.5 1247.4 482.6 1248.6M432.1 1270.7 C439.4 1274 461.2 1285.4 475.9 1290.6 C490.6 1295.8 512.8 1299.8 520.2 1301.7M471.5 1292.8 C469.3 1298.7 464.5 1320.9 458.2 1328.2 C451.9 1335.6 437.9 1335.6 433.9 1337.1M458.2 1328.2 L473.7 1359.2M562.3 1230.8 C567.4 1236.4 582.9 1255.9 593.2 1264 C603.6 1272.2 615.8 1272.9 624.2 1279.5 C632.7 1286.2 639 1300.9 644.2 1303.9 C649.3 1306.8 653.4 1298.4 655.2 1297.3M608.7 1186.6 C612.1 1190.3 620.2 1203.5 628.7 1208.7 C637.2 1213.9 654.5 1216.1 659.7 1217.6M608.7 1230.8 L624.2 1270.7M644.2 1303.9 C641.6 1308.7 632.4 1323.5 628.7 1332.7 C625 1341.9 622.8 1349.3 622 1359.2 C621.3 1369.2 622.4 1381.4 624.2 1392.4 C626.1 1403.5 631.6 1414.6 633.1 1425.7 C634.6 1436.7 633.8 1446.8 633.1 1458.9 C632.4 1470.9 629.4 1491.5 628.7 1498M571.1 1359.2 C576.3 1362.9 593.2 1374 602.1 1381.4 C611 1388.8 620.6 1399.8 624.2 1403.5M580 1436.7 C584.8 1437.1 599.9 1437.1 608.7 1438.9 C617.6 1440.8 629 1446.3 633.1 1447.8M633.1 1436.7 L688.4 1441.2M672.9 1339.3 C675.9 1339.7 683.6 1336 690.7 1341.5 C697.7 1347.1 710.6 1362.2 715 1372.5 C719.4 1382.9 718.3 1394.7 717.2 1403.5 C716.1 1412.4 712.8 1420.5 708.4 1425.7 C703.9 1430.8 693.6 1433 690.7 1434.5M715 1372.5 L743.8 1363.7M708.4 1425.7 C712.8 1430.5 726.8 1447.1 734.9 1454.4 C743 1461.8 753.4 1467.3 757.1 1469.9M464.8 1399.1 C473.7 1401.3 501.7 1406.5 518 1412.4 C534.2 1418.3 554.9 1430.8 562.3 1434.5M518 1412.4 C515.8 1417.5 513.6 1437.5 504.7 1443.4 C495.8 1449.3 471.5 1447.1 464.8 1447.8M504.7 1443.4 C508 1447.8 514.3 1463.7 524.6 1469.9 C535 1476.2 559.7 1479.2 566.7 1481M717.2 1217.6 L730.5 1186.6M717.2 1217.6 C716.9 1225.7 716.1 1255.2 715 1266.3 C713.9 1277.3 711.3 1281 710.6 1284M659.7 1217.6 L717.2 1219.8M557.8 1173.3 L608.7 1186.6M734.9 1184.4 L717.2 1217.6M743.8 1363.7 L764.8 1381.4" fill="none" stroke="#f0b4bc" stroke-width="1.4" stroke-linecap="round" transform="translate(0.4,0.3)"/><path d="M648.6 1165.5 C649.7 1171.3 653.4 1189.7 655.2 1199.8 C657.1 1210 659.3 1216.5 659.7 1226.4 C660 1236.4 658.2 1247.8 657.4 1259.6 C656.7 1271.4 653.8 1286.2 655.2 1297.3 C656.7 1308.3 663.4 1315.7 666.3 1326 C669.3 1336.4 670.4 1348.2 672.9 1359.2 C675.5 1370.3 679.2 1381.4 681.8 1392.4 C684.4 1403.5 687 1414.6 688.4 1425.7 C689.9 1436.7 689.7 1446.8 690.7 1458.9 C691.6 1470.9 693.4 1491.5 694 1498M659.7 1226.4 C664.1 1231.2 678.1 1244.9 686.2 1255.2 C694.3 1265.5 702.5 1278.4 708.4 1288.4 C714.3 1298.4 716.5 1305 721.6 1315 C726.8 1324.9 734.2 1337.8 739.4 1348.2 C744.5 1358.5 748.4 1368.8 752.6 1377 C756.9 1385.1 762.8 1393.6 764.8 1396.9M712.8 1165.5 C716.5 1168.7 726.3 1176.8 734.9 1184.4 C743.6 1191.9 759.8 1206.5 764.8 1210.9M764.8 1266.3 C763.5 1269.2 757.1 1276.6 757.1 1284 C757.1 1291.4 763.5 1306.1 764.8 1310.5M442.7 1421.2 C445.7 1427.5 454.1 1446.1 460.4 1458.9 C466.7 1471.7 477 1491.5 480.3 1498" fill="none" stroke="#4a3a7a" stroke-width="4.2" opacity="0.6" stroke-linecap="round" transform="translate(-0.5,-0.4)"/><path d="M648.6 1165.5 C649.7 1171.3 653.4 1189.7 655.2 1199.8 C657.1 1210 659.3 1216.5 659.7 1226.4 C660 1236.4 658.2 1247.8 657.4 1259.6 C656.7 1271.4 653.8 1286.2 655.2 1297.3 C656.7 1308.3 663.4 1315.7 666.3 1326 C669.3 1336.4 670.4 1348.2 672.9 1359.2 C675.5 1370.3 679.2 1381.4 681.8 1392.4 C684.4 1403.5 687 1414.6 688.4 1425.7 C689.9 1436.7 689.7 1446.8 690.7 1458.9 C691.6 1470.9 693.4 1491.5 694 1498M659.7 1226.4 C664.1 1231.2 678.1 1244.9 686.2 1255.2 C694.3 1265.5 702.5 1278.4 708.4 1288.4 C714.3 1298.4 716.5 1305 721.6 1315 C726.8 1324.9 734.2 1337.8 739.4 1348.2 C744.5 1358.5 748.4 1368.8 752.6 1377 C756.9 1385.1 762.8 1393.6 764.8 1396.9M712.8 1165.5 C716.5 1168.7 726.3 1176.8 734.9 1184.4 C743.6 1191.9 759.8 1206.5 764.8 1210.9M764.8 1266.3 C763.5 1269.2 757.1 1276.6 757.1 1284 C757.1 1291.4 763.5 1306.1 764.8 1310.5M442.7 1421.2 C445.7 1427.5 454.1 1446.1 460.4 1458.9 C466.7 1471.7 477 1491.5 480.3 1498" fill="none" stroke="#f6eef2" stroke-width="2" stroke-linecap="round" transform="translate(0.4,0.3)"/><path d="M540.6 1163.3 C538.8 1168.3 545 1183.4 545.7 1193.2 C546.3 1203 546.2 1212.8 544.5 1222 C542.9 1231.2 537.7 1239.7 535.7 1248.6 C533.7 1257.4 532 1267 532.4 1275.1 C532.7 1283.2 535.1 1289.1 537.9 1297.3 C540.7 1305.4 545.7 1314.2 549 1323.8 C552.3 1333.4 555.6 1345.2 557.8 1354.8 C560 1364.4 561 1371.4 562.3 1381.4 C563.5 1391.3 564.8 1403.5 565.6 1414.6 C566.3 1425.7 566.1 1433.4 566.7 1447.8 C567.2 1462.2 566.5 1492.1 568.9 1500.9 C571.3 1509.8 579.2 1509.8 581.1 1500.9 C583 1492.1 581 1462.2 580.4 1447.8 C579.9 1433.4 578.9 1425.7 577.8 1414.6 C576.6 1403.5 574.8 1391.3 573.3 1381.4 C571.8 1371.4 570.7 1364 568.9 1354.8 C567.1 1345.6 564.8 1334.9 562.3 1326 C559.7 1317.2 555.6 1309.4 553.4 1301.7 C551.2 1293.9 549.2 1287.7 549 1279.5 C548.8 1271.4 550.4 1261.8 552.3 1253 C554.1 1244.1 558.4 1235.3 560 1226.4 C561.7 1217.6 562.6 1208.7 562.3 1199.8 C561.9 1191 558.9 1179.4 557.8 1173.3 C556.8 1167.2 558.9 1165 556.1 1163.3 C553.2 1161.7 542.3 1158.3 540.6 1163.3Z" fill="#a9dbd6" stroke="#3a5a8a" stroke-width="2.8" opacity="0.55"/><path d="M540.6 1163.3 C538.8 1168.3 545 1183.4 545.7 1193.2 C546.3 1203 546.2 1212.8 544.5 1222 C542.9 1231.2 537.7 1239.7 535.7 1248.6 C533.7 1257.4 532 1267 532.4 1275.1 C532.7 1283.2 535.1 1289.1 537.9 1297.3 C540.7 1305.4 545.7 1314.2 549 1323.8 C552.3 1333.4 555.6 1345.2 557.8 1354.8 C560 1364.4 561 1371.4 562.3 1381.4 C563.5 1391.3 564.8 1403.5 565.6 1414.6 C566.3 1425.7 566.1 1433.4 566.7 1447.8 C567.2 1462.2 566.5 1492.1 568.9 1500.9 C571.3 1509.8 579.2 1509.8 581.1 1500.9 C583 1492.1 581 1462.2 580.4 1447.8 C579.9 1433.4 578.9 1425.7 577.8 1414.6 C576.6 1403.5 574.8 1391.3 573.3 1381.4 C571.8 1371.4 570.7 1364 568.9 1354.8 C567.1 1345.6 564.8 1334.9 562.3 1326 C559.7 1317.2 555.6 1309.4 553.4 1301.7 C551.2 1293.9 549.2 1287.7 549 1279.5 C548.8 1271.4 550.4 1261.8 552.3 1253 C554.1 1244.1 558.4 1235.3 560 1226.4 C561.7 1217.6 562.6 1208.7 562.3 1199.8 C561.9 1191 558.9 1179.4 557.8 1173.3 C556.8 1167.2 558.9 1165 556.1 1163.3 C553.2 1161.7 542.3 1158.3 540.6 1163.3Z" fill="#a9dbd6" stroke="#eef6f2" stroke-width="1.2"/><path d="M533.5 1286.2 C530.9 1288.8 525.7 1303.2 520.2 1312.8 C514.7 1322.3 508 1334.5 500.3 1343.7 C492.5 1353 482.6 1360 473.7 1368.1 C464.8 1376.2 454.3 1386.9 447.1 1392.4 C439.9 1398 433.3 1383.2 430.5 1401.3 C427.8 1419.4 429.9 1484.3 430.5 1500.9 C431.2 1517.5 433.2 1506.1 434.3 1500.9 C435.4 1495.8 436.2 1479.5 437.2 1469.9 C438.1 1460.3 438.9 1451.9 440.1 1443.4 C441.2 1434.9 440.4 1426 443.8 1419 C447.2 1412 454 1408.3 460.4 1401.3 C466.9 1394.3 475.2 1385.4 482.6 1377 C489.9 1368.5 498.1 1359.2 504.7 1350.4 C511.3 1341.5 517.2 1332.7 522.4 1323.8 C527.6 1315 533.8 1303.5 535.7 1297.3 C537.5 1291 536.1 1283.6 533.5 1286.2Z" fill="#a9dbd6" stroke="#3a5a8a" stroke-width="2.8" opacity="0.55"/><path d="M533.5 1286.2 C530.9 1288.8 525.7 1303.2 520.2 1312.8 C514.7 1322.3 508 1334.5 500.3 1343.7 C492.5 1353 482.6 1360 473.7 1368.1 C464.8 1376.2 454.3 1386.9 447.1 1392.4 C439.9 1398 433.3 1383.2 430.5 1401.3 C427.8 1419.4 429.9 1484.3 430.5 1500.9 C431.2 1517.5 433.2 1506.1 434.3 1500.9 C435.4 1495.8 436.2 1479.5 437.2 1469.9 C438.1 1460.3 438.9 1451.9 440.1 1443.4 C441.2 1434.9 440.4 1426 443.8 1419 C447.2 1412 454 1408.3 460.4 1401.3 C466.9 1394.3 475.2 1385.4 482.6 1377 C489.9 1368.5 498.1 1359.2 504.7 1350.4 C511.3 1341.5 517.2 1332.7 522.4 1323.8 C527.6 1315 533.8 1303.5 535.7 1297.3 C537.5 1291 536.1 1283.6 533.5 1286.2Z" fill="#a9dbd6" stroke="#eef6f2" stroke-width="1.2"/><path d="M491.2 1210.8A3.9 1.7 142.8 1 0 485 1215.5A3.9 1.7 142.8 1 0 491.2 1210.8zM473.2 1236.8A2.4 1.8 47.1 1 0 476.4 1240.3A2.4 1.8 47.1 1 0 473.2 1236.8zM475.6 1285.7A3.8 1.6 84.6 1 0 476.3 1293.3A3.8 1.6 84.6 1 0 475.6 1285.7zM531.2 1284.3A2.9 1.9 138.6 1 0 526.9 1288.1A2.9 1.9 138.6 1 0 531.2 1284.3zM540 1241.8A3.2 1.7 131.4 1 0 535.8 1246.5A3.2 1.7 131.4 1 0 540 1241.8zM610.2 1182A2.7 1.7 122.8 1 0 607.3 1186.7A2.7 1.7 122.8 1 0 610.2 1182zM626.6 1273.5A2.9 1.9 144.9 1 0 621.9 1276.8A2.9 1.9 144.9 1 0 626.6 1273.5zM613.1 1274A4 1.5 123.4 1 0 608.8 1280.6A4 1.5 123.4 1 0 613.1 1274zM678.1 1172.2A3.9 1.9 16.8 1 0 685.5 1174.4A3.9 1.9 16.8 1 0 678.1 1172.2zM703.5 1184A2.6 1.4 80.1 1 0 704.4 1189.1A2.6 1.4 80.1 1 0 703.5 1184zM716.2 1257A2.9 2 114.3 1 0 713.8 1262.3A2.9 2 114.3 1 0 716.2 1257zM669.3 1217.1A2.8 1.8 105.9 1 0 667.8 1222.4A2.8 1.8 105.9 1 0 669.3 1217.1zM576 1294.6A4.1 2 64.9 1 0 579.5 1302.1A4.1 2 64.9 1 0 576 1294.6zM564.6 1321.3A3.6 1.8 92.6 1 0 564.3 1328.5A3.6 1.8 92.6 1 0 564.6 1321.3zM559.1 1363.5A4.2 1.3 145 1 0 552.2 1368.3A4.2 1.3 145 1 0 559.1 1363.5zM520.9 1369.3A3.5 1.5 65 1 0 523.9 1375.7A3.5 1.5 65 1 0 520.9 1369.3zM613.9 1340.2A2.5 2 106 1 0 612.5 1345.1A2.5 2 106 1 0 613.9 1340.2zM628.9 1344.5A2.6 1.8 94.5 1 0 628.5 1349.7A2.6 1.8 94.5 1 0 628.9 1344.5zM686.9 1338.1A2.7 1.7 56.2 1 0 690 1342.7A2.7 1.7 56.2 1 0 686.9 1338.1zM632.8 1390.2A2.8 2 24.9 1 0 637.8 1392.5A2.8 2 24.9 1 0 632.8 1390.2zM654.4 1377.2A2.4 1.9 125.7 1 0 651.6 1381.1A2.4 1.9 125.7 1 0 654.4 1377.2zM716.4 1381.2A3 2 3.1 1 0 722.4 1381.5A3 2 3.1 1 0 716.4 1381.2zM718.3 1400.8A3 1.6 111.6 1 0 716.1 1406.3A3 1.6 111.6 1 0 718.3 1400.8zM705.3 1426.5A2.6 2.1 70 1 0 707 1431.4A2.6 2.1 70 1 0 705.3 1426.5zM687.5 1434A3.2 1.9 9.7 1 0 693.8 1435A3.2 1.9 9.7 1 0 687.5 1434zM609.6 1431.6A4.2 1.5 71.6 1 0 612.3 1439.6A4.2 1.5 71.6 1 0 609.6 1431.6zM637.1 1449.7A4 1.8 176.3 1 0 629.1 1450.3A4 1.8 176.3 1 0 637.1 1449.7zM689.3 1446.7A3.2 1.9 160.1 1 0 683.2 1448.9A3.2 1.9 160.1 1 0 689.3 1446.7zM695.6 1474.6A3.3 1.7 143.3 1 0 690.2 1478.6A3.3 1.7 143.3 1 0 695.6 1474.6zM519.9 1409.9A3.1 1.3 127 1 0 516.1 1414.9A3.1 1.3 127 1 0 519.9 1409.9zM493.4 1398.1A2.9 1.7 134.4 1 0 489.4 1402.3A2.9 1.7 134.4 1 0 493.4 1398.1zM469.2 1399.6A2.7 1.3 141.1 1 0 465 1403A2.7 1.3 141.1 1 0 469.2 1399.6zM439.5 1426.6A3.5 1.6 22.2 1 0 445.9 1429.2A3.5 1.6 22.2 1 0 439.5 1426.6zM500.2 1441A3.2 2 46.1 1 0 504.7 1445.7A3.2 2 46.1 1 0 500.2 1441zM462.7 1446.6A3.1 2 45.9 1 0 467 1451.2A3.1 2 45.9 1 0 462.7 1446.6zM525.6 1469.4A2.9 1.7 110.2 1 0 523.6 1474.8A2.9 1.7 110.2 1 0 525.6 1469.4zM568.7 1485A2.6 1.6 86.1 1 0 569.1 1490.3A2.6 1.6 86.1 1 0 568.7 1485zM431.6 1488.9A3.9 1.5 55 1 0 436.1 1495.3A3.9 1.5 55 1 0 431.6 1488.9zM732.5 1453A4.2 2 118.7 1 0 728.5 1460.3A4.2 2 118.7 1 0 732.5 1453zM751.3 1466.7A3.5 1.5 67.7 1 0 754 1473.2A3.5 1.5 67.7 1 0 751.3 1466.7zM756 1414.8A3.3 1.9 71.7 1 0 758.1 1421A3.3 1.9 71.7 1 0 756 1414.8zM744.4 1348.7A2.9 1.3 168.6 1 0 738.7 1349.9A2.9 1.3 168.6 1 0 744.4 1348.7zM723.5 1310.3A2.5 1.3 80.9 1 0 724.3 1315.2A2.5 1.3 80.9 1 0 723.5 1310.3zM745.7 1240.2A2.6 1.9 139.2 1 0 741.8 1243.6A2.6 1.9 139.2 1 0 745.7 1240.2zM759.8 1264.7A4.1 2 65.2 1 0 763.2 1272.2A4.1 2 65.2 1 0 759.8 1264.7z" fill="#14141e"/></g></g>
<clipPath id="hc3"><rect x="78.9" y="1523.4" width="332.1" height="330.3"/></clipPath><linearGradient id="hg3" x1="0" y1="0" x2="1" y2="1"><stop offset="0" stop-color="#da6482"/><stop offset="0.5" stop-color="#dd6672"/><stop offset="1" stop-color="#db647c"/></linearGradient><g clip-path="url(#hc3)"><g filter="url(#hsoft)"><rect x="75.9" y="1520.4" width="338.1" height="336.3" fill="url(#hg3)"/><g filter="url(#hbl)"><circle cx="386" cy="1836.7" r="56.2" fill="#e05a4c" opacity="0.35"/><circle cx="84.5" cy="1624.7" r="38.3" fill="#d8608c" opacity="0.35"/><circle cx="122.1" cy="1586.8" r="40.6" fill="#e05a4c" opacity="0.35"/><circle cx="284.8" cy="1821.2" r="28.7" fill="#de5a58" opacity="0.35"/><circle cx="244.3" cy="1529.9" r="47" fill="#d8608c" opacity="0.35"/><circle cx="198.1" cy="1542.4" r="52.4" fill="#de5a58" opacity="0.35"/><circle cx="201.4" cy="1580.2" r="32.6" fill="#de5a58" opacity="0.35"/><circle cx="199.3" cy="1774.4" r="37.9" fill="#de5a58" opacity="0.35"/><circle cx="172.3" cy="1845.3" r="45.1" fill="#d8608c" opacity="0.35"/><circle cx="137.8" cy="1683" r="52.7" fill="#de5a58" opacity="0.35"/></g><rect x="78.9" y="1523.4" width="332.1" height="330.3" filter="url(#htx)" opacity="0.3"/><path d="M75.7 1853Q93.3 1864.1 106.4 1880.4M48.8 1524.7Q62.9 1541.9 77.9 1558.3M77.9 1558.3Q73.9 1566.7 68.6 1574.4M75.7 1853Q82.2 1837.2 86.6 1820.7M-11.6 1789.5Q36.2 1809.1 86.6 1820.7M106.4 1880.4Q111.6 1850.7 131.4 1828M131.4 1828Q110.3 1828.9 92.3 1817.7M86.6 1820.7Q89.8 1819.8 92.3 1817.7M122.2 1956.5Q135.1 1898.3 164.9 1846.7M131.4 1828Q133 1827.2 134.7 1827M134.7 1827Q146.7 1841.6 164.9 1846.7M218 1921.6Q196.3 1884.2 176.1 1846M164.9 1846.7Q170.6 1847.6 176.1 1846M382.6 1835.6Q391.7 1849.4 400.4 1863.4M382.6 1835.6Q369.5 1838.3 357 1843.3M357 1843.3Q355.9 1847.4 353.2 1850.7M353.2 1850.7Q361 1886.7 374.8 1920.9M443.1 1854.3Q420.7 1853.8 400.4 1863.4M443.1 1854.3Q428.3 1836.4 412.9 1819M412.9 1819Q401.5 1819 390.5 1822.5M390.5 1822.5Q385.9 1828.6 382.6 1835.6M337.7 1793.1Q355.8 1786.4 374.7 1790.1M337.7 1793.1Q335.4 1799.6 335.3 1806.6M390.5 1822.5Q383.6 1805.8 374.7 1790.1M335.3 1806.6Q348.5 1823.6 357 1843.3M335.3 1806.6Q322 1825.8 300.3 1834.5M300.3 1834.5Q306.9 1849 319.3 1859.1M319.3 1859.1Q336.1 1854.6 353.2 1850.7M213.8 1530.1Q223.2 1532.8 232.9 1532.8M213.8 1530.1Q210.9 1486.6 188.4 1449.2M290.4 1433.6Q254.9 1479.3 232.9 1532.8M48.8 1524.7Q65.3 1518.2 76.3 1504.3M126.8 1772.6Q110.4 1776.4 93.7 1777.9M126.8 1772.6Q132.3 1758.9 132.3 1744M132.3 1744Q109.4 1737.3 86.9 1729.1M86.9 1729.1Q80.6 1749.5 85.7 1770.2M85.7 1770.2Q88.8 1775 93.7 1777.9M92.3 1817.7Q87.9 1797.6 93.7 1777.9M145 1793.9Q143.7 1811.6 134.7 1827M145 1793.9Q134 1784.9 126.8 1772.6M-4.6 1714.3Q38.3 1732.8 84.3 1724.8M84.3 1724.8Q85.7 1726.9 86.9 1729.1M-11.6 1789.5Q37.8 1783.8 85.7 1770.2M84.3 1724.8Q88.2 1716 94.1 1708.6M132.3 1744Q138.9 1739.4 145.5 1734.7M125.5 1698.8Q110.2 1704.8 94.1 1708.6M125.5 1698.8Q136.8 1708.7 145.9 1720.5M145.5 1734.7Q146.1 1727.6 145.9 1720.5M281.7 1771.2Q271.3 1768.8 260.8 1767.6M281.7 1771.2Q297.2 1754.1 302.5 1731.7M302.5 1731.7Q292.8 1717.5 280.2 1706M280.2 1706Q270.6 1702 260.3 1703.5M260.3 1703.5Q252.2 1706.4 246.2 1712.6M246.2 1712.6Q242.4 1718 242.3 1724.6M242.3 1724.6Q249.2 1747.1 260.8 1767.6M412.9 1819Q418 1803.1 429.3 1790.7M374.7 1790.1Q385.7 1781 391.6 1768.1M391.6 1768.1Q407.1 1785 429.3 1790.7M270.9 1854.7Q281.8 1845.5 286.8 1832.1M270.9 1854.7Q252.6 1854.4 234.4 1855.7M240.1 1815Q259.1 1819.1 278.5 1817.9M240.1 1815Q236 1830 226.9 1842.7M278.5 1817.9Q281.1 1825.9 286.8 1832.1M234.4 1855.7Q230.9 1849 226.9 1842.7M298.3 1943.6Q278.5 1901 270.9 1854.7M300.3 1834.5Q293.2 1835.2 286.8 1832.1M218 1921.6Q233.7 1890.6 234.4 1855.7M285.3 1777.6Q284.5 1773.8 281.7 1771.2M285.3 1777.6Q287.2 1798.7 278.5 1817.9M260.8 1767.6Q242.1 1773 226.9 1784.9M226.9 1784.9Q234.3 1799.6 240.1 1815M337.7 1793.1Q337.3 1792.7 337.1 1792.2M337.1 1792.2Q310.2 1788.3 285.3 1777.6M190.6 1835.6Q182.4 1839.5 176.1 1846M190.6 1835.6Q207.9 1843.5 226.9 1842.7M302.5 1731.7Q310.5 1729 318.7 1731.1M280.2 1706Q294.5 1688.7 306.1 1669.6M306.1 1669.6Q326 1677.1 338.7 1694.2M338.7 1694.2Q326.1 1711.2 318.7 1731.1M337.1 1792.2Q335.7 1768.6 339.5 1745.2M339.5 1745.2Q330.8 1735.6 318.7 1731.1M213.8 1530.1Q208.1 1532.3 204.5 1537.3M188.4 1449.2Q171.7 1489.1 155.3 1529.2M204.5 1537.3Q181.2 1525.4 155.3 1529.2M154 1606.2Q156.7 1591.2 163 1577.3M154 1606.2Q158.8 1613.1 159.6 1621.4M177 1628.9Q168.5 1624.6 159.6 1621.4M177 1628.9Q187 1621.3 199.5 1620.5M194.9 1572Q179.5 1577.7 163 1577.3M194.9 1572Q202.7 1580.2 209.4 1589.3M199.5 1620.5Q205.6 1605.2 209.4 1589.3M232.9 1532.8Q242.2 1538.1 248.5 1546.8M194.9 1572Q194.6 1553.2 204.5 1537.3M248.2 1584.9Q228.3 1582.5 209.4 1589.3M248.2 1584.9Q250.8 1578.2 254.9 1572.3M254.9 1572.3Q255.5 1558.6 248.5 1546.8M119 1651.5Q100.6 1654 85.6 1665M119 1651.5Q107.2 1631 98.7 1608.8M60.8 1630.7Q73.9 1618.5 87.7 1607.1M60.8 1630.7Q69.8 1647 79.2 1663.1M79.2 1663.1Q82.3 1664.4 85.6 1665M87.7 1607.1Q93.1 1608.3 98.7 1608.8M125.5 1698.8Q129.9 1684.4 133.1 1669.7M94.1 1708.6Q91.5 1686.5 85.6 1665M133.1 1669.7Q130.6 1659.7 123.2 1652.6M123.2 1652.6Q121.1 1652 119 1651.5M154 1606.2Q134.7 1601.9 115.8 1595.9M115.8 1595.9Q106.3 1601.2 98.7 1608.8M159.6 1621.4Q144 1640 123.2 1652.6M68.6 1574.4Q80.2 1589.5 87.7 1607.1M-4.6 1714.3Q45.1 1701.5 79.2 1663.1M192.5 1712.7Q182.1 1705.2 171.4 1697.9M192.5 1712.7Q204.2 1705.8 215.5 1698.2M209.8 1672Q216.8 1684.3 215.5 1698.2M209.8 1672Q195.9 1670 182.4 1666.4M171.4 1697.9Q171 1688.7 169.8 1679.5M169.8 1679.5Q174.1 1671 182.4 1666.4M145.9 1720.5Q159.5 1710.2 171.4 1697.9M133.1 1669.7Q151 1676.1 169.8 1679.5M177 1628.9Q185 1646.9 182.4 1666.4M194.6 1792.3Q185.1 1786.3 174.8 1781.9M194.6 1792.3Q207.8 1787.5 221.2 1783.2M221.2 1783.2Q219.4 1763.2 213 1744.1M174.8 1781.9Q172.1 1765.4 172.6 1748.7M172.6 1748.7Q183.8 1743.6 193.2 1735.7M193.2 1735.7Q202.4 1741.4 213 1744.1M145 1793.9Q158.1 1783.4 174.8 1781.9M190.6 1835.6Q186.5 1813.4 194.6 1792.3M226.9 1784.9Q224.1 1783.8 221.2 1783.2M242.3 1724.6Q224.8 1730 213 1744.1M145.5 1734.7Q160.2 1739.5 172.6 1748.7M192.5 1712.7Q193.2 1724.2 193.2 1735.7M246.2 1712.6Q231.3 1704.5 215.5 1698.2M305.7 1610Q317.9 1620.4 327.3 1633.3M305.7 1610Q306.9 1596.7 310.4 1583.7M310.4 1583.7Q332.8 1580.1 355.4 1581.9M355.4 1581.9Q358.1 1583.7 360.4 1585.9M360.4 1585.9Q359.4 1599.1 360.1 1612.4M360.1 1612.4Q345 1624.9 327.3 1633.3M306 1668Q315.7 1654.4 327.4 1642.4M306 1668Q305.9 1668.8 306.1 1669.6M353.1 1690.4Q346.5 1694.5 338.7 1694.2M353.1 1690.4Q357.4 1676.7 360.4 1662.8M327.4 1642.4Q342.4 1655.1 360.4 1662.8M353.1 1690.4Q365.1 1697.9 374.9 1708.1M339.5 1745.2Q348.3 1741.4 357.9 1740.8M374.9 1708.1Q363.2 1722.8 357.9 1740.8M391.6 1768.1Q391.2 1766.4 391.4 1764.6M391.4 1764.6Q372.3 1756.1 357.9 1740.8M144.1 1551.4Q145.6 1542.2 148 1533.2M144.1 1551.4Q129.7 1556.2 117 1564.4M148 1533.2Q133.2 1526.3 123.5 1513.2M123.5 1513.2Q111.6 1519.2 98.6 1522.2M98.6 1522.2Q96.1 1538.2 90.3 1553.2M90.3 1553.2Q102.5 1561.7 117 1564.4M163 1577.3Q153 1564.7 144.1 1551.4M155.3 1529.2Q151.2 1530.3 148 1533.2M115.8 1595.9Q113.1 1580 117 1564.4M76.3 1504.3Q88.4 1512.1 98.6 1522.2M77.9 1558.3Q84.4 1556.4 90.3 1553.2M280.2 1621.7Q276 1634.9 278.4 1648.5M280.2 1621.7Q267.2 1615.4 254.6 1608.4M254.6 1608.4Q245 1626 230 1639.3M278.4 1648.5Q266.1 1658.8 250.3 1662.2M250.3 1662.2Q241.8 1656.9 233 1651.9M233 1651.9Q230.3 1645.9 230 1639.3M306 1668Q294.1 1655.5 278.4 1648.5M305.7 1610Q291.7 1613.1 280.2 1621.7M327.3 1633.3Q328.3 1637.8 327.4 1642.4M310.4 1583.7Q306.2 1579.1 303.4 1573.5M248.2 1584.9Q249.1 1597.3 254.6 1608.4M303.4 1573.5Q279.2 1570.7 254.9 1572.3M199.5 1620.5Q212.9 1632.9 230 1639.3M260.3 1703.5Q253.3 1683.3 250.3 1662.2M209.8 1672Q219 1659.2 233 1651.9M406.3 1528.1Q402.2 1531.6 397.4 1533.9M406.3 1528.1Q474.5 1553.9 547.4 1553.3M397.4 1533.9Q402.3 1555 400.9 1576.5M547.4 1553.3Q476.3 1572.7 402.9 1577.9M402.9 1577.9Q401.8 1577.3 400.9 1576.5M321.9 944.4Q359.8 1233.3 367.9 1524.6M367.9 1524.6Q382.9 1528.4 397.4 1533.9M367.9 1524.6Q358.3 1527.6 351.5 1535M351.5 1535Q358.6 1558.1 355.4 1581.9M360.4 1585.9Q379.2 1574.8 400.9 1576.5M330.4 1531.7Q316.9 1537 308.2 1548.6M330.4 1531.7Q322.1 1480.8 291.3 1439.5M308.2 1548.6Q298.8 1534.4 283.1 1528M291.3 1439.5Q289.1 1483.9 283.1 1528M351.5 1535Q341.4 1530.3 330.4 1531.7M303.4 1573.5Q309.2 1561.7 308.2 1548.6M248.5 1546.8Q264.1 1534.3 283.1 1528M385.9 1637Q385.7 1642.7 387.3 1648.3M385.9 1637Q401.2 1624.4 410 1606.7M477.6 1636.8Q445.4 1618.2 410 1606.7M477.6 1636.8Q436.5 1645.1 395.7 1654.5M395.7 1654.5Q391.1 1652 387.3 1648.3M360.1 1612.4Q374.2 1623.4 385.9 1637M360.4 1662.8Q372.6 1653.2 387.3 1648.3M402.9 1577.9Q410.4 1591.3 410 1606.7M405.7 1690.9Q401.4 1698.4 397.9 1706.3M405.7 1690.9Q518.3 1656.5 636 1653.6M397.9 1706.3Q403.1 1721.3 413.6 1733.2M413.6 1733.2Q494.3 1721.2 568.9 1754.4M374.9 1708.1Q386.6 1710.1 397.9 1706.3M395.7 1654.5Q398.4 1673.3 405.7 1690.9M391.4 1764.6Q406.8 1751.9 413.6 1733.2" fill="none" stroke="#5a306e" stroke-width="3.4" opacity="0.55" stroke-linecap="round" transform="translate(-0.5,-0.4)"/><path d="M75.7 1853Q93.3 1864.1 106.4 1880.4M48.8 1524.7Q62.9 1541.9 77.9 1558.3M77.9 1558.3Q73.9 1566.7 68.6 1574.4M75.7 1853Q82.2 1837.2 86.6 1820.7M-11.6 1789.5Q36.2 1809.1 86.6 1820.7M106.4 1880.4Q111.6 1850.7 131.4 1828M131.4 1828Q110.3 1828.9 92.3 1817.7M86.6 1820.7Q89.8 1819.8 92.3 1817.7M122.2 1956.5Q135.1 1898.3 164.9 1846.7M131.4 1828Q133 1827.2 134.7 1827M134.7 1827Q146.7 1841.6 164.9 1846.7M218 1921.6Q196.3 1884.2 176.1 1846M164.9 1846.7Q170.6 1847.6 176.1 1846M382.6 1835.6Q391.7 1849.4 400.4 1863.4M382.6 1835.6Q369.5 1838.3 357 1843.3M357 1843.3Q355.9 1847.4 353.2 1850.7M353.2 1850.7Q361 1886.7 374.8 1920.9M443.1 1854.3Q420.7 1853.8 400.4 1863.4M443.1 1854.3Q428.3 1836.4 412.9 1819M412.9 1819Q401.5 1819 390.5 1822.5M390.5 1822.5Q385.9 1828.6 382.6 1835.6M337.7 1793.1Q355.8 1786.4 374.7 1790.1M337.7 1793.1Q335.4 1799.6 335.3 1806.6M390.5 1822.5Q383.6 1805.8 374.7 1790.1M335.3 1806.6Q348.5 1823.6 357 1843.3M335.3 1806.6Q322 1825.8 300.3 1834.5M300.3 1834.5Q306.9 1849 319.3 1859.1M319.3 1859.1Q336.1 1854.6 353.2 1850.7M213.8 1530.1Q223.2 1532.8 232.9 1532.8M213.8 1530.1Q210.9 1486.6 188.4 1449.2M290.4 1433.6Q254.9 1479.3 232.9 1532.8M48.8 1524.7Q65.3 1518.2 76.3 1504.3M126.8 1772.6Q110.4 1776.4 93.7 1777.9M126.8 1772.6Q132.3 1758.9 132.3 1744M132.3 1744Q109.4 1737.3 86.9 1729.1M86.9 1729.1Q80.6 1749.5 85.7 1770.2M85.7 1770.2Q88.8 1775 93.7 1777.9M92.3 1817.7Q87.9 1797.6 93.7 1777.9M145 1793.9Q143.7 1811.6 134.7 1827M145 1793.9Q134 1784.9 126.8 1772.6M-4.6 1714.3Q38.3 1732.8 84.3 1724.8M84.3 1724.8Q85.7 1726.9 86.9 1729.1M-11.6 1789.5Q37.8 1783.8 85.7 1770.2M84.3 1724.8Q88.2 1716 94.1 1708.6M132.3 1744Q138.9 1739.4 145.5 1734.7M125.5 1698.8Q110.2 1704.8 94.1 1708.6M125.5 1698.8Q136.8 1708.7 145.9 1720.5M145.5 1734.7Q146.1 1727.6 145.9 1720.5M281.7 1771.2Q271.3 1768.8 260.8 1767.6M281.7 1771.2Q297.2 1754.1 302.5 1731.7M302.5 1731.7Q292.8 1717.5 280.2 1706M280.2 1706Q270.6 1702 260.3 1703.5M260.3 1703.5Q252.2 1706.4 246.2 1712.6M246.2 1712.6Q242.4 1718 242.3 1724.6M242.3 1724.6Q249.2 1747.1 260.8 1767.6M412.9 1819Q418 1803.1 429.3 1790.7M374.7 1790.1Q385.7 1781 391.6 1768.1M391.6 1768.1Q407.1 1785 429.3 1790.7M270.9 1854.7Q281.8 1845.5 286.8 1832.1M270.9 1854.7Q252.6 1854.4 234.4 1855.7M240.1 1815Q259.1 1819.1 278.5 1817.9M240.1 1815Q236 1830 226.9 1842.7M278.5 1817.9Q281.1 1825.9 286.8 1832.1M234.4 1855.7Q230.9 1849 226.9 1842.7M298.3 1943.6Q278.5 1901 270.9 1854.7M300.3 1834.5Q293.2 1835.2 286.8 1832.1M218 1921.6Q233.7 1890.6 234.4 1855.7M285.3 1777.6Q284.5 1773.8 281.7 1771.2M285.3 1777.6Q287.2 1798.7 278.5 1817.9M260.8 1767.6Q242.1 1773 226.9 1784.9M226.9 1784.9Q234.3 1799.6 240.1 1815M337.7 1793.1Q337.3 1792.7 337.1 1792.2M337.1 1792.2Q310.2 1788.3 285.3 1777.6M190.6 1835.6Q182.4 1839.5 176.1 1846M190.6 1835.6Q207.9 1843.5 226.9 1842.7M302.5 1731.7Q310.5 1729 318.7 1731.1M280.2 1706Q294.5 1688.7 306.1 1669.6M306.1 1669.6Q326 1677.1 338.7 1694.2M338.7 1694.2Q326.1 1711.2 318.7 1731.1M337.1 1792.2Q335.7 1768.6 339.5 1745.2M339.5 1745.2Q330.8 1735.6 318.7 1731.1M213.8 1530.1Q208.1 1532.3 204.5 1537.3M188.4 1449.2Q171.7 1489.1 155.3 1529.2M204.5 1537.3Q181.2 1525.4 155.3 1529.2M154 1606.2Q156.7 1591.2 163 1577.3M154 1606.2Q158.8 1613.1 159.6 1621.4M177 1628.9Q168.5 1624.6 159.6 1621.4M177 1628.9Q187 1621.3 199.5 1620.5M194.9 1572Q179.5 1577.7 163 1577.3M194.9 1572Q202.7 1580.2 209.4 1589.3M199.5 1620.5Q205.6 1605.2 209.4 1589.3M232.9 1532.8Q242.2 1538.1 248.5 1546.8M194.9 1572Q194.6 1553.2 204.5 1537.3M248.2 1584.9Q228.3 1582.5 209.4 1589.3M248.2 1584.9Q250.8 1578.2 254.9 1572.3M254.9 1572.3Q255.5 1558.6 248.5 1546.8M119 1651.5Q100.6 1654 85.6 1665M119 1651.5Q107.2 1631 98.7 1608.8M60.8 1630.7Q73.9 1618.5 87.7 1607.1M60.8 1630.7Q69.8 1647 79.2 1663.1M79.2 1663.1Q82.3 1664.4 85.6 1665M87.7 1607.1Q93.1 1608.3 98.7 1608.8M125.5 1698.8Q129.9 1684.4 133.1 1669.7M94.1 1708.6Q91.5 1686.5 85.6 1665M133.1 1669.7Q130.6 1659.7 123.2 1652.6M123.2 1652.6Q121.1 1652 119 1651.5M154 1606.2Q134.7 1601.9 115.8 1595.9M115.8 1595.9Q106.3 1601.2 98.7 1608.8M159.6 1621.4Q144 1640 123.2 1652.6M68.6 1574.4Q80.2 1589.5 87.7 1607.1M-4.6 1714.3Q45.1 1701.5 79.2 1663.1M192.5 1712.7Q182.1 1705.2 171.4 1697.9M192.5 1712.7Q204.2 1705.8 215.5 1698.2M209.8 1672Q216.8 1684.3 215.5 1698.2M209.8 1672Q195.9 1670 182.4 1666.4M171.4 1697.9Q171 1688.7 169.8 1679.5M169.8 1679.5Q174.1 1671 182.4 1666.4M145.9 1720.5Q159.5 1710.2 171.4 1697.9M133.1 1669.7Q151 1676.1 169.8 1679.5M177 1628.9Q185 1646.9 182.4 1666.4M194.6 1792.3Q185.1 1786.3 174.8 1781.9M194.6 1792.3Q207.8 1787.5 221.2 1783.2M221.2 1783.2Q219.4 1763.2 213 1744.1M174.8 1781.9Q172.1 1765.4 172.6 1748.7M172.6 1748.7Q183.8 1743.6 193.2 1735.7M193.2 1735.7Q202.4 1741.4 213 1744.1M145 1793.9Q158.1 1783.4 174.8 1781.9M190.6 1835.6Q186.5 1813.4 194.6 1792.3M226.9 1784.9Q224.1 1783.8 221.2 1783.2M242.3 1724.6Q224.8 1730 213 1744.1M145.5 1734.7Q160.2 1739.5 172.6 1748.7M192.5 1712.7Q193.2 1724.2 193.2 1735.7M246.2 1712.6Q231.3 1704.5 215.5 1698.2M305.7 1610Q317.9 1620.4 327.3 1633.3M305.7 1610Q306.9 1596.7 310.4 1583.7M310.4 1583.7Q332.8 1580.1 355.4 1581.9M355.4 1581.9Q358.1 1583.7 360.4 1585.9M360.4 1585.9Q359.4 1599.1 360.1 1612.4M360.1 1612.4Q345 1624.9 327.3 1633.3M306 1668Q315.7 1654.4 327.4 1642.4M306 1668Q305.9 1668.8 306.1 1669.6M353.1 1690.4Q346.5 1694.5 338.7 1694.2M353.1 1690.4Q357.4 1676.7 360.4 1662.8M327.4 1642.4Q342.4 1655.1 360.4 1662.8M353.1 1690.4Q365.1 1697.9 374.9 1708.1M339.5 1745.2Q348.3 1741.4 357.9 1740.8M374.9 1708.1Q363.2 1722.8 357.9 1740.8M391.6 1768.1Q391.2 1766.4 391.4 1764.6M391.4 1764.6Q372.3 1756.1 357.9 1740.8M144.1 1551.4Q145.6 1542.2 148 1533.2M144.1 1551.4Q129.7 1556.2 117 1564.4M148 1533.2Q133.2 1526.3 123.5 1513.2M123.5 1513.2Q111.6 1519.2 98.6 1522.2M98.6 1522.2Q96.1 1538.2 90.3 1553.2M90.3 1553.2Q102.5 1561.7 117 1564.4M163 1577.3Q153 1564.7 144.1 1551.4M155.3 1529.2Q151.2 1530.3 148 1533.2M115.8 1595.9Q113.1 1580 117 1564.4M76.3 1504.3Q88.4 1512.1 98.6 1522.2M77.9 1558.3Q84.4 1556.4 90.3 1553.2M280.2 1621.7Q276 1634.9 278.4 1648.5M280.2 1621.7Q267.2 1615.4 254.6 1608.4M254.6 1608.4Q245 1626 230 1639.3M278.4 1648.5Q266.1 1658.8 250.3 1662.2M250.3 1662.2Q241.8 1656.9 233 1651.9M233 1651.9Q230.3 1645.9 230 1639.3M306 1668Q294.1 1655.5 278.4 1648.5M305.7 1610Q291.7 1613.1 280.2 1621.7M327.3 1633.3Q328.3 1637.8 327.4 1642.4M310.4 1583.7Q306.2 1579.1 303.4 1573.5M248.2 1584.9Q249.1 1597.3 254.6 1608.4M303.4 1573.5Q279.2 1570.7 254.9 1572.3M199.5 1620.5Q212.9 1632.9 230 1639.3M260.3 1703.5Q253.3 1683.3 250.3 1662.2M209.8 1672Q219 1659.2 233 1651.9M406.3 1528.1Q402.2 1531.6 397.4 1533.9M406.3 1528.1Q474.5 1553.9 547.4 1553.3M397.4 1533.9Q402.3 1555 400.9 1576.5M547.4 1553.3Q476.3 1572.7 402.9 1577.9M402.9 1577.9Q401.8 1577.3 400.9 1576.5M321.9 944.4Q359.8 1233.3 367.9 1524.6M367.9 1524.6Q382.9 1528.4 397.4 1533.9M367.9 1524.6Q358.3 1527.6 351.5 1535M351.5 1535Q358.6 1558.1 355.4 1581.9M360.4 1585.9Q379.2 1574.8 400.9 1576.5M330.4 1531.7Q316.9 1537 308.2 1548.6M330.4 1531.7Q322.1 1480.8 291.3 1439.5M308.2 1548.6Q298.8 1534.4 283.1 1528M291.3 1439.5Q289.1 1483.9 283.1 1528M351.5 1535Q341.4 1530.3 330.4 1531.7M303.4 1573.5Q309.2 1561.7 308.2 1548.6M248.5 1546.8Q264.1 1534.3 283.1 1528M385.9 1637Q385.7 1642.7 387.3 1648.3M385.9 1637Q401.2 1624.4 410 1606.7M477.6 1636.8Q445.4 1618.2 410 1606.7M477.6 1636.8Q436.5 1645.1 395.7 1654.5M395.7 1654.5Q391.1 1652 387.3 1648.3M360.1 1612.4Q374.2 1623.4 385.9 1637M360.4 1662.8Q372.6 1653.2 387.3 1648.3M402.9 1577.9Q410.4 1591.3 410 1606.7M405.7 1690.9Q401.4 1698.4 397.9 1706.3M405.7 1690.9Q518.3 1656.5 636 1653.6M397.9 1706.3Q403.1 1721.3 413.6 1733.2M413.6 1733.2Q494.3 1721.2 568.9 1754.4M374.9 1708.1Q386.6 1710.1 397.9 1706.3M395.7 1654.5Q398.4 1673.3 405.7 1690.9M391.4 1764.6Q406.8 1751.9 413.6 1733.2" fill="none" stroke="#f2c4cc" stroke-width="1.5" stroke-linecap="round" transform="translate(0.4,0.3)"/><path d="M76.6 1596.5 C81.1 1595.4 94.4 1596.2 103.2 1597.4 C112.1 1598.5 123.1 1601.6 129.8 1603.6 C136.4 1605.5 138.3 1607.2 143.1 1609.1 C147.9 1610.9 152.3 1612.6 158.6 1614.6 C164.8 1616.6 172.6 1618.9 180.7 1621.3 C188.8 1623.7 198.4 1626.6 207.3 1629 C216.1 1631.4 226.4 1632.9 233.8 1635.7 C241.2 1638.4 245.6 1641.7 251.5 1645.6 C257.4 1649.5 262.6 1655.6 269.2 1658.9 C275.9 1662.2 284 1663.3 291.4 1665.5 C298.8 1667.8 306.1 1670.1 313.5 1672.2 C320.9 1674.2 328.6 1675.9 335.7 1677.7 C342.7 1679.6 348.2 1681.2 355.6 1683.2 C363 1685.3 372.9 1688.2 379.9 1689.9 C386.9 1691.5 391.7 1692.8 397.6 1693.2 C403.5 1693.6 412.4 1683.8 415.4 1692.1 C418.3 1700.4 417.6 1738.2 415.4 1743 C413.1 1747.8 406.5 1726.4 402.1 1720.9 C397.6 1715.3 393.2 1712.8 388.8 1709.8 C384.4 1706.9 381 1705 375.5 1703.2 C370 1701.3 362.2 1700.6 355.6 1698.7 C348.9 1696.9 342.7 1694.3 335.7 1692.1 C328.6 1689.9 320.9 1687.7 313.5 1685.5 C306.1 1683.2 297.3 1680.7 291.4 1678.8 C285.5 1677 282.9 1675.9 278.1 1674.4 C273.3 1672.9 267.8 1671.1 262.6 1670 C257.4 1668.9 251.2 1669.6 247.1 1667.8 C243 1665.9 241.9 1662.2 238.2 1658.9 C234.6 1655.6 230.9 1651.1 225 1647.8 C219.1 1644.5 210.2 1641.9 202.8 1639 C195.4 1636 188.1 1633.1 180.7 1630.1 C173.3 1627.2 165.2 1623.8 158.6 1621.3 C151.9 1618.7 145.6 1616.6 140.8 1614.6 C136 1612.6 134.2 1610.6 129.8 1609.1 C125.3 1607.6 120.5 1606.7 114.3 1605.8 C108 1604.8 98.4 1603.9 92.1 1603.6 C85.9 1603.2 79.2 1604.7 76.6 1603.6 C74.1 1602.4 72.2 1597.5 76.6 1596.5Z" fill="#a9dbd6" stroke="#3a5a8a" stroke-width="2.8" opacity="0.55"/><path d="M76.6 1596.5 C81.1 1595.4 94.4 1596.2 103.2 1597.4 C112.1 1598.5 123.1 1601.6 129.8 1603.6 C136.4 1605.5 138.3 1607.2 143.1 1609.1 C147.9 1610.9 152.3 1612.6 158.6 1614.6 C164.8 1616.6 172.6 1618.9 180.7 1621.3 C188.8 1623.7 198.4 1626.6 207.3 1629 C216.1 1631.4 226.4 1632.9 233.8 1635.7 C241.2 1638.4 245.6 1641.7 251.5 1645.6 C257.4 1649.5 262.6 1655.6 269.2 1658.9 C275.9 1662.2 284 1663.3 291.4 1665.5 C298.8 1667.8 306.1 1670.1 313.5 1672.2 C320.9 1674.2 328.6 1675.9 335.7 1677.7 C342.7 1679.6 348.2 1681.2 355.6 1683.2 C363 1685.3 372.9 1688.2 379.9 1689.9 C386.9 1691.5 391.7 1692.8 397.6 1693.2 C403.5 1693.6 412.4 1683.8 415.4 1692.1 C418.3 1700.4 417.6 1738.2 415.4 1743 C413.1 1747.8 406.5 1726.4 402.1 1720.9 C397.6 1715.3 393.2 1712.8 388.8 1709.8 C384.4 1706.9 381 1705 375.5 1703.2 C370 1701.3 362.2 1700.6 355.6 1698.7 C348.9 1696.9 342.7 1694.3 335.7 1692.1 C328.6 1689.9 320.9 1687.7 313.5 1685.5 C306.1 1683.2 297.3 1680.7 291.4 1678.8 C285.5 1677 282.9 1675.9 278.1 1674.4 C273.3 1672.9 267.8 1671.1 262.6 1670 C257.4 1668.9 251.2 1669.6 247.1 1667.8 C243 1665.9 241.9 1662.2 238.2 1658.9 C234.6 1655.6 230.9 1651.1 225 1647.8 C219.1 1644.5 210.2 1641.9 202.8 1639 C195.4 1636 188.1 1633.1 180.7 1630.1 C173.3 1627.2 165.2 1623.8 158.6 1621.3 C151.9 1618.7 145.6 1616.6 140.8 1614.6 C136 1612.6 134.2 1610.6 129.8 1609.1 C125.3 1607.6 120.5 1606.7 114.3 1605.8 C108 1604.8 98.4 1603.9 92.1 1603.6 C85.9 1603.2 79.2 1604.7 76.6 1603.6 C74.1 1602.4 72.2 1597.5 76.6 1596.5Z" fill="#a9dbd6" stroke="#eef6f2" stroke-width="1.2"/><path d="M415.4 1541.6 C411.3 1540.8 397.6 1548.9 391 1552.6 C384.4 1556.3 381 1559.8 375.5 1563.7 C370 1567.6 363 1572.2 357.8 1575.9 C352.6 1579.6 348.9 1582.3 344.5 1585.8 C340.1 1589.3 334.5 1593.8 331.2 1596.9 C327.9 1600 325.1 1602.7 324.6 1604.7 C324 1606.6 326.1 1608.6 327.9 1608.4 C329.8 1608.2 332.1 1606 335.7 1603.6 C339.2 1601.1 344.5 1596.9 348.9 1593.6 C353.4 1590.3 357.4 1586.8 362.2 1583.6 C367 1580.5 372.6 1577.7 377.7 1574.8 C382.9 1571.8 386.9 1568.9 393.2 1565.9 C399.5 1563 411.7 1561.1 415.4 1557.1 C419 1553 419.4 1542.3 415.4 1541.6Z" fill="#a9dbd6" stroke="#3a5a8a" stroke-width="2.8" opacity="0.55"/><path d="M415.4 1541.6 C411.3 1540.8 397.6 1548.9 391 1552.6 C384.4 1556.3 381 1559.8 375.5 1563.7 C370 1567.6 363 1572.2 357.8 1575.9 C352.6 1579.6 348.9 1582.3 344.5 1585.8 C340.1 1589.3 334.5 1593.8 331.2 1596.9 C327.9 1600 325.1 1602.7 324.6 1604.7 C324 1606.6 326.1 1608.6 327.9 1608.4 C329.8 1608.2 332.1 1606 335.7 1603.6 C339.2 1601.1 344.5 1596.9 348.9 1593.6 C353.4 1590.3 357.4 1586.8 362.2 1583.6 C367 1580.5 372.6 1577.7 377.7 1574.8 C382.9 1571.8 386.9 1568.9 393.2 1565.9 C399.5 1563 411.7 1561.1 415.4 1557.1 C419 1553 419.4 1542.3 415.4 1541.6Z" fill="#a9dbd6" stroke="#eef6f2" stroke-width="1.2"/><path d="M75.5 1688.1 C79 1687 90.1 1694 96.6 1696.5 C103 1699 109.7 1701.6 114.3 1703.2 C118.9 1704.7 125 1704.7 124.2 1705.8 C123.5 1706.9 115.2 1709.8 109.8 1709.8 C104.5 1709.8 97.9 1706.9 92.1 1705.8 C86.4 1704.7 78.3 1706.1 75.5 1703.2 C72.8 1700.2 72 1689.2 75.5 1688.1Z" fill="#a9dbd6" stroke="#3a5a8a" stroke-width="2.8" opacity="0.55"/><path d="M75.5 1688.1 C79 1687 90.1 1694 96.6 1696.5 C103 1699 109.7 1701.6 114.3 1703.2 C118.9 1704.7 125 1704.7 124.2 1705.8 C123.5 1706.9 115.2 1709.8 109.8 1709.8 C104.5 1709.8 97.9 1706.9 92.1 1705.8 C86.4 1704.7 78.3 1706.1 75.5 1703.2 C72.8 1700.2 72 1689.2 75.5 1688.1Z" fill="#a9dbd6" stroke="#eef6f2" stroke-width="1.2"/><path d="M75.5 1543.8 C78.3 1540.7 87.2 1538.6 92.1 1536 C97.1 1533.4 101.9 1530.9 105.4 1528.3 C108.9 1525.7 110 1521.8 113.2 1520.5 C116.3 1519.2 124.8 1518.3 124.2 1520.5 C123.7 1522.7 114.8 1529.9 109.8 1533.8 C104.9 1537.7 100.1 1540.3 94.4 1543.8 C88.6 1547.2 78.7 1554.4 75.5 1554.4 C72.4 1554.4 72.8 1546.8 75.5 1543.8Z" fill="#a9dbd6" stroke="#3a5a8a" stroke-width="2.8" opacity="0.55"/><path d="M75.5 1543.8 C78.3 1540.7 87.2 1538.6 92.1 1536 C97.1 1533.4 101.9 1530.9 105.4 1528.3 C108.9 1525.7 110 1521.8 113.2 1520.5 C116.3 1519.2 124.8 1518.3 124.2 1520.5 C123.7 1522.7 114.8 1529.9 109.8 1533.8 C104.9 1537.7 100.1 1540.3 94.4 1543.8 C88.6 1547.2 78.7 1554.4 75.5 1554.4 C72.4 1554.4 72.8 1546.8 75.5 1543.8Z" fill="#a9dbd6" stroke="#eef6f2" stroke-width="1.2"/><path d="M202.8 1561.9 C206.5 1561.1 217.6 1558.1 225 1557.1 C232.3 1556.1 240.8 1555.6 247.1 1556 C253.4 1556.3 257.4 1558.2 262.6 1559.3 C267.8 1560.4 272.6 1560.8 278.1 1562.6 C283.6 1564.4 290.6 1567.6 295.8 1570.3 C301 1573.1 305.8 1575.9 309.1 1579.2 C312.4 1582.5 313.3 1586 315.7 1590.3 C318.1 1594.5 322.2 1602.3 323.5 1604.7M291.4 1523.4 C290.5 1525.7 287.7 1531.9 285.8 1537.1 C284 1542.4 281.6 1550.6 280.3 1554.8 C279 1559.1 278.5 1561.3 278.1 1562.6M324.6 1605.8 C323.8 1609.1 322 1620.2 320.2 1625.7 C318.3 1631.2 316.8 1634.5 313.5 1639 C310.2 1643.4 303.2 1648.7 300.2 1652.3 C297.3 1655.8 296.5 1658.7 295.8 1660M124.2 1705.8 C131.8 1702.6 156.5 1691.3 169.6 1686.6 C182.7 1681.9 190.3 1680 202.8 1677.7 C215.4 1675.4 237.9 1673.5 244.9 1672.6M123.1 1706.7 C120.9 1708 114.6 1711.5 109.8 1714.2 C105.1 1717 99.5 1720.1 94.4 1723.1 C89.2 1726 81.4 1730.5 78.9 1732" fill="none" stroke="#4a3a7a" stroke-width="3.8" opacity="0.5" stroke-linecap="round" transform="translate(-0.5,-0.4)"/><path d="M202.8 1561.9 C206.5 1561.1 217.6 1558.1 225 1557.1 C232.3 1556.1 240.8 1555.6 247.1 1556 C253.4 1556.3 257.4 1558.2 262.6 1559.3 C267.8 1560.4 272.6 1560.8 278.1 1562.6 C283.6 1564.4 290.6 1567.6 295.8 1570.3 C301 1573.1 305.8 1575.9 309.1 1579.2 C312.4 1582.5 313.3 1586 315.7 1590.3 C318.1 1594.5 322.2 1602.3 323.5 1604.7M291.4 1523.4 C290.5 1525.7 287.7 1531.9 285.8 1537.1 C284 1542.4 281.6 1550.6 280.3 1554.8 C279 1559.1 278.5 1561.3 278.1 1562.6M324.6 1605.8 C323.8 1609.1 322 1620.2 320.2 1625.7 C318.3 1631.2 316.8 1634.5 313.5 1639 C310.2 1643.4 303.2 1648.7 300.2 1652.3 C297.3 1655.8 296.5 1658.7 295.8 1660M124.2 1705.8 C131.8 1702.6 156.5 1691.3 169.6 1686.6 C182.7 1681.9 190.3 1680 202.8 1677.7 C215.4 1675.4 237.9 1673.5 244.9 1672.6M123.1 1706.7 C120.9 1708 114.6 1711.5 109.8 1714.2 C105.1 1717 99.5 1720.1 94.4 1723.1 C89.2 1726 81.4 1730.5 78.9 1732" fill="none" stroke="#e8f4f0" stroke-width="2" stroke-linecap="round" transform="translate(0.4,0.3)"/><path d="M193.9 1570.2A2 1.6 58.3 1 0 196 1573.7A2 1.6 58.3 1 0 193.9 1570.2zM305.6 1548A2.6 1.4 13 1 0 310.7 1549.2A2.6 1.4 13 1 0 305.6 1548zM116.5 1651A2.5 1.1 10.4 1 0 121.5 1652A2.5 1.1 10.4 1 0 116.5 1651zM330 1529.9A1.9 1.2 78.1 1 0 330.8 1533.6A1.9 1.2 78.1 1 0 330 1529.9zM279.5 1618.7A3 1.2 76.4 1 0 280.9 1624.6A3 1.2 76.4 1 0 279.5 1618.7zM160.9 1575.5A2.7 1.8 40.2 1 0 165.1 1579A2.7 1.8 40.2 1 0 160.9 1575.5zM398.5 1703.9A2.4 1.8 103.9 1 0 397.3 1708.6A2.4 1.8 103.9 1 0 398.5 1703.9zM348.5 1534.6A3 1.3 8.4 1 0 354.6 1535.5A3 1.3 8.4 1 0 348.5 1534.6zM393.9 1653.6A2 1.3 26 1 0 397.4 1655.4A2 1.3 26 1 0 393.9 1653.6zM100.4 1607.7A2.1 1.5 146.9 1 0 97 1610A2.1 1.5 146.9 1 0 100.4 1607.7zM303.4 1729.6A2.4 1.5 115 1 0 301.5 1733.8A2.4 1.5 115 1 0 303.4 1729.6zM303.8 1609.6A1.9 1.3 11.3 1 0 307.6 1610.4A1.9 1.3 11.3 1 0 303.8 1609.6zM251.7 1660.2A2.4 1.3 122.5 1 0 249 1664.3A2.4 1.3 122.5 1 0 251.7 1660.2zM406.4 1688.5A2.5 1.3 105.4 1 0 405.1 1693.3A2.5 1.3 105.4 1 0 406.4 1688.5zM157.6 1527.5A2.8 1.3 143 1 0 153.1 1530.9A2.8 1.3 143 1 0 157.6 1527.5zM170.4 1677A2.6 1.7 103.4 1 0 169.2 1682A2.6 1.7 103.4 1 0 170.4 1677zM217 1696.6A2.2 1.8 131.3 1 0 214 1699.9A2.2 1.8 131.3 1 0 217 1696.6zM395.2 1533A2.4 1.6 21.3 1 0 399.7 1534.8A2.4 1.6 21.3 1 0 395.2 1533zM188.3 1834.5A2.5 1.1 27.4 1 0 192.8 1836.8A2.5 1.1 27.4 1 0 188.3 1834.5zM284.5 1525.5A2.9 1.5 120.3 1 0 281.6 1530.6A2.9 1.5 120.3 1 0 284.5 1525.5zM148 1719.7A2.3 1.6 157.6 1 0 143.8 1721.4A2.3 1.6 157.6 1 0 148 1719.7zM301.1 1832A2.6 1.4 107 1 0 299.5 1837A2.6 1.4 107 1 0 301.1 1832zM137.5 1825.5A3.2 1.5 151.2 1 0 131.9 1828.5A3.2 1.5 151.2 1 0 137.5 1825.5zM304.4 1571.8A1.9 1.6 119.5 1 0 302.5 1575.1A1.9 1.6 119.5 1 0 304.4 1571.8zM361.5 1609.5A3.2 1.7 116.5 1 0 358.6 1615.3A3.2 1.7 116.5 1 0 361.5 1609.5zM180.9 1664.6A2.4 1.6 51.2 1 0 183.8 1668.3A2.4 1.6 51.2 1 0 180.9 1664.6zM113.3 1595.7A2.5 1.2 4.1 1 0 118.3 1596A2.5 1.2 4.1 1 0 113.3 1595.7zM190.8 1712.1A1.9 1.7 21.1 1 0 194.3 1713.4A1.9 1.7 21.1 1 0 190.8 1712.1zM276.5 1817.1A2.2 1.4 23.3 1 0 280.5 1818.8A2.2 1.4 23.3 1 0 276.5 1817.1zM118.7 1563.6A1.9 1.4 156.9 1 0 115.2 1565.2A1.9 1.4 156.9 1 0 118.7 1563.6zM221.7 1780.2A3.1 1.7 98.9 1 0 220.8 1786.3A3.1 1.7 98.9 1 0 221.7 1780.2zM280.5 1647.6A2.2 1.4 155.5 1 0 276.4 1649.4A2.2 1.4 155.5 1 0 280.5 1647.6zM211.7 1741.4A3.1 1.8 64.6 1 0 214.3 1746.9A3.1 1.8 64.6 1 0 211.7 1741.4zM355.2 1842.4A2.1 1.3 27.2 1 0 358.9 1844.2A2.1 1.3 27.2 1 0 355.2 1842.4zM169.5 1696.2A2.5 1.5 42 1 0 173.3 1699.6A2.5 1.5 42 1 0 169.5 1696.2zM336.5 1791.8A1.8 1.4 47.3 1 0 338.9 1794.4A1.8 1.4 47.3 1 0 336.5 1791.8zM359.4 1583.5A2.6 1.8 66.5 1 0 361.5 1588.3A2.6 1.8 66.5 1 0 359.4 1583.5zM286.8 1775.5A2.6 1.6 124.3 1 0 283.9 1779.7A2.6 1.6 124.3 1 0 286.8 1775.5zM93.3 1816.1A1.9 1.7 121.7 1 0 91.4 1819.3A1.9 1.7 121.7 1 0 93.3 1816.1zM156.4 1604.3A3.1 1.7 140.4 1 0 151.7 1608.2A3.1 1.7 140.4 1 0 156.4 1604.3zM402.1 1575.7A2.4 1.2 70.6 1 0 403.7 1580.2A2.4 1.2 70.6 1 0 402.1 1575.7zM127.6 1770.9A1.9 1.2 114.2 1 0 126 1774.4A1.9 1.2 114.2 1 0 127.6 1770.9zM82.7 1723.5A2.1 1.4 37.6 1 0 86 1726A2.1 1.4 37.6 1 0 82.7 1723.5zM384.1 1636.7A1.8 1.2 9.5 1 0 387.7 1637.3A1.8 1.2 9.5 1 0 384.1 1636.7zM174.8 1628.1A2.3 1.1 18.3 1 0 179.2 1629.6A2.3 1.1 18.3 1 0 174.8 1628.1zM321.2 1730A2.7 1.2 157.4 1 0 316.3 1732.1A2.7 1.2 157.4 1 0 321.2 1730zM278.6 1704.3A2.3 1.4 45.4 1 0 281.8 1707.6A2.3 1.4 45.4 1 0 278.6 1704.3zM352.6 1580.8A3 1.8 22.1 1 0 358.2 1583.1A3 1.8 22.1 1 0 352.6 1580.8z" fill="#14141e"/><circle cx="248.9" cy="1572.1" r="2.6" fill="#e06a24" opacity="0.85"/><circle cx="270.3" cy="1647.8" r="2.6" fill="#e06a24" opacity="0.85"/><circle cx="139.7" cy="1774.5" r="2.6" fill="#e06a24" opacity="0.85"/><circle cx="267.7" cy="1786.9" r="2.6" fill="#e06a24" opacity="0.85"/><circle cx="190.7" cy="1807.7" r="2.6" fill="#e06a24" opacity="0.85"/></g></g>
<clipPath id="hc4"><rect x="431.6" y="1523.4" width="333.2" height="329.6"/></clipPath><linearGradient id="hg4" x1="0" y1="0" x2="1" y2="1"><stop offset="0" stop-color="#d27494"/><stop offset="0.5" stop-color="#ca6ea0"/><stop offset="1" stop-color="#d27692"/></linearGradient><g clip-path="url(#hc4)"><g filter="url(#hsoft)"><rect x="428.6" y="1520.4" width="339.2" height="335.6" fill="url(#hg4)"/><g filter="url(#hbl)"><circle cx="669" cy="1800.2" r="37.3" fill="#e4806e" opacity="0.3"/><circle cx="496.3" cy="1744.6" r="33.7" fill="#e4806e" opacity="0.3"/><circle cx="700.3" cy="1616.8" r="66.9" fill="#e4806e" opacity="0.3"/><circle cx="578.7" cy="1808.8" r="69.5" fill="#e4806e" opacity="0.3"/><circle cx="441" cy="1579" r="49.7" fill="#c068ac" opacity="0.3"/><circle cx="658.8" cy="1688.1" r="69.8" fill="#e07c78" opacity="0.3"/><circle cx="685" cy="1801.4" r="36.3" fill="#c068ac" opacity="0.3"/><circle cx="751.6" cy="1548" r="56" fill="#e07c78" opacity="0.3"/><circle cx="729.4" cy="1828.2" r="42.6" fill="#e07c78" opacity="0.3"/><circle cx="454.8" cy="1555.4" r="56.6" fill="#e4806e" opacity="0.3"/><circle cx="704.6" cy="1850.4" r="64.4" fill="#c068ac" opacity="0.3"/><circle cx="619" cy="1613.7" r="37.9" fill="#e07c78" opacity="0.3"/></g><rect x="431.6" y="1523.4" width="333.2" height="329.6" filter="url(#htx)" opacity="0.4"/><path d="M512.5 1824.5Q500.1 1808.6 495.2 1789M512.5 1824.5Q494.8 1859.6 460.1 1878.1M495.2 1789Q476.7 1783.5 459.4 1775.1M459.4 1775.1Q433.5 1807 395 1821.1M460.1 1878.1Q417.6 1860.9 395 1821.1M443.1 1724Q453.3 1748.9 459.4 1775.1M443.1 1724Q461.2 1704.9 464.2 1678.8M495.2 1789Q532.7 1763.6 554.5 1723.9M554.5 1723.9Q514.1 1691.8 464.2 1678.8M595.6 1771.6Q597.2 1790.9 590.5 1809M595.6 1771.6Q578 1746.7 558.9 1722.8M512.5 1824.5Q530.6 1829.3 545.9 1840.1M558.9 1722.8Q556.8 1724 554.5 1723.9M545.9 1840.1Q563.3 1817.6 590.5 1809M737.6 1578.2Q721.2 1556 716 1528.9M542.1 1633.5Q548.7 1670.5 576.7 1695.7M542.1 1633.5Q565.7 1612.8 576.1 1583.2M576.1 1583.2Q583.5 1583.9 590.3 1581.1M590.3 1581.1Q600 1625.6 628.8 1660.9M576.7 1695.7Q597.8 1681.2 623.2 1678.1M623.2 1678.1Q624.7 1669.1 628.8 1660.9M462.3 1666Q475.6 1652.1 485.8 1635.8M462.3 1666Q401.7 1623.6 329.9 1605.9M485.8 1635.8Q490.3 1606.8 478.8 1579.7M329.9 1605.9Q396.8 1599.4 448.9 1556.9M448.9 1556.9Q467.6 1563.3 478.8 1579.7M558.9 1722.8Q568.9 1710 576.7 1695.7M464.2 1678.8Q464.1 1672.3 462.3 1666M542.1 1633.5Q514 1634.5 485.8 1635.8M534.3 1555.5Q558.7 1563.9 576.1 1583.2M534.3 1555.5Q506.8 1568.2 478.8 1579.7M746.8 1821.7Q745.2 1795.7 759.3 1773.8M759.3 1773.8Q2948.7 2533.4 5137 1770.9M701.8 2963.6Q871.5 2402.9 712.3 1839M612.2 2064.1Q631.7 1951.9 642.6 1838.6M712.3 1839Q690.6 1832.4 671.9 1819.3M671.9 1819.3Q654.1 1824.1 642.6 1838.6M746.8 1821.7Q729 1829.4 712.3 1839M545.9 1840.1Q544.8 1962.2 612.2 2064.1M590.5 1809Q612.4 1831.1 642.6 1838.6M617.3 1558Q560.8 1430.4 502.7 1303.5M617.3 1558Q623.9 1556.8 630.7 1556.6M630.7 1556.6Q649.6 1538.9 665.5 1518.4M534.3 1555.5Q511.5 1430.3 502.7 1303.5M590.3 1581.1Q600.7 1565.9 617.3 1558M716 1528.9Q689.9 1527.6 665.5 1518.4M448.9 1556.9Q506.8 1403.9 485.9 1241.8M759.3 1773.8Q745.8 1766.3 740.3 1751.9M671.9 1819.3Q664.9 1798.1 673.2 1777.3M740.3 1751.9Q705.4 1761.2 673.2 1777.3M595.6 1771.6Q623.1 1759.9 652.9 1758.3M623.2 1678.1Q638.9 1693.2 655.3 1707.5M655.3 1707.5Q654.7 1732.9 652.9 1758.3M652.9 1758.3Q664.3 1766.5 673.2 1777.3M812.2 1657.9Q766.2 1663.2 736.5 1698.6M812.2 1657.9Q765.1 1628.6 736.8 1580.9M736.8 1580.9Q716.3 1596.2 693.8 1608.4M736.5 1698.6Q733.5 1697.9 731.2 1695.9M731.2 1695.9Q715.2 1655.5 691.1 1619.2M693.8 1608.4Q693.4 1614.1 691.1 1619.2M740.3 1751.9Q735.3 1725.5 736.5 1698.6M737.6 1578.2Q736.9 1579.5 736.8 1580.9M630.7 1556.6Q666 1578 693.8 1608.4M655.3 1707.5Q693.6 1703.5 731.2 1695.9M628.8 1660.9Q666.7 1650.1 691.1 1619.2" fill="none" stroke="#a060b4" stroke-width="2.2" opacity="0.32" stroke-linecap="round"/><path d="M689.5 1523.4 C689.7 1527.5 691.2 1538.5 690.7 1548.2 C690.1 1557.9 688.1 1570.3 686.2 1581.4 C684.4 1592.5 680.7 1603.6 679.6 1614.6 C678.5 1625.7 676.3 1640.4 679.6 1647.8 C682.9 1655.2 696.6 1651.5 699.5 1658.9 C702.5 1666.3 696.9 1681 697.3 1692.1 C697.7 1703.2 702.8 1716.1 701.7 1725.3 C700.6 1734.5 691.8 1738.2 690.7 1747.4 C689.5 1756.7 694.7 1769.6 695.1 1780.7 C695.5 1791.7 692.1 1801.8 692.9 1813.9 C693.6 1825.9 698.4 1846.5 699.5 1853" fill="none" stroke="#3a4a8a" stroke-width="3.4" opacity="0.55" stroke-linecap="round" transform="translate(-0.5,-0.4)"/><path d="M689.5 1523.4 C689.7 1527.5 691.2 1538.5 690.7 1548.2 C690.1 1557.9 688.1 1570.3 686.2 1581.4 C684.4 1592.5 680.7 1603.6 679.6 1614.6 C678.5 1625.7 676.3 1640.4 679.6 1647.8 C682.9 1655.2 696.6 1651.5 699.5 1658.9 C702.5 1666.3 696.9 1681 697.3 1692.1 C697.7 1703.2 702.8 1716.1 701.7 1725.3 C700.6 1734.5 691.8 1738.2 690.7 1747.4 C689.5 1756.7 694.7 1769.6 695.1 1780.7 C695.5 1791.7 692.1 1801.8 692.9 1813.9 C693.6 1825.9 698.4 1846.5 699.5 1853" fill="none" stroke="#e4f4f4" stroke-width="1.3" stroke-linecap="round" transform="translate(0.4,0.3)"/><path d="M443.2 1581.2A3.7 1.3 40.8 1 0 448.8 1586A3.7 1.3 40.8 1 0 443.2 1581.2zM495 1609.5A2.2 1.4 126.9 1 0 492.3 1613.1A2.2 1.4 126.9 1 0 495 1609.5zM507.1 1568.1A2.4 1.7 179.8 1 0 502.3 1568.1A2.4 1.7 179.8 1 0 507.1 1568.1zM566.3 1545.4A2.8 1.6 82.6 1 0 567 1551A2.8 1.6 82.6 1 0 566.3 1545.4zM581.5 1570.6A3.5 1.3 34.6 1 0 587.2 1574.5A3.5 1.3 34.6 1 0 581.5 1570.6zM618.2 1528.6A2.1 1.4 42.2 1 0 621.4 1531.5A2.1 1.4 42.2 1 0 618.2 1528.6zM645.4 1537.7A3.6 1.5 73.4 1 0 647.4 1544.6A3.6 1.5 73.4 1 0 645.4 1537.7zM636.3 1602.7A2.5 1.9 20.5 1 0 641 1604.4A2.5 1.9 20.5 1 0 636.3 1602.7zM605.7 1620.6A3.1 1.5 11.4 1 0 611.8 1621.9A3.1 1.5 11.4 1 0 605.7 1620.6zM586.8 1634A2.7 1.7 119 1 0 584.2 1638.6A2.7 1.7 119 1 0 586.8 1634zM618.7 1639.1A3.2 1.9 89.6 1 0 618.7 1645.5A3.2 1.9 89.6 1 0 618.7 1639.1zM526.3 1668.8A2.3 1.2 104.7 1 0 525.1 1673.3A2.3 1.2 104.7 1 0 526.3 1668.8zM492.1 1678.8A2.9 1.3 170.3 1 0 486.3 1679.8A2.9 1.3 170.3 1 0 492.1 1678.8zM542 1680.1A3.1 1.7 170.3 1 0 536 1681.1A3.1 1.7 170.3 1 0 542 1680.1zM572.4 1677.9A2.6 1.5 158.6 1 0 567.6 1679.8A2.6 1.5 158.6 1 0 572.4 1677.9zM650.7 1673.5A2.3 1.8 158.1 1 0 646.4 1675.3A2.3 1.8 158.1 1 0 650.7 1673.5zM674.3 1653.5A3.2 1.7 17.6 1 0 680.5 1655.4A3.2 1.7 17.6 1 0 674.3 1653.5zM699.6 1655.7A3.5 1.6 171 1 0 692.7 1656.8A3.5 1.6 171 1 0 699.6 1655.7zM686.5 1679.7A2.3 1.6 35.6 1 0 690.4 1682.4A2.3 1.6 35.6 1 0 686.5 1679.7zM625.4 1691A2.2 1.9 91.8 1 0 625.3 1695.4A2.2 1.9 91.8 1 0 625.4 1691zM530.2 1691.1A3.3 1.4 91.3 1 0 530.1 1697.6A3.3 1.4 91.3 1 0 530.2 1691.1zM530.8 1719.4A2.1 1.5 43.9 1 0 533.9 1722.4A2.1 1.5 43.9 1 0 530.8 1719.4zM458.5 1731A2.8 1.5 48 1 0 462.3 1735.1A2.8 1.5 48 1 0 458.5 1731zM649.5 1719.1A3.6 1.3 150.2 1 0 643.3 1722.7A3.6 1.3 150.2 1 0 649.5 1719.1zM575.9 1743A2.4 1.7 71.3 1 0 577.4 1747.5A2.4 1.7 71.3 1 0 575.9 1743zM672 1752.8A2.4 1.8 175.5 1 0 667.2 1753.2A2.4 1.8 175.5 1 0 672 1752.8zM469.1 1754.6A2.1 1.8 54 1 0 471.6 1758A2.1 1.8 54 1 0 469.1 1754.6zM503.6 1776.3A2.4 1.5 61.5 1 0 505.8 1780.5A2.4 1.5 61.5 1 0 503.6 1776.3zM465 1783.2A2.8 1.5 41.7 1 0 469.1 1786.9A2.8 1.5 41.7 1 0 465 1783.2zM627.9 1765.5A3.1 1.4 75.2 1 0 629.5 1771.4A3.1 1.4 75.2 1 0 627.9 1765.5zM613.2 1783.3A2.2 1.3 17.1 1 0 617.5 1784.6A2.2 1.3 17.1 1 0 613.2 1783.3zM611.1 1790.1A2.7 1.8 93.8 1 0 610.8 1795.5A2.7 1.8 93.8 1 0 611.1 1790.1zM570.1 1792.9A3.3 1.9 90.9 1 0 570 1799.4A3.3 1.9 90.9 1 0 570.1 1792.9zM559.1 1814.6A2.1 1.3 11.3 1 0 563.2 1815.4A2.1 1.3 11.3 1 0 559.1 1814.6zM545.7 1822.1A3 1.8 69.5 1 0 547.8 1827.8A3 1.8 69.5 1 0 545.7 1822.1zM475.4 1801.7A3.7 1.2 63.3 1 0 478.7 1808.3A3.7 1.2 63.3 1 0 475.4 1801.7zM443.7 1830.4A2.4 1.9 150.4 1 0 439.5 1832.8A2.4 1.9 150.4 1 0 443.7 1830.4zM498.8 1846.7A3.7 1.8 6 1 0 506.2 1847.5A3.7 1.8 6 1 0 498.8 1846.7zM614 1849.2A3.1 1.3 178.3 1 0 607.9 1849.4A3.1 1.3 178.3 1 0 614 1849.2zM700.1 1711.8A2.8 1.3 174.6 1 0 694.5 1712.3A2.8 1.3 174.6 1 0 700.1 1711.8zM744.7 1715.9A2.9 1.6 109 1 0 742.8 1721.4A2.9 1.6 109 1 0 744.7 1715.9zM759.5 1733.1A2.3 1.6 27.8 1 0 763.5 1735.2A2.3 1.6 27.8 1 0 759.5 1733.1zM714.7 1574.7A2.3 1.5 81.5 1 0 715.3 1579.3A2.3 1.5 81.5 1 0 714.7 1574.7zM737.1 1578.9A3.3 1.6 130.6 1 0 732.8 1583.9A3.3 1.6 130.6 1 0 737.1 1578.9zM723 1531.9A2.7 1.4 70.9 1 0 724.7 1537A2.7 1.4 70.9 1 0 723 1531.9zM685 1587.5A2.8 1.3 35.6 1 0 689.6 1590.8A2.8 1.3 35.6 1 0 685 1587.5zM740.4 1768.2A3.3 1.7 130.5 1 0 736.1 1773.2A3.3 1.7 130.5 1 0 740.4 1768.2zM731.1 1792.6A2.7 1.5 4.1 1 0 736.5 1793A2.7 1.5 4.1 1 0 731.1 1792.6zM755.7 1663.4A3.7 1.8 16.8 1 0 762.8 1665.5A3.7 1.8 16.8 1 0 755.7 1663.4zM752.7 1843.8A3.3 1.4 90.5 1 0 752.6 1850.3A3.3 1.4 90.5 1 0 752.7 1843.8z" fill="#14141e"/><rect x="685.1" y="1802.8" width="54.2" height="4.9" fill="#efe9ec"/><text x="715" y="1837.1" font-size="23" text-anchor="middle" textLength="70.8" lengthAdjust="spacingAndGlyphs" fill="#fff">50 μM</text></g></g></g>
<g id="panel_fgh"><text x="800" y="1077.2" font-size="45" font-weight="bold">f</text>
<path d="M899.2 1379.7V1249.3H950.6V1379.7" fill="none" stroke="#000" stroke-width="1.5" stroke-linejoin="round"/>
<path d="M977.4 1379.7V1264.7H1028.9V1379.7" fill="none" stroke="#00f000" stroke-width="1.5" stroke-linejoin="round"/>
<path d="M1055.4 1379.7V1308.9H1107.2V1379.7" fill="none" stroke="#a82020" stroke-width="1.5" stroke-linejoin="round"/>
<path d="M1133.7 1379.7V1283.3H1185.1V1379.7" fill="none" stroke="#2020e0" stroke-width="1.5" stroke-linejoin="round"/>
<path d="M915.6 1211.6H933.6M924.6 1211.6V1284.6M915.6 1284.6H933.6" fill="none" stroke="#000" stroke-width="1.3"/>
<path d="M900.3 1213.1a4.4 4.4 0 1 0 8.8 0a4.4 4.4 0 1 0 -8.8 0zM904.4 1216.3a4.4 4.4 0 1 0 8.8 0a4.4 4.4 0 1 0 -8.8 0zM912.9 1220.6a4.4 4.4 0 1 0 8.8 0a4.4 4.4 0 1 0 -8.8 0zM915.9 1222.1a4.4 4.4 0 1 0 8.8 0a4.4 4.4 0 1 0 -8.8 0zM920.6 1223.5a4.4 4.4 0 1 0 8.8 0a4.4 4.4 0 1 0 -8.8 0zM924.2 1221.7a4.4 4.4 0 1 0 8.8 0a4.4 4.4 0 1 0 -8.8 0zM929.1 1219.5a4.4 4.4 0 1 0 8.8 0a4.4 4.4 0 1 0 -8.8 0zM932.3 1218.2a4.4 4.4 0 1 0 8.8 0a4.4 4.4 0 1 0 -8.8 0zM936.2 1216.2a4.4 4.4 0 1 0 8.8 0a4.4 4.4 0 1 0 -8.8 0zM940.6 1213.5a4.4 4.4 0 1 0 8.8 0a4.4 4.4 0 1 0 -8.8 0zM899.7 1229.4a4.4 4.4 0 1 0 8.8 0a4.4 4.4 0 1 0 -8.8 0zM904.3 1230.6a4.4 4.4 0 1 0 8.8 0a4.4 4.4 0 1 0 -8.8 0zM908.5 1235a4.4 4.4 0 1 0 8.8 0a4.4 4.4 0 1 0 -8.8 0zM912 1235.9a4.4 4.4 0 1 0 8.8 0a4.4 4.4 0 1 0 -8.8 0zM915.9 1237.1a4.4 4.4 0 1 0 8.8 0a4.4 4.4 0 1 0 -8.8 0zM920.6 1238.1a4.4 4.4 0 1 0 8.8 0a4.4 4.4 0 1 0 -8.8 0zM924.4 1237.7a4.4 4.4 0 1 0 8.8 0a4.4 4.4 0 1 0 -8.8 0zM928.7 1235.8a4.4 4.4 0 1 0 8.8 0a4.4 4.4 0 1 0 -8.8 0zM933.1 1232.9a4.4 4.4 0 1 0 8.8 0a4.4 4.4 0 1 0 -8.8 0zM936.2 1231.8a4.4 4.4 0 1 0 8.8 0a4.4 4.4 0 1 0 -8.8 0zM940.3 1229a4.4 4.4 0 1 0 8.8 0a4.4 4.4 0 1 0 -8.8 0zM900.1 1243.6a4.4 4.4 0 1 0 8.8 0a4.4 4.4 0 1 0 -8.8 0zM908.8 1249.4a4.4 4.4 0 1 0 8.8 0a4.4 4.4 0 1 0 -8.8 0zM912.9 1253.3a4.4 4.4 0 1 0 8.8 0a4.4 4.4 0 1 0 -8.8 0zM916.2 1254.2a4.4 4.4 0 1 0 8.8 0a4.4 4.4 0 1 0 -8.8 0zM920 1255.8a4.4 4.4 0 1 0 8.8 0a4.4 4.4 0 1 0 -8.8 0zM925.1 1253a4.4 4.4 0 1 0 8.8 0a4.4 4.4 0 1 0 -8.8 0zM928.1 1251.9a4.4 4.4 0 1 0 8.8 0a4.4 4.4 0 1 0 -8.8 0zM933.4 1249.7a4.4 4.4 0 1 0 8.8 0a4.4 4.4 0 1 0 -8.8 0zM937 1247.1a4.4 4.4 0 1 0 8.8 0a4.4 4.4 0 1 0 -8.8 0zM940.5 1243.8a4.4 4.4 0 1 0 8.8 0a4.4 4.4 0 1 0 -8.8 0zM900.3 1261.3a4.4 4.4 0 1 0 8.8 0a4.4 4.4 0 1 0 -8.8 0zM903.5 1264.1a4.4 4.4 0 1 0 8.8 0a4.4 4.4 0 1 0 -8.8 0zM908.1 1265a4.4 4.4 0 1 0 8.8 0a4.4 4.4 0 1 0 -8.8 0zM912.7 1267.7a4.4 4.4 0 1 0 8.8 0a4.4 4.4 0 1 0 -8.8 0zM915.8 1270.5a4.4 4.4 0 1 0 8.8 0a4.4 4.4 0 1 0 -8.8 0zM920.5 1271.5a4.4 4.4 0 1 0 8.8 0a4.4 4.4 0 1 0 -8.8 0zM924.9 1270.6a4.4 4.4 0 1 0 8.8 0a4.4 4.4 0 1 0 -8.8 0zM929.1 1266.9a4.4 4.4 0 1 0 8.8 0a4.4 4.4 0 1 0 -8.8 0zM932.3 1266.3a4.4 4.4 0 1 0 8.8 0a4.4 4.4 0 1 0 -8.8 0zM936.8 1264.2a4.4 4.4 0 1 0 8.8 0a4.4 4.4 0 1 0 -8.8 0zM941.6 1260.1a4.4 4.4 0 1 0 8.8 0a4.4 4.4 0 1 0 -8.8 0zM900.3 1275.6a4.4 4.4 0 1 0 8.8 0a4.4 4.4 0 1 0 -8.8 0zM904 1277.7a4.4 4.4 0 1 0 8.8 0a4.4 4.4 0 1 0 -8.8 0zM908.9 1282.1a4.4 4.4 0 1 0 8.8 0a4.4 4.4 0 1 0 -8.8 0zM912.3 1282.9a4.4 4.4 0 1 0 8.8 0a4.4 4.4 0 1 0 -8.8 0zM916.1 1285.7a4.4 4.4 0 1 0 8.8 0a4.4 4.4 0 1 0 -8.8 0zM920.3 1286.8a4.4 4.4 0 1 0 8.8 0a4.4 4.4 0 1 0 -8.8 0zM924.9 1285.4a4.4 4.4 0 1 0 8.8 0a4.4 4.4 0 1 0 -8.8 0zM928.5 1283.7a4.4 4.4 0 1 0 8.8 0a4.4 4.4 0 1 0 -8.8 0zM932.8 1281.7a4.4 4.4 0 1 0 8.8 0a4.4 4.4 0 1 0 -8.8 0zM936.6 1279.5a4.4 4.4 0 1 0 8.8 0a4.4 4.4 0 1 0 -8.8 0zM941.1 1274.6a4.4 4.4 0 1 0 8.8 0a4.4 4.4 0 1 0 -8.8 0zM903.4 1305.2a4.4 4.4 0 1 0 8.8 0a4.4 4.4 0 1 0 -8.8 0zM908.3 1307.6a4.4 4.4 0 1 0 8.8 0a4.4 4.4 0 1 0 -8.8 0zM911.9 1309.7a4.4 4.4 0 1 0 8.8 0a4.4 4.4 0 1 0 -8.8 0zM916.7 1310.7a4.4 4.4 0 1 0 8.8 0a4.4 4.4 0 1 0 -8.8 0zM921 1312.6a4.4 4.4 0 1 0 8.8 0a4.4 4.4 0 1 0 -8.8 0zM925.3 1311.1a4.4 4.4 0 1 0 8.8 0a4.4 4.4 0 1 0 -8.8 0zM928.4 1310.1a4.4 4.4 0 1 0 8.8 0a4.4 4.4 0 1 0 -8.8 0zM933.1 1307.7a4.4 4.4 0 1 0 8.8 0a4.4 4.4 0 1 0 -8.8 0zM937.6 1304.1a4.4 4.4 0 1 0 8.8 0a4.4 4.4 0 1 0 -8.8 0zM920.5 1167.1a4.4 4.4 0 1 0 8.8 0a4.4 4.4 0 1 0 -8.8 0zM904.6 1177.3a4.4 4.4 0 1 0 8.8 0a4.4 4.4 0 1 0 -8.8 0zM912.5 1173.9a4.4 4.4 0 1 0 8.8 0a4.4 4.4 0 1 0 -8.8 0zM927.3 1172.8a4.4 4.4 0 1 0 8.8 0a4.4 4.4 0 1 0 -8.8 0zM936.4 1176.9a4.4 4.4 0 1 0 8.8 0a4.4 4.4 0 1 0 -8.8 0zM910.2 1180.7a4.4 4.4 0 1 0 8.8 0a4.4 4.4 0 1 0 -8.8 0zM917.1 1184.2a4.4 4.4 0 1 0 8.8 0a4.4 4.4 0 1 0 -8.8 0zM923.9 1183a4.4 4.4 0 1 0 8.8 0a4.4 4.4 0 1 0 -8.8 0zM930.7 1179.6a4.4 4.4 0 1 0 8.8 0a4.4 4.4 0 1 0 -8.8 0zM900 1187.6a4.4 4.4 0 1 0 8.8 0a4.4 4.4 0 1 0 -8.8 0zM913.7 1196.7a4.4 4.4 0 1 0 8.8 0a4.4 4.4 0 1 0 -8.8 0zM927.3 1196.7a4.4 4.4 0 1 0 8.8 0a4.4 4.4 0 1 0 -8.8 0zM940.3 1196.7a4.4 4.4 0 1 0 8.8 0a4.4 4.4 0 1 0 -8.8 0zM906.8 1205.8a4.4 4.4 0 1 0 8.8 0a4.4 4.4 0 1 0 -8.8 0zM915.9 1211a4.4 4.4 0 1 0 8.8 0a4.4 4.4 0 1 0 -8.8 0zM923.9 1206.9a4.4 4.4 0 1 0 8.8 0a4.4 4.4 0 1 0 -8.8 0zM933 1204.6a4.4 4.4 0 1 0 8.8 0a4.4 4.4 0 1 0 -8.8 0zM910.2 1287.8a4.4 4.4 0 1 0 8.8 0a4.4 4.4 0 1 0 -8.8 0zM940.3 1286.6a4.4 4.4 0 1 0 8.8 0a4.4 4.4 0 1 0 -8.8 0zM920.5 1295.3a4.4 4.4 0 1 0 8.8 0a4.4 4.4 0 1 0 -8.8 0zM929.6 1293.9a4.4 4.4 0 1 0 8.8 0a4.4 4.4 0 1 0 -8.8 0zM902.3 1300.7a4.4 4.4 0 1 0 8.8 0a4.4 4.4 0 1 0 -8.8 0zM913.7 1300.3a4.4 4.4 0 1 0 8.8 0a4.4 4.4 0 1 0 -8.8 0zM927.3 1300.3a4.4 4.4 0 1 0 8.8 0a4.4 4.4 0 1 0 -8.8 0zM906.8 1325.3a4.4 4.4 0 1 0 8.8 0a4.4 4.4 0 1 0 -8.8 0zM913.7 1320.8a4.4 4.4 0 1 0 8.8 0a4.4 4.4 0 1 0 -8.8 0zM915.9 1326.5a4.4 4.4 0 1 0 8.8 0a4.4 4.4 0 1 0 -8.8 0zM925 1325.8a4.4 4.4 0 1 0 8.8 0a4.4 4.4 0 1 0 -8.8 0zM927.3 1320.8a4.4 4.4 0 1 0 8.8 0a4.4 4.4 0 1 0 -8.8 0zM933 1321.2a4.4 4.4 0 1 0 8.8 0a4.4 4.4 0 1 0 -8.8 0z" fill="#000"/>
<path d="M994.2 1231.9H1012.2M1003.2 1231.9V1298.5M994.2 1298.5H1012.2" fill="none" stroke="#00f000" stroke-width="1.3"/>
<path d="M981.3 1225.7h8.8v8.8h-8.8zM985.6 1227.6h8.8v8.8h-8.8zM990.1 1227.3h8.8v8.8h-8.8zM994 1229.9h8.8v8.8h-8.8zM998.6 1230.6h8.8v8.8h-8.8zM1002.6 1229h8.8v8.8h-8.8zM1011 1226.2h8.8v8.8h-8.8zM1015 1225.2h8.8v8.8h-8.8zM978 1235.1h8.8v8.8h-8.8zM982.5 1235.3h8.8v8.8h-8.8zM985.8 1237.7h8.8v8.8h-8.8zM990.6 1238.9h8.8v8.8h-8.8zM994.4 1239.2h8.8v8.8h-8.8zM998.2 1241h8.8v8.8h-8.8zM1002.9 1240h8.8v8.8h-8.8zM1006.8 1238.8h8.8v8.8h-8.8zM1010.8 1238h8.8v8.8h-8.8zM1015.4 1236.7h8.8v8.8h-8.8zM1019.4 1233.7h8.8v8.8h-8.8zM978 1244.7h8.8v8.8h-8.8zM982.2 1247h8.8v8.8h-8.8zM986 1247.1h8.8v8.8h-8.8zM990.8 1248.8h8.8v8.8h-8.8zM994.8 1250.3h8.8v8.8h-8.8zM999 1250.8h8.8v8.8h-8.8zM1002.2 1251.2h8.8v8.8h-8.8zM1006.3 1249h8.8v8.8h-8.8zM1010.8 1247.6h8.8v8.8h-8.8zM1015.1 1246.9h8.8v8.8h-8.8zM977.6 1255.4h8.8v8.8h-8.8zM981.6 1255.6h8.8v8.8h-8.8zM986.7 1257.2h8.8v8.8h-8.8zM990.1 1259.4h8.8v8.8h-8.8zM994.6 1259.3h8.8v8.8h-8.8zM998.1 1260.9h8.8v8.8h-8.8zM1002.2 1260.2h8.8v8.8h-8.8zM1006.4 1259.6h8.8v8.8h-8.8zM1010 1257.1h8.8v8.8h-8.8zM1015.3 1257h8.8v8.8h-8.8zM1018.2 1255.1h8.8v8.8h-8.8zM978 1264.9h8.8v8.8h-8.8zM982 1267.1h8.8v8.8h-8.8zM985.9 1268.5h8.8v8.8h-8.8zM989.9 1269.8h8.8v8.8h-8.8zM994.7 1270.6h8.8v8.8h-8.8zM998.1 1271.5h8.8v8.8h-8.8zM1002 1270.1h8.8v8.8h-8.8zM1006.6 1268.7h8.8v8.8h-8.8zM1010.8 1268.4h8.8v8.8h-8.8zM1014.4 1266.9h8.8v8.8h-8.8zM1019.1 1263.4h8.8v8.8h-8.8zM978.5 1275.6h8.8v8.8h-8.8zM981.4 1277h8.8v8.8h-8.8zM986.3 1278.8h8.8v8.8h-8.8zM989.7 1278.6h8.8v8.8h-8.8zM993.8 1280.4h8.8v8.8h-8.8zM997.9 1281.1h8.8v8.8h-8.8zM1001.9 1279.9h8.8v8.8h-8.8zM1006 1279.3h8.8v8.8h-8.8zM1011.2 1276.9h8.8v8.8h-8.8zM1014.5 1276.4h8.8v8.8h-8.8zM1019.5 1274.2h8.8v8.8h-8.8zM981.5 1286.5h8.8v8.8h-8.8zM986.6 1287.9h8.8v8.8h-8.8zM989.8 1289.2h8.8v8.8h-8.8zM994.6 1290.2h8.8v8.8h-8.8zM998 1290.6h8.8v8.8h-8.8zM1002 1290.7h8.8v8.8h-8.8zM1006 1289.5h8.8v8.8h-8.8zM1010.2 1288h8.8v8.8h-8.8zM1015.3 1286.2h8.8v8.8h-8.8zM1019.3 1283.4h8.8v8.8h-8.8zM977.3 1293.7h8.8v8.8h-8.8zM982.2 1295.6h8.8v8.8h-8.8zM986.7 1298.2h8.8v8.8h-8.8zM989.7 1299.4h8.8v8.8h-8.8zM993.9 1299.8h8.8v8.8h-8.8zM998.2 1300.6h8.8v8.8h-8.8zM1002.9 1300.6h8.8v8.8h-8.8zM1006.5 1299.9h8.8v8.8h-8.8zM1010.8 1297.9h8.8v8.8h-8.8zM1014.6 1295.3h8.8v8.8h-8.8zM980.5 1304.1h8.8v8.8h-8.8zM985.8 1304h8.8v8.8h-8.8zM990.3 1307.1h8.8v8.8h-8.8zM994 1307.3h8.8v8.8h-8.8zM997.9 1308.8h8.8v8.8h-8.8zM1003.2 1307.4h8.8v8.8h-8.8zM1006.7 1306.1h8.8v8.8h-8.8zM1010.9 1305.1h8.8v8.8h-8.8zM984.9 1171.3h8.8v8.8h-8.8zM998.4 1177h8.8v8.8h-8.8zM1012.3 1175.2h8.8v8.8h-8.8zM978.6 1183.2h8.8v8.8h-8.8zM991.5 1190h8.8v8.8h-8.8zM1005.2 1191.8h8.8v8.8h-8.8zM1018.4 1186.1h8.8v8.8h-8.8zM979 1198h8.8v8.8h-8.8zM988.8 1199.8h8.8v8.8h-8.8zM1018 1199.3h8.8v8.8h-8.8zM1008.2 1205.5h8.8v8.8h-8.8zM998.4 1211h8.8v8.8h-8.8zM998.4 1314.1h8.8v8.8h-8.8zM998.4 1330h8.8v8.8h-8.8z" fill="#000"/>
<path d="M1072.1 1282H1090.1M1081.1 1282V1335.3M1072.1 1335.3H1090.1" fill="none" stroke="#a82020" stroke-width="1.3"/>
<path d="M1064.3 1275.5l4.9 -8.7h-9.9zM1068.8 1277.9l4.9 -8.7h-9.9zM1072.2 1281.4l4.9 -8.7h-9.9zM1077 1284l4.9 -8.7h-9.9zM1080.5 1283.9l4.9 -8.7h-9.9zM1084.4 1283.2l4.9 -8.7h-9.9zM1088.9 1280.5l4.9 -8.7h-9.9zM1092.9 1278.5l4.9 -8.7h-9.9zM1096.8 1273.9l4.9 -8.7h-9.9zM1064.3 1284.8l4.9 -8.7h-9.9zM1068.6 1287l4.9 -8.7h-9.9zM1072.6 1291.1l4.9 -8.7h-9.9zM1076.6 1295l4.9 -8.7h-9.9zM1080.7 1294.5l4.9 -8.7h-9.9zM1085.7 1293.8l4.9 -8.7h-9.9zM1088.9 1290.7l4.9 -8.7h-9.9zM1097.5 1283.9l4.9 -8.7h-9.9zM1060.1 1293.5l4.9 -8.7h-9.9zM1068.1 1300.3l4.9 -8.7h-9.9zM1072.7 1301.8l4.9 -8.7h-9.9zM1076.2 1304.8l4.9 -8.7h-9.9zM1081 1306.7l4.9 -8.7h-9.9zM1084.3 1304.8l4.9 -8.7h-9.9zM1089.2 1302.5l4.9 -8.7h-9.9zM1093.5 1301.3l4.9 -8.7h-9.9zM1097.2 1298.3l4.9 -8.7h-9.9zM1100.8 1294.1l4.9 -8.7h-9.9zM1060.8 1305.7l4.9 -8.7h-9.9zM1064 1307.1l4.9 -8.7h-9.9zM1068 1310.6l4.9 -8.7h-9.9zM1072.3 1312.2l4.9 -8.7h-9.9zM1076.2 1314.5l4.9 -8.7h-9.9zM1080.7 1315.5l4.9 -8.7h-9.9zM1084.7 1315.7l4.9 -8.7h-9.9zM1089.6 1313.6l4.9 -8.7h-9.9zM1093.3 1310.7l4.9 -8.7h-9.9zM1097.5 1309.1l4.9 -8.7h-9.9zM1101.6 1304.5l4.9 -8.7h-9.9zM1060.2 1314.6l4.9 -8.7h-9.9zM1064 1318l4.9 -8.7h-9.9zM1068.3 1320.3l4.9 -8.7h-9.9zM1072.8 1322.6l4.9 -8.7h-9.9zM1076.3 1325.3l4.9 -8.7h-9.9zM1081.5 1327.1l4.9 -8.7h-9.9zM1084.9 1325.3l4.9 -8.7h-9.9zM1088.4 1323.9l4.9 -8.7h-9.9zM1093.5 1320.4l4.9 -8.7h-9.9zM1096.8 1319l4.9 -8.7h-9.9zM1102 1316.1l4.9 -8.7h-9.9zM1060.1 1327.3l4.9 -8.7h-9.9zM1064.4 1329.2l4.9 -8.7h-9.9zM1069.2 1332l4.9 -8.7h-9.9zM1072.8 1333.4l4.9 -8.7h-9.9zM1076.7 1335.2l4.9 -8.7h-9.9zM1080.2 1337.5l4.9 -8.7h-9.9zM1085.5 1335.9l4.9 -8.7h-9.9zM1088.8 1333.6l4.9 -8.7h-9.9zM1093 1332.5l4.9 -8.7h-9.9zM1097.1 1328.7l4.9 -8.7h-9.9zM1101.8 1327.2l4.9 -8.7h-9.9zM1060.2 1338.3l4.9 -8.7h-9.9zM1064.5 1340.5l4.9 -8.7h-9.9zM1068 1344.3l4.9 -8.7h-9.9zM1072.3 1346.4l4.9 -8.7h-9.9zM1077 1348.1l4.9 -8.7h-9.9zM1081.3 1348l4.9 -8.7h-9.9zM1085 1347.5l4.9 -8.7h-9.9zM1088.9 1345.3l4.9 -8.7h-9.9zM1097.1 1341.5l4.9 -8.7h-9.9zM1101.2 1340.2l4.9 -8.7h-9.9zM1074 1232.1l4.9 -8.7h-9.9zM1087.7 1243.5l4.9 -8.7h-9.9zM1100.9 1252.6l4.9 -8.7h-9.9zM1061.5 1257.2l4.9 -8.7h-9.9zM1074 1264l4.9 -8.7h-9.9zM1087.7 1260.6l4.9 -8.7h-9.9zM1100.9 1267.4l4.9 -8.7h-9.9zM1061.5 1267.4l4.9 -8.7h-9.9zM1094.5 1267.9l4.9 -8.7h-9.9zM1068.3 1273.1l4.9 -8.7h-9.9zM1080.9 1276.5l4.9 -8.7h-9.9z" fill="#000"/>
<line x1="1081.1" y1="1282" x2="1081.1" y2="1335.3" stroke="#a82020" stroke-width="1.2" stroke-dasharray="7 5" opacity="0.9"/>
<path d="M1150.4 1251H1168.4M1159.4 1251V1315M1150.4 1315H1168.4" fill="none" stroke="#2020e0" stroke-width="1.3"/>
<path d="M1140.5 1244.6l4.9 8.7h-9.9zM1143.9 1247.5l4.9 8.7h-9.9zM1147.9 1249.7l4.9 8.7h-9.9zM1151.3 1250.4l4.9 8.7h-9.9zM1155.3 1253.3l4.9 8.7h-9.9zM1159.7 1253.7l4.9 8.7h-9.9zM1163 1253.6l4.9 8.7h-9.9zM1167.6 1251.8l4.9 8.7h-9.9zM1171.7 1249.7l4.9 8.7h-9.9zM1175.3 1247.1l4.9 8.7h-9.9zM1178.9 1245l4.9 8.7h-9.9zM1139.6 1256.1l4.9 8.7h-9.9zM1142.4 1258.2l4.9 8.7h-9.9zM1147.3 1261.5l4.9 8.7h-9.9zM1151.4 1262.3l4.9 8.7h-9.9zM1155.6 1264.2l4.9 8.7h-9.9zM1159.3 1266l4.9 8.7h-9.9zM1163.3 1263.6l4.9 8.7h-9.9zM1168.2 1261.8l4.9 8.7h-9.9zM1172.1 1260l4.9 8.7h-9.9zM1175.9 1259.2l4.9 8.7h-9.9zM1180.2 1255.8l4.9 8.7h-9.9zM1139 1267.8l4.9 8.7h-9.9zM1142.7 1269.6l4.9 8.7h-9.9zM1146.7 1270.5l4.9 8.7h-9.9zM1151.3 1273.7l4.9 8.7h-9.9zM1154.9 1275.3l4.9 8.7h-9.9zM1159.7 1276.5l4.9 8.7h-9.9zM1163.5 1275.8l4.9 8.7h-9.9zM1167.4 1274.3l4.9 8.7h-9.9zM1172.3 1270.9l4.9 8.7h-9.9zM1176.3 1269.3l4.9 8.7h-9.9zM1179.5 1266.1l4.9 8.7h-9.9zM1138.5 1278.1l4.9 8.7h-9.9zM1143.4 1280.8l4.9 8.7h-9.9zM1147.5 1283l4.9 8.7h-9.9zM1151.9 1284.7l4.9 8.7h-9.9zM1154.8 1285.1l4.9 8.7h-9.9zM1159 1286.6l4.9 8.7h-9.9zM1163.8 1286.5l4.9 8.7h-9.9zM1167.5 1284.5l4.9 8.7h-9.9zM1171.2 1282.7l4.9 8.7h-9.9zM1176.1 1280.3l4.9 8.7h-9.9zM1180.5 1276.8l4.9 8.7h-9.9zM1139.2 1288.7l4.9 8.7h-9.9zM1143 1291.2l4.9 8.7h-9.9zM1147.7 1293.4l4.9 8.7h-9.9zM1151.2 1295.9l4.9 8.7h-9.9zM1155.4 1296.5l4.9 8.7h-9.9zM1159.9 1297.9l4.9 8.7h-9.9zM1163.4 1296.4l4.9 8.7h-9.9zM1167 1294.9l4.9 8.7h-9.9zM1171.7 1294.7l4.9 8.7h-9.9zM1175.7 1292.5l4.9 8.7h-9.9zM1179.7 1289.9l4.9 8.7h-9.9zM1145.4 1302.5l4.9 8.7h-9.9zM1150.2 1305.6l4.9 8.7h-9.9zM1154.2 1307l4.9 8.7h-9.9zM1159.4 1308.7l4.9 8.7h-9.9zM1163.7 1308.7l4.9 8.7h-9.9zM1168.7 1304.8l4.9 8.7h-9.9zM1173.6 1303.5l4.9 8.7h-9.9zM1178.4 1301.4l4.9 8.7h-9.9zM1139.3 1311.8l4.9 8.7h-9.9zM1144.7 1316.2l4.9 8.7h-9.9zM1150.3 1317.1l4.9 8.7h-9.9zM1154.9 1320l4.9 8.7h-9.9zM1159.8 1320l4.9 8.7h-9.9zM1165 1318.5l4.9 8.7h-9.9zM1168.9 1317.3l4.9 8.7h-9.9zM1174.3 1314.4l4.9 8.7h-9.9zM1178.8 1311.9l4.9 8.7h-9.9zM1140.1 1215.9l4.9 8.7h-9.9zM1149.2 1220.4l4.9 8.7h-9.9zM1159.4 1223.9l4.9 8.7h-9.9zM1169.2 1218.6l4.9 8.7h-9.9zM1178.8 1213.6l4.9 8.7h-9.9zM1145.8 1230l4.9 8.7h-9.9zM1173.1 1231.8l4.9 8.7h-9.9zM1159.4 1238.7l4.9 8.7h-9.9zM1143.5 1326.3l4.9 8.7h-9.9zM1175.4 1327.5l4.9 8.7h-9.9zM1156 1334.3l4.9 8.7h-9.9zM1168.5 1333.2l4.9 8.7h-9.9zM1161.7 1338.8l4.9 8.7h-9.9zM1166.3 1342.3l4.9 8.7h-9.9zM1152.6 1352.1l4.9 8.7h-9.9z" fill="#000"/>
<line x1="1159.4" y1="1251" x2="1159.4" y2="1315" stroke="#2020e0" stroke-width="1.2" stroke-dasharray="7 5" opacity="0.9"/>
<line x1="872.5" y1="1188.7" x2="872.5" y2="1380.4" stroke="#222" stroke-width="1.4"/>
<line x1="866.1" y1="1379.7" x2="1213.5" y2="1379.7" stroke="#222" stroke-width="1.4"/>
<line x1="866.1" y1="1379.7" x2="872.5" y2="1379.7" stroke="#222" stroke-width="1.4"/>
<text x="864.4" y="1385.9" font-size="18.6" text-anchor="end" font-weight="bold" textLength="11" lengthAdjust="spacingAndGlyphs">0</text>
<line x1="866.1" y1="1316.3" x2="872.5" y2="1316.3" stroke="#222" stroke-width="1.4"/>
<text x="864.4" y="1322.5" font-size="18.6" text-anchor="end" font-weight="bold" textLength="45.5" lengthAdjust="spacingAndGlyphs">1000</text>
<line x1="866.1" y1="1252.9" x2="872.5" y2="1252.9" stroke="#222" stroke-width="1.4"/>
<text x="864.4" y="1259.1" font-size="18.6" text-anchor="end" font-weight="bold" textLength="45.5" lengthAdjust="spacingAndGlyphs">2000</text>
<line x1="866.1" y1="1189.4" x2="872.5" y2="1189.4" stroke="#222" stroke-width="1.4"/>
<text x="864.4" y="1195.6" font-size="18.6" text-anchor="end" font-weight="bold" textLength="45.5" lengthAdjust="spacingAndGlyphs">3000</text>
<line x1="924.6" y1="1379.7" x2="924.6" y2="1385.5" stroke="#222" stroke-width="1.4"/>
<line x1="1003.2" y1="1379.7" x2="1003.2" y2="1385.5" stroke="#222" stroke-width="1.4"/>
<line x1="1081.1" y1="1379.7" x2="1081.1" y2="1385.5" stroke="#222" stroke-width="1.4"/>
<line x1="1159.4" y1="1379.7" x2="1159.4" y2="1385.5" stroke="#222" stroke-width="1.4"/>
<path d="M1006.9 1078V1071H1163.2V1078" fill="none" stroke="#000" stroke-width="1.9" stroke-linejoin="round" stroke-linecap="round"/>
<path d="M1098.9 1095.5V1088.2H1163.2V1095.5" fill="none" stroke="#000" stroke-width="1.9" stroke-linejoin="round" stroke-linecap="round"/>
<path d="M923.7 1117.9V1110.9H1080V1117.9" fill="none" stroke="#000" stroke-width="1.9" stroke-linejoin="round" stroke-linecap="round"/>
<path d="M923.4 1139.1V1131.8H998.2V1139.1" fill="none" stroke="#000" stroke-width="1.9" stroke-linejoin="round" stroke-linecap="round"/>
<text x="1086.7" y="1067" font-size="14.5" text-anchor="middle" font-weight="bold" textLength="25" lengthAdjust="spacingAndGlyphs">***</text>
<text x="1131.2" y="1088.8" font-size="14.5" text-anchor="middle" font-weight="bold" textLength="30.8" lengthAdjust="spacingAndGlyphs">****</text>
<text x="1001.1" y="1110.6" font-size="14.5" text-anchor="middle" font-weight="bold" textLength="32.6" lengthAdjust="spacingAndGlyphs">****</text>
<text x="961.3" y="1128.9" font-size="11.4" text-anchor="middle" textLength="16.6" lengthAdjust="spacingAndGlyphs">NS</text>
<text x="809.1" y="1279.1" font-size="17.5" text-anchor="middle" font-weight="bold" textLength="200.8" lengthAdjust="spacingAndGlyphs" transform="rotate(-90 809.1 1279.1)">Cross-sectional area (μm2)</text>
<text font-size="18" text-anchor="end" font-weight="bold" textLength="86" lengthAdjust="spacingAndGlyphs" transform="translate(940.1 1397.2) rotate(-45)" fill="#06061a">CT26 tumor</text><text font-size="18" text-anchor="end" font-weight="bold" textLength="132" lengthAdjust="spacingAndGlyphs" transform="translate(1002.3 1397.2) rotate(-45)" fill="#06061a">Ivosidenib treated</text><text font-size="18" text-anchor="end" font-weight="bold" textLength="86" lengthAdjust="spacingAndGlyphs" transform="translate(1017.9 1410.7) rotate(-45)" fill="#06061a">CT26 tumor</text><text font-size="18" text-anchor="end" font-weight="bold" textLength="86" lengthAdjust="spacingAndGlyphs" transform="translate(1077.4 1394.1) rotate(-45)" fill="#06061a">CT26 tumor</text><text font-size="18" text-anchor="end" font-weight="bold" textLength="139.5" lengthAdjust="spacingAndGlyphs" transform="translate(1091.9 1406.2) rotate(-45)" fill="#06061a">with IDH1-mutation</text><text font-size="18" text-anchor="end" font-weight="bold" textLength="132" lengthAdjust="spacingAndGlyphs" transform="translate(1157.6 1394.1) rotate(-45)" fill="#06061a">Ivosidenib treated</text><text font-size="18" text-anchor="end" font-weight="bold" textLength="86" lengthAdjust="spacingAndGlyphs" transform="translate(1171.4 1406.6) rotate(-45)" fill="#06061a">CT26 tumor</text><text font-size="18" text-anchor="end" font-weight="bold" textLength="139.5" lengthAdjust="spacingAndGlyphs" transform="translate(1185.5 1419.8) rotate(-45)" fill="#06061a">with IDH1-mutation</text><text x="799.6" y="1565.9" font-size="46" font-weight="bold">g</text>
<path d="M926.2 1881.4V1672.9H971.3V1881.4" fill="none" stroke="#000" stroke-width="3.2" stroke-linejoin="round"/>
<path d="M1002.4 1881.4V1672.9H1047.8V1881.4" fill="none" stroke="#10c410" stroke-width="3.2" stroke-linejoin="round"/>
<path d="M1078.7 1881.4V1729.1H1124.3V1881.4" fill="none" stroke="#9c0000" stroke-width="3.2" stroke-linejoin="round"/>
<path d="M1155.2 1881.4V1706.4H1200.6V1881.4" fill="none" stroke="#00008c" stroke-width="3.2" stroke-linejoin="round"/>
<path d="M943 1657.3a5.8 4.6 0 1 0 11.5 0a5.8 4.6 0 1 0 -11.5 0zM951.7 1659.7a5.8 4.6 0 1 0 11.5 0a5.8 4.6 0 1 0 -11.5 0zM933.7 1664.6a5.8 4.6 0 1 0 11.5 0a5.8 4.6 0 1 0 -11.5 0zM925.5 1668.4a5.8 4.6 0 1 0 11.5 0a5.8 4.6 0 1 0 -11.5 0zM933.7 1671.3a5.8 4.6 0 1 0 11.5 0a5.8 4.6 0 1 0 -11.5 0zM943 1674.2a5.8 4.6 0 1 0 11.5 0a5.8 4.6 0 1 0 -11.5 0zM933.7 1676.5a5.8 4.6 0 1 0 11.5 0a5.8 4.6 0 1 0 -11.5 0zM943 1678.6a5.8 4.6 0 1 0 11.5 0a5.8 4.6 0 1 0 -11.5 0zM951.7 1679.4a5.8 4.6 0 1 0 11.5 0a5.8 4.6 0 1 0 -11.5 0zM960.5 1681.5a5.8 4.6 0 1 0 11.5 0a5.8 4.6 0 1 0 -11.5 0z" fill="#000"/>
<path d="M1011.5 1653h13v10.4h-13zM1000.4 1664.6h13v10.4h-13zM1009.2 1666.1h13v10.4h-13zM1018.5 1661.7h13v10.4h-13zM1026.6 1665.5h13v10.4h-13zM1018.5 1668.4h13v10.4h-13zM1026.6 1671.9h13v10.4h-13zM1035.4 1677.7h13v10.4h-13z" fill="#000"/>
<path d="M1089 1723.8l6.5 -10h-13zM1114.6 1727l6.5 -10h-13zM1089 1732.6l6.5 -10h-13zM1114 1745.7l6.5 -10h-13z" fill="#000"/>
<path d="M1185.9 1679l6.5 10h-13zM1169.3 1685.7l6.5 10h-13zM1178 1699.4l6.5 10h-13zM1160.6 1704.3l6.5 10h-13zM1178 1713.9l6.5 10h-13zM1194.6 1715.9l6.5 10h-13z" fill="#000"/>
<path d="M938.6 1656.2H958.9M948.8 1656.2V1672.8M938.6 1672.8H958.9" fill="none" stroke="#000" stroke-width="1.6"/>
<path d="M1013.6 1663.1H1038.1M1025.9 1663.1V1678.6M1013.6 1678.6H1038.1" fill="none" stroke="#10c410" stroke-width="1.9"/>
<path d="M1089.3 1717.8H1113.7M1101.5 1717.8V1736.8M1089.3 1736.8H1113.7" fill="none" stroke="#9c0000" stroke-width="1.9"/>
<path d="M1164.9 1688.8H1190.5M1177.7 1688.8V1719.3M1164.9 1719.3H1190.5" fill="none" stroke="#00008c" stroke-width="1.9"/>
<line x1="898.4" y1="1651.8" x2="898.4" y2="1883.2" stroke="#000" stroke-width="3.6"/>
<line x1="890.6" y1="1881.4" x2="1231.3" y2="1881.4" stroke="#000" stroke-width="3.6"/>
<line x1="890.6" y1="1881.4" x2="898.4" y2="1881.4" stroke="#000" stroke-width="3"/>
<line x1="893.8" y1="1864.5" x2="898.4" y2="1864.5" stroke="#000" stroke-width="3"/>
<line x1="893.8" y1="1847.6" x2="898.4" y2="1847.6" stroke="#000" stroke-width="3"/>
<line x1="893.8" y1="1830.7" x2="898.4" y2="1830.7" stroke="#000" stroke-width="3"/>
<line x1="890.6" y1="1813.8" x2="898.4" y2="1813.8" stroke="#000" stroke-width="3"/>
<line x1="893.8" y1="1796.9" x2="898.4" y2="1796.9" stroke="#000" stroke-width="3"/>
<line x1="893.8" y1="1780" x2="898.4" y2="1780" stroke="#000" stroke-width="3"/>
<line x1="893.8" y1="1763.1" x2="898.4" y2="1763.1" stroke="#000" stroke-width="3"/>
<line x1="890.6" y1="1746.2" x2="898.4" y2="1746.2" stroke="#000" stroke-width="3"/>
<line x1="893.8" y1="1729.3" x2="898.4" y2="1729.3" stroke="#000" stroke-width="3"/>
<line x1="893.8" y1="1712.4" x2="898.4" y2="1712.4" stroke="#000" stroke-width="3"/>
<line x1="893.8" y1="1695.5" x2="898.4" y2="1695.5" stroke="#000" stroke-width="3"/>
<line x1="890.6" y1="1678.6" x2="898.4" y2="1678.6" stroke="#000" stroke-width="3"/>
<line x1="893.8" y1="1661.7" x2="898.4" y2="1661.7" stroke="#000" stroke-width="3"/>
<text x="883.6" y="1887.7" font-size="18.5" text-anchor="end" font-weight="bold" textLength="14" lengthAdjust="spacingAndGlyphs">0</text>
<text x="883.6" y="1820.1" font-size="18.5" text-anchor="end" font-weight="bold" textLength="29" lengthAdjust="spacingAndGlyphs">40</text>
<text x="883.6" y="1752.5" font-size="18.5" text-anchor="end" font-weight="bold" textLength="29" lengthAdjust="spacingAndGlyphs">80</text>
<text x="883.6" y="1684.9" font-size="18.5" text-anchor="end" font-weight="bold" textLength="43.5" lengthAdjust="spacingAndGlyphs">120</text>
<line x1="948.8" y1="1881.4" x2="948.8" y2="1891.3" stroke="#000" stroke-width="3.4"/>
<line x1="1025" y1="1881.4" x2="1025" y2="1891.3" stroke="#000" stroke-width="3.4"/>
<line x1="1101.5" y1="1881.4" x2="1101.5" y2="1891.3" stroke="#000" stroke-width="3.4"/>
<line x1="1177.7" y1="1881.4" x2="1177.7" y2="1891.3" stroke="#000" stroke-width="3.4"/>
<path d="M1022.4 1577.9V1567.4H1177.7V1577.9" fill="none" stroke="#000" stroke-width="4.4" stroke-linejoin="round" stroke-linecap="round"/>
<path d="M1100.9 1597.7V1587.8H1179.2V1597.7" fill="none" stroke="#000" stroke-width="4.4" stroke-linejoin="round" stroke-linecap="round"/>
<path d="M948.8 1618.3V1607.9H1103.8V1618.3" fill="none" stroke="#000" stroke-width="4.4" stroke-linejoin="round" stroke-linecap="round"/>
<path d="M950.2 1644.5V1634.1H1020V1644.5" fill="none" stroke="#000" stroke-width="4.4" stroke-linejoin="round" stroke-linecap="round"/>
<text x="1096.3" y="1568.3" font-size="21" text-anchor="middle" textLength="42.5" lengthAdjust="spacingAndGlyphs">****</text>
<text x="1139.9" y="1588.1" font-size="21" text-anchor="middle" textLength="20.9" lengthAdjust="spacingAndGlyphs">**</text>
<text x="1022.9" y="1607.3" font-size="21" text-anchor="middle" textLength="42.5" lengthAdjust="spacingAndGlyphs">****</text>
<text x="982.8" y="1629.4" font-size="12.6" text-anchor="middle" textLength="23.9" lengthAdjust="spacingAndGlyphs">NS</text>
<text x="824.2" y="1749" font-size="18" text-anchor="middle" font-weight="bold" textLength="252.5" lengthAdjust="spacingAndGlyphs" transform="rotate(-90 824.2 1749)">Muscle Gastrocnemius(mg)</text>
<text font-size="17.6" text-anchor="end" font-weight="bold" textLength="86" lengthAdjust="spacingAndGlyphs" transform="translate(955.3 1907.2) rotate(-45)" fill="#06061a">CT26 tumor</text><text font-size="17.6" text-anchor="end" font-weight="bold" textLength="134" lengthAdjust="spacingAndGlyphs" transform="translate(1016.9 1905.5) rotate(-45)" fill="#06061a">Ivosidenib treated</text><text font-size="17.6" text-anchor="end" font-weight="bold" textLength="86" lengthAdjust="spacingAndGlyphs" transform="translate(1031.5 1918.5) rotate(-45)" fill="#06061a">CT26 tumor</text><text font-size="17.6" text-anchor="end" font-weight="bold" textLength="86" lengthAdjust="spacingAndGlyphs" transform="translate(1092.1 1903) rotate(-45)" fill="#06061a">CT26 tumor</text><text font-size="17.6" text-anchor="end" font-weight="bold" textLength="141.5" lengthAdjust="spacingAndGlyphs" transform="translate(1106.1 1916.4) rotate(-45)" fill="#06061a">with IDH1-mutation</text><text font-size="17.6" text-anchor="end" font-weight="bold" textLength="134" lengthAdjust="spacingAndGlyphs" transform="translate(1171.1 1901.7) rotate(-45)" fill="#06061a">Ivosidenib treated</text><text font-size="17.6" text-anchor="end" font-weight="bold" textLength="86" lengthAdjust="spacingAndGlyphs" transform="translate(1186.4 1914.7) rotate(-45)" fill="#06061a">CT26 tumor</text><text font-size="17.6" text-anchor="end" font-weight="bold" textLength="141.5" lengthAdjust="spacingAndGlyphs" transform="translate(1200.6 1928.3) rotate(-45)" fill="#06061a">with IDH1-mutation</text><text x="1256" y="1217.2" font-size="45" font-weight="bold">h</text>
<path d="M1348.5 1599.1V1567.2H1405.6V1599.1" fill="none" stroke="#000" stroke-width="3.4" stroke-linejoin="round"/>
<path d="M1434.3 1599.1V1571.9H1491.4V1599.1" fill="none" stroke="#92ee60" stroke-width="3.4" stroke-linejoin="round"/>
<path d="M1519.8 1599.1V1426.2H1576.9V1599.1" fill="none" stroke="#6a2a14" stroke-width="3.4" stroke-linejoin="round"/>
<path d="M1605.6 1599.1V1529H1662.4V1599.1" fill="none" stroke="#5030f0" stroke-width="3.4" stroke-linejoin="round"/>
<path d="M1364.7 1559.2H1388.5M1376.6 1559.2V1574.1M1364.7 1574.1H1388.5" fill="none" stroke="#000" stroke-width="1.8"/>
<path d="M1450.8 1566.7H1474.6M1462.7 1566.7V1575.6M1450.8 1575.6H1474.6" fill="none" stroke="#92ee60" stroke-width="1.8"/>
<path d="M1356.7 1558.3a5 5 0 1 0 10 0a5 5 0 1 0 -10 0zM1386.5 1556.2a5 5 0 1 0 10 0a5 5 0 1 0 -10 0zM1371.6 1560.7a5 5 0 1 0 10 0a5 5 0 1 0 -10 0zM1364.1 1568.1a5 5 0 1 0 10 0a5 5 0 1 0 -10 0zM1379 1565.8a5 5 0 1 0 10 0a5 5 0 1 0 -10 0zM1386.5 1570.5a5 5 0 1 0 10 0a5 5 0 1 0 -10 0zM1356.7 1572.6a5 5 0 1 0 10 0a5 5 0 1 0 -10 0zM1371.6 1572.6a5 5 0 1 0 10 0a5 5 0 1 0 -10 0zM1366.5 1578a5 5 0 1 0 10 0a5 5 0 1 0 -10 0zM1376.9 1577.1a5 5 0 1 0 10 0a5 5 0 1 0 -10 0z" fill="#000"/>
<path d="M1436 1560.3h9.8v9.8h-9.8zM1478.9 1563.2h9.8v9.8h-9.8zM1447 1568.3h9.8v9.8h-9.8zM1468.5 1568.3h9.8v9.8h-9.8zM1457.8 1573.1h9.8v9.8h-9.8z" fill="#000"/>
<path d="M1548.5 1387.4l5.9 10.4h-11.8zM1533.3 1413l5.9 10.4h-11.8zM1563.1 1411.5l5.9 10.4h-11.8zM1548.5 1426.1l5.9 10.4h-11.8zM1556.2 1439.8l5.9 10.4h-11.8zM1540.7 1449.9l5.9 10.4h-11.8z" fill="#000"/>
<path d="M1612.2 1513.3l5.9 -10.4h-11.8zM1656 1518.6l5.9 -10.4h-11.8zM1626.2 1521.6l5.9 -10.4h-11.8zM1641.1 1529.1l5.9 -10.4h-11.8zM1612.2 1541.6l5.9 -10.4h-11.8zM1656 1539.5l5.9 -10.4h-11.8zM1641.1 1549l5.9 -10.4h-11.8zM1626.2 1552.9l5.9 -10.4h-11.8z" fill="#000"/>
<path d="M1534 1403.7H1562.3M1548.2 1403.7V1448.4M1534 1448.4H1562.3" fill="none" stroke="#6a2a14" stroke-width="2"/>
<path d="M1619.8 1513.9H1648.1M1634 1513.9V1542.8M1619.8 1542.8H1648.1" fill="none" stroke="#5030f0" stroke-width="2"/>
<line x1="1320" y1="1339" x2="1320" y2="1600.3" stroke="#000" stroke-width="2.4"/>
<line x1="1312.8" y1="1599.1" x2="1692.7" y2="1599.1" stroke="#000" stroke-width="2.6"/>
<line x1="1312.8" y1="1599.1" x2="1320" y2="1599.1" stroke="#000" stroke-width="2.4"/>
<text x="1308.1" y="1605.7" font-size="19.5" text-anchor="end" font-weight="bold" textLength="8.6" lengthAdjust="spacingAndGlyphs">0</text>
<line x1="1312.8" y1="1534.4" x2="1320" y2="1534.4" stroke="#000" stroke-width="2.4"/>
<text x="1308.1" y="1541" font-size="19.5" text-anchor="end" font-weight="bold" textLength="8.6" lengthAdjust="spacingAndGlyphs">2</text>
<line x1="1312.8" y1="1469.7" x2="1320" y2="1469.7" stroke="#000" stroke-width="2.4"/>
<text x="1308.1" y="1476.3" font-size="19.5" text-anchor="end" font-weight="bold" textLength="8.6" lengthAdjust="spacingAndGlyphs">4</text>
<line x1="1312.8" y1="1405" x2="1320" y2="1405" stroke="#000" stroke-width="2.4"/>
<text x="1308.1" y="1411.6" font-size="19.5" text-anchor="end" font-weight="bold" textLength="8.6" lengthAdjust="spacingAndGlyphs">6</text>
<line x1="1312.8" y1="1340.2" x2="1320" y2="1340.2" stroke="#000" stroke-width="2.4"/>
<text x="1308.1" y="1346.8" font-size="19.5" text-anchor="end" font-weight="bold" textLength="8.6" lengthAdjust="spacingAndGlyphs">8</text>
<line x1="1376.6" y1="1599.1" x2="1376.6" y2="1606.3" stroke="#000" stroke-width="2.4"/>
<line x1="1462.7" y1="1599.1" x2="1462.7" y2="1606.3" stroke="#000" stroke-width="2.4"/>
<line x1="1548.2" y1="1599.1" x2="1548.2" y2="1606.3" stroke="#000" stroke-width="2.4"/>
<line x1="1634" y1="1599.1" x2="1634" y2="1606.3" stroke="#000" stroke-width="2.4"/>
<path d="M1458.8 1330.7V1319.4H1644.4V1330.7" fill="none" stroke="#000" stroke-width="3.4" stroke-linejoin="round" stroke-linecap="round"/>
<path d="M1550 1355.4V1344.7H1643.8V1355.4" fill="none" stroke="#000" stroke-width="3.4" stroke-linejoin="round" stroke-linecap="round"/>
<path d="M1360.8 1382.2V1371.5H1547.3V1382.2" fill="none" stroke="#000" stroke-width="3.4" stroke-linejoin="round" stroke-linecap="round"/>
<path d="M1361.7 1417.4V1406.1H1465.1V1417.4" fill="none" stroke="#000" stroke-width="3.4" stroke-linejoin="round" stroke-linecap="round"/>
<text x="1554.1" y="1320.3" font-size="20" text-anchor="middle" textLength="36.3" lengthAdjust="spacingAndGlyphs">****</text>
<text x="1599.4" y="1345.9" font-size="20" text-anchor="middle" textLength="36.3" lengthAdjust="spacingAndGlyphs">****</text>
<text x="1460" y="1372.1" font-size="20" text-anchor="middle" textLength="36.3" lengthAdjust="spacingAndGlyphs">****</text>
<text x="1413.2" y="1397.1" font-size="15.5" text-anchor="middle" textLength="18.5" lengthAdjust="spacingAndGlyphs">NS</text>
<text x="1276.2" y="1465.1" font-size="20.5" text-anchor="middle" font-weight="bold" textLength="251.7" lengthAdjust="spacingAndGlyphs" transform="rotate(-90 1276.2 1465.1)">Serum D2HG(fold changed)</text>
<text font-size="19.5" text-anchor="end" font-weight="bold" textLength="94" lengthAdjust="spacingAndGlyphs" transform="translate(1372.9 1631) rotate(-45)" fill="#06061a">CT26 tumor</text><text font-size="19.5" text-anchor="end" font-weight="bold" textLength="141" lengthAdjust="spacingAndGlyphs" transform="translate(1442 1630.9) rotate(-45)" fill="#06061a">Ivosidenib treated</text><text font-size="19.5" text-anchor="end" font-weight="bold" textLength="94" lengthAdjust="spacingAndGlyphs" transform="translate(1463.8 1640.1) rotate(-45)" fill="#06061a">CT26 tumor</text><text font-size="19.5" text-anchor="end" font-weight="bold" textLength="94" lengthAdjust="spacingAndGlyphs" transform="translate(1536.6 1623.9) rotate(-45)" fill="#06061a">CT26 tumor</text><text font-size="19.5" text-anchor="end" font-weight="bold" textLength="150" lengthAdjust="spacingAndGlyphs" transform="translate(1546.9 1643.4) rotate(-45)" fill="#06061a">with IDH1-mutation</text><text font-size="19.5" text-anchor="end" font-weight="bold" textLength="141" lengthAdjust="spacingAndGlyphs" transform="translate(1620.8 1625.8) rotate(-45)" fill="#06061a">Ivosidenib treated</text><text font-size="19.5" text-anchor="end" font-weight="bold" textLength="94" lengthAdjust="spacingAndGlyphs" transform="translate(1641.8 1635.8) rotate(-45)" fill="#06061a">CT26 tumor</text><text font-size="19.5" text-anchor="end" font-weight="bold" textLength="150" lengthAdjust="spacingAndGlyphs" transform="translate(1652.3 1657.3) rotate(-45)" fill="#06061a">with IDH1-mutation</text></g>
<g id="panel_ijk"><text x="21.5" y="1999.2" font-size="45" font-weight="bold">i</text>
<line x1="33" y1="2071.3" x2="58.1" y2="2071.3" stroke="#000" stroke-width="5.6"/><polygon points="45.5,2066.7 50.1,2071.3 45.5,2075.9 40.9,2071.3" fill="#000"/><text x="72.9" y="2078.1" font-size="18.8" font-weight="bold" textLength="156.7" lengthAdjust="spacingAndGlyphs">GL261 tumor (n = 10)</text>
<line x1="32.3" y1="2103.6" x2="56.9" y2="2103.6" stroke="#9c0000" stroke-width="5.6"/><circle cx="44.6" cy="2103.6" r="5.2" fill="#9c0000"/><text x="72.1" y="2110.4" font-size="18.8" font-weight="bold" textLength="257.3" lengthAdjust="spacingAndGlyphs">GL261 tumor with IDH1-mut(n = 10)</text>
<line x1="34.2" y1="2136.2" x2="59.2" y2="2136.2" stroke="#00ff00" stroke-width="5.6"/><polygon points="46.7,2130.8 52.3,2140.8 41,2140.8" fill="#00ff00"/><text x="72.1" y="2143" font-size="18.8" font-weight="bold" textLength="299.1" lengthAdjust="spacingAndGlyphs" style="white-space:pre">Ivosidenib  treated GL261 tumor (n = 10)</text>
<line x1="34.9" y1="2164.7" x2="59.6" y2="2164.7" stroke="#0000c8" stroke-width="5.6"/><polygon points="47.2,2170.1 52.9,2160.1 41.6,2160.1" fill="#0000c8"/><text x="74.4" y="2171.5" font-size="18.8" font-weight="bold" textLength="400.4" lengthAdjust="spacingAndGlyphs" style="white-space:pre">Ivosidenib  treated GL261 tumor with IDH1-mut(n = 10)</text>
<path d="M428.8 2058.8H440.6V2102.8H428.8M440.6 2081.6H523.7" fill="none" stroke="#a00000" stroke-width="5" stroke-linejoin="round" stroke-linecap="butt"/>
<path d="M459.2 2058.1H470.6V2131.7H459.2M470.6 2104.4H520.7" fill="none" stroke="#00ff00" stroke-width="5" stroke-linejoin="round" stroke-linecap="butt"/>
<path d="M488.8 2093H500.6V2165.8H488.8M500.6 2138.9H522.2" fill="none" stroke="#0000d0" stroke-width="5" stroke-linejoin="round" stroke-linecap="butt"/>
<text x="523.7" y="2087.3" font-size="19" font-weight="bold" textLength="56.2" lengthAdjust="spacingAndGlyphs">p=0.015</text>
<text x="523.7" y="2113.1" font-size="19" font-weight="bold" textLength="56.2" lengthAdjust="spacingAndGlyphs">p=0.565</text>
<text x="523.7" y="2147.2" font-size="19" font-weight="bold" textLength="56.2" lengthAdjust="spacingAndGlyphs">p=0.086</text>
<polyline points="94.9,2211.4 244.8,2211.4 244.8,2233 269.7,2233 269.7,2254.6 294.7,2254.6 294.7,2276.3 311.4,2276.3 311.4,2297.9 319.7,2297.9 319.7,2319.5 336.3,2319.5 336.3,2341.2 353,2341.2 353,2362.8 361.3,2362.8 361.3,2384.4 394.6,2384.4 394.6,2406.1 403,2406.1 403,2427.7" fill="none" stroke="#00ff00" stroke-width="5" stroke-linejoin="round"/><path d="M244.8 2228l5.2 9.2h-10.5zM269.7 2249.6l5.2 9.2h-10.5zM294.7 2271.3l5.2 9.2h-10.5zM311.4 2292.9l5.2 9.2h-10.5zM319.7 2314.5l5.2 9.2h-10.5zM336.3 2336.2l5.2 9.2h-10.5zM353 2357.8l5.2 9.2h-10.5zM361.3 2379.4l5.2 9.2h-10.5zM394.6 2401.1l5.2 9.2h-10.5zM403 2422.7l5.2 9.2h-10.5z" fill="#00ff00"/>
<polyline points="94.9,2211.4 286.4,2211.4 286.4,2235.4 361.3,2235.4 361.3,2259.4 386.3,2259.4 386.3,2283.4 411.3,2283.4 411.3,2307.4 444.6,2307.4 444.6,2355.7 461.2,2355.7 461.2,2379.7 494.5,2379.7" fill="none" stroke="#0000c8" stroke-width="5" stroke-linejoin="round"/><path d="M286.4 2240.4l5.2 -9.2h-10.5zM361.3 2264.4l5.2 -9.2h-10.5zM386.3 2288.4l5.2 -9.2h-10.5zM411.3 2312.4l5.2 -9.2h-10.5zM444.6 2360.7l5.2 -9.2h-10.5zM461.2 2384.7l5.2 -9.2h-10.5zM494.5 2384.7l5.2 -9.2h-10.5z" fill="#0000c8"/>
<polyline points="94.9,2211.4 303,2211.4 303,2235.4 328,2235.4 328,2259.4 344.7,2259.4 344.7,2283.4 361.3,2283.4 361.3,2307.4 378,2307.4 378,2331.7 386.3,2331.7 386.3,2355.7 411.3,2355.7 411.3,2379.7 427.9,2379.7 427.9,2403.7 494.5,2403.7 494.5,2427.7" fill="none" stroke="#9c0000" stroke-width="5" stroke-linejoin="round"/><path d="M298.2 2235.4a4.8 4.8 0 1 0 9.6 0a4.8 4.8 0 1 0 -9.6 0zM323.2 2259.4a4.8 4.8 0 1 0 9.6 0a4.8 4.8 0 1 0 -9.6 0zM339.9 2283.4a4.8 4.8 0 1 0 9.6 0a4.8 4.8 0 1 0 -9.6 0zM356.5 2307.4a4.8 4.8 0 1 0 9.6 0a4.8 4.8 0 1 0 -9.6 0zM373.2 2331.7a4.8 4.8 0 1 0 9.6 0a4.8 4.8 0 1 0 -9.6 0zM381.5 2355.7a4.8 4.8 0 1 0 9.6 0a4.8 4.8 0 1 0 -9.6 0zM406.5 2379.7a4.8 4.8 0 1 0 9.6 0a4.8 4.8 0 1 0 -9.6 0zM423.1 2403.7a4.8 4.8 0 1 0 9.6 0a4.8 4.8 0 1 0 -9.6 0zM489.7 2427.7a4.8 4.8 0 1 0 9.6 0a4.8 4.8 0 1 0 -9.6 0z" fill="#9c0000"/>
<polyline points="94.9,2211.4 269.7,2211.4 269.7,2233 286.4,2233 286.4,2254.6 303,2254.6 303,2276.3 319.7,2276.3 319.7,2319.5 336.3,2319.5 336.3,2341.2 353,2341.2 353,2384.4 361.3,2384.4 361.3,2406.1 378,2406.1 378,2427.7" fill="none" stroke="#000" stroke-width="5" stroke-linejoin="round"/><path d="M269.7 2228.2l4.8 4.8l-4.8 4.8l-4.8 -4.8zM286.4 2249.8l4.8 4.8l-4.8 4.8l-4.8 -4.8zM303 2271.5l4.8 4.8l-4.8 4.8l-4.8 -4.8zM319.7 2314.7l4.8 4.8l-4.8 4.8l-4.8 -4.8zM336.3 2336.4l4.8 4.8l-4.8 4.8l-4.8 -4.8zM353 2379.6l4.8 4.8l-4.8 4.8l-4.8 -4.8zM361.3 2401.3l4.8 4.8l-4.8 4.8l-4.8 -4.8zM378 2422.9l4.8 4.8l-4.8 4.8l-4.8 -4.8z" fill="#000"/>
<line x1="94.9" y1="2188.6" x2="94.9" y2="2429.7" stroke="#000" stroke-width="4"/>
<line x1="92.9" y1="2427.7" x2="512.3" y2="2427.7" stroke="#000" stroke-width="4"/>
<line x1="87.4" y1="2427.7" x2="94.9" y2="2427.7" stroke="#000" stroke-width="3.6"/>
<text x="86.9" y="2434.2" font-size="18.6" text-anchor="end" font-weight="bold" textLength="10.5" lengthAdjust="spacingAndGlyphs">0</text>
<line x1="87.4" y1="2319.5" x2="94.9" y2="2319.5" stroke="#000" stroke-width="3.6"/>
<text x="86.9" y="2326" font-size="18.6" text-anchor="end" font-weight="bold" textLength="21" lengthAdjust="spacingAndGlyphs">50</text>
<line x1="87.4" y1="2211.4" x2="94.9" y2="2211.4" stroke="#000" stroke-width="3.6"/>
<text x="86.9" y="2217.9" font-size="18.6" text-anchor="end" font-weight="bold" textLength="31.5" lengthAdjust="spacingAndGlyphs">100</text>
<line x1="94.9" y1="2427.7" x2="94.9" y2="2435.2" stroke="#000" stroke-width="3.6"/>
<text x="94.9" y="2455.4" font-size="18.6" text-anchor="middle" font-weight="bold">0</text>
<line x1="178.1" y1="2427.7" x2="178.1" y2="2435.2" stroke="#000" stroke-width="3.6"/>
<text x="178.1" y="2455.4" font-size="18.6" text-anchor="middle" font-weight="bold">10</text>
<line x1="261.4" y1="2427.7" x2="261.4" y2="2435.2" stroke="#000" stroke-width="3.6"/>
<text x="261.4" y="2455.4" font-size="18.6" text-anchor="middle" font-weight="bold">20</text>
<line x1="344.7" y1="2427.7" x2="344.7" y2="2435.2" stroke="#000" stroke-width="3.6"/>
<text x="344.7" y="2455.4" font-size="18.6" text-anchor="middle" font-weight="bold">30</text>
<line x1="427.9" y1="2427.7" x2="427.9" y2="2435.2" stroke="#000" stroke-width="3.6"/>
<text x="427.9" y="2455.4" font-size="18.6" text-anchor="middle" font-weight="bold">40</text>
<line x1="511.2" y1="2427.7" x2="511.2" y2="2435.2" stroke="#000" stroke-width="3.6"/>
<text x="511.2" y="2455.4" font-size="18.6" text-anchor="middle" font-weight="bold">50</text>
<text x="303.6" y="2484.3" font-size="18.4" text-anchor="middle" font-weight="bold">DPI</text>
<text x="44.8" y="2348.4" font-size="17.5" text-anchor="middle" font-weight="bold" textLength="152.6" lengthAdjust="spacingAndGlyphs" transform="rotate(-90 44.8 2348.4)">Percent survival (%)</text><text x="642.5" y="1999.2" font-size="45" font-weight="bold">j</text>
<line x1="620" y1="2060" x2="646.9" y2="2060" stroke="#000" stroke-width="4"/><polygon points="633.5,2056.4 637.1,2060 633.5,2063.6 629.9,2060" fill="#000"/><text x="661.3" y="2066.7" font-size="18.8" font-weight="bold" textLength="156.7" lengthAdjust="spacingAndGlyphs">GL261 tumor (n = 10)</text><line x1="620" y1="2093" x2="646.9" y2="2093" stroke="#9c0000" stroke-width="4"/><rect x="629.5" y="2089" width="8" height="8" fill="#9c0000"/><text x="661.3" y="2099.7" font-size="18.8" font-weight="bold" textLength="258.1" lengthAdjust="spacingAndGlyphs">GL261 tumor with IDH1-mut(n = 10)</text><line x1="620" y1="2126.4" x2="646.9" y2="2126.4" stroke="#00ee00" stroke-width="4"/><polygon points="633.5,2121.8 638.3,2130.3 628.6,2130.3" fill="#00ee00"/><text x="661.3" y="2133.1" font-size="18.8" font-weight="bold" textLength="299.8" lengthAdjust="spacingAndGlyphs" style="white-space:pre">Ivosidenib  treated GL261 tumor (n = 10)</text><line x1="620" y1="2159.8" x2="646.9" y2="2159.8" stroke="#0000c8" stroke-width="4"/><polygon points="633.5,2164.4 638.3,2155.9 628.6,2155.9" fill="#0000c8"/><text x="661.3" y="2166.5" font-size="18.8" font-weight="bold" textLength="401.5" lengthAdjust="spacingAndGlyphs" style="white-space:pre">Ivosidenib  treated GL261 tumor with IDH1-mut(n = 10)</text>
<path d="M673.1 2273.1V2300.8M669.3 2300.8H676.9M680.8 2264.9V2286.8M677 2286.8H684.6M688.5 2262.8V2299.8M684.7 2299.8H692.3M696.2 2266.9V2285.9M692.4 2285.9H700M703.9 2262.8V2295.4M700.1 2295.4H707.7M711.6 2279.3V2306.4M707.8 2306.4H715.4M719.3 2277.2V2295M715.5 2295H723.1M727 2287.5V2317.9M723.2 2317.9H730.8M734.6 2285.5V2302.2M730.8 2302.2H738.4M742.3 2293.7V2321.2M738.5 2321.2H746.1M750 2297.8V2314.9M746.2 2314.9H753.8M757.7 2293.7V2311.1M753.9 2311.1H761.5M765.4 2299.9V2325.9M761.6 2325.9H769.2M773.1 2293.7V2329.8M769.3 2329.8H776.9M780.8 2299.9V2317.3M777 2317.3H784.6M788.5 2299.9V2319.6M784.7 2319.6H792.3M796.2 2306.1V2335.5M792.4 2335.5H800M803.9 2304V2340.7M800.1 2340.7H807.7M811.6 2306.1V2333.3M807.8 2333.3H815.4M819.2 2322.6V2345M815.4 2345H823M826.9 2326.7V2362.2M823.1 2362.2H830.7M834.6 2318.4V2332.1M830.8 2332.1H838.4M842.3 2316.4V2348M838.5 2348H846.1M850 2328.7V2347.3M846.2 2347.3H853.8M857.7 2324.6V2339.7M853.9 2339.7H861.5M865.4 2328.7V2342.9M861.6 2342.9H869.2M873.1 2328.7V2346.6M869.3 2346.6H876.9M880.8 2328.7V2356.5M877 2356.5H884.6M888.5 2337V2351.6M884.7 2351.6H892.3M896.2 2326.7V2348.8M892.4 2348.8H900M903.9 2334.9V2357.6M900.1 2357.6H907.7M911.5 2347.3V2364.5M907.7 2364.5H915.3M919.2 2341.1V2361.2M915.4 2361.2H923M926.9 2347.3V2358.3M923.1 2358.3H930.7" fill="none" stroke="#222" stroke-width="1.2"/><polyline points="673.1,2273.1 680.8,2264.9 688.5,2262.8 696.2,2266.9 703.9,2262.8 711.6,2279.3 719.3,2277.2 727,2287.5 734.6,2285.5 742.3,2293.7 750,2297.8 757.7,2293.7 765.4,2299.9 773.1,2293.7 780.8,2299.9 788.5,2299.9 796.2,2306.1 803.9,2304 811.6,2306.1 819.2,2322.6 826.9,2326.7 834.6,2318.4 842.3,2316.4 850,2328.7 857.7,2324.6 865.4,2328.7 873.1,2328.7 880.8,2328.7 888.5,2337 896.2,2326.7 903.9,2334.9 911.5,2347.3 919.2,2341.1 926.9,2347.3" fill="none" stroke="#000" stroke-width="4" stroke-linejoin="round"/><path d="M673.1 2269.7l3.4 3.4l-3.4 3.4l-3.4 -3.4zM680.8 2261.5l3.4 3.4l-3.4 3.4l-3.4 -3.4zM688.5 2259.4l3.4 3.4l-3.4 3.4l-3.4 -3.4zM696.2 2263.5l3.4 3.4l-3.4 3.4l-3.4 -3.4zM703.9 2259.4l3.4 3.4l-3.4 3.4l-3.4 -3.4zM711.6 2275.9l3.4 3.4l-3.4 3.4l-3.4 -3.4zM719.3 2273.8l3.4 3.4l-3.4 3.4l-3.4 -3.4zM727 2284.1l3.4 3.4l-3.4 3.4l-3.4 -3.4zM734.6 2282.1l3.4 3.4l-3.4 3.4l-3.4 -3.4zM742.3 2290.3l3.4 3.4l-3.4 3.4l-3.4 -3.4zM750 2294.4l3.4 3.4l-3.4 3.4l-3.4 -3.4zM757.7 2290.3l3.4 3.4l-3.4 3.4l-3.4 -3.4zM765.4 2296.5l3.4 3.4l-3.4 3.4l-3.4 -3.4zM773.1 2290.3l3.4 3.4l-3.4 3.4l-3.4 -3.4zM780.8 2296.5l3.4 3.4l-3.4 3.4l-3.4 -3.4zM788.5 2296.5l3.4 3.4l-3.4 3.4l-3.4 -3.4zM796.2 2302.7l3.4 3.4l-3.4 3.4l-3.4 -3.4zM803.9 2300.6l3.4 3.4l-3.4 3.4l-3.4 -3.4zM811.6 2302.7l3.4 3.4l-3.4 3.4l-3.4 -3.4zM819.2 2319.2l3.4 3.4l-3.4 3.4l-3.4 -3.4zM826.9 2323.3l3.4 3.4l-3.4 3.4l-3.4 -3.4zM834.6 2315l3.4 3.4l-3.4 3.4l-3.4 -3.4zM842.3 2313l3.4 3.4l-3.4 3.4l-3.4 -3.4zM850 2325.3l3.4 3.4l-3.4 3.4l-3.4 -3.4zM857.7 2321.2l3.4 3.4l-3.4 3.4l-3.4 -3.4zM865.4 2325.3l3.4 3.4l-3.4 3.4l-3.4 -3.4zM873.1 2325.3l3.4 3.4l-3.4 3.4l-3.4 -3.4zM880.8 2325.3l3.4 3.4l-3.4 3.4l-3.4 -3.4zM888.5 2333.6l3.4 3.4l-3.4 3.4l-3.4 -3.4zM896.2 2323.3l3.4 3.4l-3.4 3.4l-3.4 -3.4zM903.9 2331.5l3.4 3.4l-3.4 3.4l-3.4 -3.4zM911.5 2343.9l3.4 3.4l-3.4 3.4l-3.4 -3.4zM919.2 2337.7l3.4 3.4l-3.4 3.4l-3.4 -3.4zM926.9 2343.9l3.4 3.4l-3.4 3.4l-3.4 -3.4z" fill="#000"/>
<path d="M673.1 2262.8V2277.1M669.3 2277.1H676.9M680.8 2264.9V2282.3M677 2282.3H684.6M688.5 2252.5V2280.6M684.7 2280.6H692.3M696.2 2260.7V2282.9M692.4 2282.9H700M703.9 2260.7V2280.1M700.1 2280.1H707.7M711.6 2273.1V2298.3M707.8 2298.3H715.4M719.3 2277.2V2299.3M715.5 2299.3H723.1M727 2279.3V2297.8M723.2 2297.8H730.8M734.6 2275.2V2304.1M730.8 2304.1H738.4M742.3 2283.4V2310M738.5 2310H746.1M750 2285.5V2302.3M746.2 2302.3H753.8M757.7 2287.5V2311M753.9 2311H761.5M765.4 2277.2V2299.5M761.6 2299.5H769.2M773.1 2285.5V2314.6M769.3 2314.6H776.9M780.8 2297.8V2323.7M777 2323.7H784.6M788.5 2297.8V2314.6M784.7 2314.6H792.3M796.2 2304V2334.3M792.4 2334.3H800M803.9 2308.1V2321.3M800.1 2321.3H807.7M811.6 2304V2322.8M807.8 2322.8H815.4M819.2 2306.1V2331.1M815.4 2331.1H823M826.9 2302V2315.3M823.1 2315.3H830.7M834.6 2306.1V2325.5M830.8 2325.5H838.4M842.3 2304V2315M838.5 2315H846.1M850 2310.2V2332.4M846.2 2332.4H853.8M857.7 2308.1V2331.9M853.9 2331.9H861.5M865.4 2308.1V2328.2M861.6 2328.2H869.2M873.1 2318.4V2343.5M869.3 2343.5H876.9M880.8 2310.2V2325.2M877 2325.2H884.6M888.5 2314.3V2335.7M884.7 2335.7H892.3M896.2 2320.5V2339.9M892.4 2339.9H900M903.9 2326.7V2345.6M900.1 2345.6H907.7M911.5 2324.6V2341.3M907.7 2341.3H915.3M919.2 2322.6V2345.2M915.4 2345.2H923M926.9 2326.7V2350.7M923.1 2350.7H930.7M934.6 2324.6V2340.9M930.8 2340.9H938.4M942.3 2330.8V2349.8M938.5 2349.8H946.1M950 2328.7V2338.2M946.2 2338.2H953.8M957.7 2334.9V2354M953.9 2354H961.5M965.4 2337V2354.9M961.6 2354.9H969.2M973.1 2330.8V2353.6M969.3 2353.6H976.9M980.8 2334.9V2354.9M977 2354.9H984.6M988.5 2332.9V2344.9M984.7 2344.9H992.3M996.1 2341.1V2354.3M992.3 2354.3H999.9M1003.8 2339V2356M1000 2356H1007.6M1011.5 2334.9V2342.8M1007.7 2342.8H1015.3M1019.2 2341.1V2354.7M1015.4 2354.7H1023M1026.9 2345.2V2354.8M1023.1 2354.8H1030.7M1034.6 2347.3V2356M1030.8 2356H1038.4" fill="none" stroke="#b04040" stroke-width="1.2"/><polyline points="673.1,2262.8 680.8,2264.9 688.5,2252.5 696.2,2260.7 703.9,2260.7 711.6,2273.1 719.3,2277.2 727,2279.3 734.6,2275.2 742.3,2283.4 750,2285.5 757.7,2287.5 765.4,2277.2 773.1,2285.5 780.8,2297.8 788.5,2297.8 796.2,2304 803.9,2308.1 811.6,2304 819.2,2306.1 826.9,2302 834.6,2306.1 842.3,2304 850,2310.2 857.7,2308.1 865.4,2308.1 873.1,2318.4 880.8,2310.2 888.5,2314.3 896.2,2320.5 903.9,2326.7 911.5,2324.6 919.2,2322.6 926.9,2326.7 934.6,2324.6 942.3,2330.8 950,2328.7 957.7,2334.9 965.4,2337 973.1,2330.8 980.8,2334.9 988.5,2332.9 996.1,2341.1 1003.8,2339 1011.5,2334.9 1019.2,2341.1 1026.9,2345.2 1034.6,2347.3" fill="none" stroke="#9c0000" stroke-width="4" stroke-linejoin="round"/><path d="M669.8 2259.5h6.6v6.6h-6.6zM677.5 2261.6h6.6v6.6h-6.6zM685.2 2249.2h6.6v6.6h-6.6zM692.9 2257.4h6.6v6.6h-6.6zM700.6 2257.4h6.6v6.6h-6.6zM708.3 2269.8h6.6v6.6h-6.6zM716 2273.9h6.6v6.6h-6.6zM723.7 2276h6.6v6.6h-6.6zM731.3 2271.9h6.6v6.6h-6.6zM739 2280.1h6.6v6.6h-6.6zM746.7 2282.2h6.6v6.6h-6.6zM754.4 2284.2h6.6v6.6h-6.6zM762.1 2273.9h6.6v6.6h-6.6zM769.8 2282.2h6.6v6.6h-6.6zM777.5 2294.5h6.6v6.6h-6.6zM785.2 2294.5h6.6v6.6h-6.6zM792.9 2300.7h6.6v6.6h-6.6zM800.6 2304.8h6.6v6.6h-6.6zM808.3 2300.7h6.6v6.6h-6.6zM815.9 2302.8h6.6v6.6h-6.6zM823.6 2298.7h6.6v6.6h-6.6zM831.3 2302.8h6.6v6.6h-6.6zM839 2300.7h6.6v6.6h-6.6zM846.7 2306.9h6.6v6.6h-6.6zM854.4 2304.8h6.6v6.6h-6.6zM862.1 2304.8h6.6v6.6h-6.6zM869.8 2315.1h6.6v6.6h-6.6zM877.5 2306.9h6.6v6.6h-6.6zM885.2 2311h6.6v6.6h-6.6zM892.9 2317.2h6.6v6.6h-6.6zM900.6 2323.4h6.6v6.6h-6.6zM908.2 2321.3h6.6v6.6h-6.6zM915.9 2319.3h6.6v6.6h-6.6zM923.6 2323.4h6.6v6.6h-6.6zM931.3 2321.3h6.6v6.6h-6.6zM939 2327.5h6.6v6.6h-6.6zM946.7 2325.4h6.6v6.6h-6.6zM954.4 2331.6h6.6v6.6h-6.6zM962.1 2333.7h6.6v6.6h-6.6zM969.8 2327.5h6.6v6.6h-6.6zM977.5 2331.6h6.6v6.6h-6.6zM985.2 2329.6h6.6v6.6h-6.6zM992.8 2337.8h6.6v6.6h-6.6zM1000.5 2335.7h6.6v6.6h-6.6zM1008.2 2331.6h6.6v6.6h-6.6zM1015.9 2337.8h6.6v6.6h-6.6zM1023.6 2341.9h6.6v6.6h-6.6zM1031.3 2344h6.6v6.6h-6.6z" fill="#9c0000"/>
<path d="M673.1 2271V2256.2M669.3 2256.2H676.9M680.8 2258.7V2227.2M677 2227.2H684.6M688.5 2262.8V2246.7M684.7 2246.7H692.3M696.2 2258.7V2240.1M692.4 2240.1H700M703.9 2260.7V2239.1M700.1 2239.1H707.7M711.6 2275.2V2243M707.8 2243H715.4M719.3 2271V2256.9M715.5 2256.9H723.1M727 2275.2V2253.1M723.2 2253.1H730.8M734.6 2279.3V2255.4M730.8 2255.4H738.4M742.3 2277.2V2246.5M738.5 2246.5H746.1M750 2281.3V2252.5M746.2 2252.5H753.8M757.7 2279.3V2249.9M753.9 2249.9H761.5M765.4 2287.5V2270.5M761.6 2270.5H769.2M773.1 2283.4V2263.9M769.3 2263.9H776.9M780.8 2287.5V2269.4M777 2269.4H784.6M788.5 2289.6V2261.6M784.7 2261.6H792.3M796.2 2291.6V2262.7M792.4 2262.7H800M803.9 2297.8V2284.5M800.1 2284.5H807.7M811.6 2293.7V2280.1M807.8 2280.1H815.4M819.2 2302V2287.6M815.4 2287.6H823M826.9 2318.4V2304.3M823.1 2304.3H830.7M834.6 2320.5V2302.2M830.8 2302.2H838.4M842.3 2324.6V2304.8M838.5 2304.8H846.1M850 2322.6V2308.7M846.2 2308.7H853.8M857.7 2330.8V2321.5M853.9 2321.5H861.5M865.4 2337V2321M861.6 2321H869.2M873.1 2339V2324.2M869.3 2324.2H876.9M880.8 2339V2321.4M877 2321.4H884.6M888.5 2343.2V2319.9M884.7 2319.9H892.3M896.2 2347.3V2328.4M892.4 2328.4H900M903.9 2349.3V2333.5M900.1 2333.5H907.7M911.5 2349.3V2332.3M907.7 2332.3H915.3M919.2 2347.3V2329.8M915.4 2329.8H923M926.9 2355.5V2347.1M923.1 2347.1H930.7M934.6 2355.5V2335.8M930.8 2335.8H938.4" fill="none" stroke="#30c030" stroke-width="1.2"/><polyline points="673.1,2271 680.8,2258.7 688.5,2262.8 696.2,2258.7 703.9,2260.7 711.6,2275.2 719.3,2271 727,2275.2 734.6,2279.3 742.3,2277.2 750,2281.3 757.7,2279.3 765.4,2287.5 773.1,2283.4 780.8,2287.5 788.5,2289.6 796.2,2291.6 803.9,2297.8 811.6,2293.7 819.2,2302 826.9,2318.4 834.6,2320.5 842.3,2324.6 850,2322.6 857.7,2330.8 865.4,2337 873.1,2339 880.8,2339 888.5,2343.2 896.2,2347.3 903.9,2349.3 911.5,2349.3 919.2,2347.3 926.9,2355.5 934.6,2355.5" fill="none" stroke="#00ee00" stroke-width="4" stroke-linejoin="round"/><path d="M673.1 2267l4.2 7.4h-8.4zM680.8 2254.7l4.2 7.4h-8.4zM688.5 2258.8l4.2 7.4h-8.4zM696.2 2254.7l4.2 7.4h-8.4zM703.9 2256.7l4.2 7.4h-8.4zM711.6 2271.2l4.2 7.4h-8.4zM719.3 2267l4.2 7.4h-8.4zM727 2271.2l4.2 7.4h-8.4zM734.6 2275.3l4.2 7.4h-8.4zM742.3 2273.2l4.2 7.4h-8.4zM750 2277.3l4.2 7.4h-8.4zM757.7 2275.3l4.2 7.4h-8.4zM765.4 2283.5l4.2 7.4h-8.4zM773.1 2279.4l4.2 7.4h-8.4zM780.8 2283.5l4.2 7.4h-8.4zM788.5 2285.6l4.2 7.4h-8.4zM796.2 2287.6l4.2 7.4h-8.4zM803.9 2293.8l4.2 7.4h-8.4zM811.6 2289.7l4.2 7.4h-8.4zM819.2 2298l4.2 7.4h-8.4zM826.9 2314.4l4.2 7.4h-8.4zM834.6 2316.5l4.2 7.4h-8.4zM842.3 2320.6l4.2 7.4h-8.4zM850 2318.6l4.2 7.4h-8.4zM857.7 2326.8l4.2 7.4h-8.4zM865.4 2333l4.2 7.4h-8.4zM873.1 2335l4.2 7.4h-8.4zM880.8 2335l4.2 7.4h-8.4zM888.5 2339.2l4.2 7.4h-8.4zM896.2 2343.3l4.2 7.4h-8.4zM903.9 2345.3l4.2 7.4h-8.4zM911.5 2345.3l4.2 7.4h-8.4zM919.2 2343.3l4.2 7.4h-8.4zM926.9 2351.5l4.2 7.4h-8.4zM934.6 2351.5l4.2 7.4h-8.4z" fill="#00ee00"/>
<path d="M673.1 2262.8V2231.8M669.3 2231.8H676.9M680.8 2246.3V2213.5M677 2213.5H684.6M688.5 2252.5V2221.7M684.7 2221.7H692.3M696.2 2250.4V2229.1M692.4 2229.1H700M703.9 2258.7V2237.4M700.1 2237.4H707.7M711.6 2258.7V2244.1M707.8 2244.1H715.4M719.3 2260.7V2234.7M715.5 2234.7H723.1M727 2266.9V2253.5M723.2 2253.5H730.8M734.6 2262.8V2249.4M730.8 2249.4H738.4M742.3 2264.9V2248.6M738.5 2248.6H746.1M750 2264.9V2249.8M746.2 2249.8H753.8M757.7 2264.9V2246.2M753.9 2246.2H761.5M765.4 2266.9V2254.4M761.6 2254.4H769.2M773.1 2269V2257.7M769.3 2257.7H776.9M780.8 2273.1V2258.9M777 2258.9H784.6M788.5 2275.2V2262.1M784.7 2262.1H792.3M796.2 2277.2V2259.1M792.4 2259.1H800M803.9 2279.3V2268M800.1 2268H807.7M811.6 2283.4V2255.8M807.8 2255.8H815.4M819.2 2287.5V2265.2M815.4 2265.2H823M826.9 2291.6V2278.4M823.1 2278.4H830.7M834.6 2289.6V2274.5M830.8 2274.5H838.4M842.3 2293.7V2277.1M838.5 2277.1H846.1M850 2299.9V2283.2M846.2 2283.2H853.8M857.7 2295.8V2283.6M853.9 2283.6H861.5M865.4 2299.9V2275M861.6 2275H869.2M873.1 2308.1V2281M869.3 2281H876.9M880.8 2304V2286.3M877 2286.3H884.6M888.5 2308.1V2290.4M884.7 2290.4H892.3M896.2 2308.1V2297.3M892.4 2297.3H900M903.9 2310.2V2299.2M900.1 2299.2H907.7M911.5 2310.2V2295.4M907.7 2295.4H915.3M919.2 2312.3V2298.9M915.4 2298.9H923M926.9 2310.2V2288M923.1 2288H930.7M934.6 2314.3V2303M930.8 2303H938.4M942.3 2312.3V2303.2M938.5 2303.2H946.1M950 2316.4V2293.2M946.2 2293.2H953.8M957.7 2312.3V2295.8M953.9 2295.8H961.5M965.4 2316.4V2305.9M961.6 2305.9H969.2M973.1 2318.4V2302.3M969.3 2302.3H976.9M980.8 2322.6V2314.1M977 2314.1H984.6M988.5 2324.6V2309.2M984.7 2309.2H992.3M996.1 2318.4V2296.9M992.3 2296.9H999.9M1003.8 2320.5V2300.9M1000 2300.9H1007.6M1011.5 2324.6V2307.6M1007.7 2307.6H1015.3M1019.2 2322.6V2311.6M1015.4 2311.6H1023M1026.9 2328.7V2316.6M1023.1 2316.6H1030.7M1034.6 2326.7V2317.3M1030.8 2317.3H1038.4" fill="none" stroke="#3030d0" stroke-width="1.2"/><polyline points="673.1,2262.8 680.8,2246.3 688.5,2252.5 696.2,2250.4 703.9,2258.7 711.6,2258.7 719.3,2260.7 727,2266.9 734.6,2262.8 742.3,2264.9 750,2264.9 757.7,2264.9 765.4,2266.9 773.1,2269 780.8,2273.1 788.5,2275.2 796.2,2277.2 803.9,2279.3 811.6,2283.4 819.2,2287.5 826.9,2291.6 834.6,2289.6 842.3,2293.7 850,2299.9 857.7,2295.8 865.4,2299.9 873.1,2308.1 880.8,2304 888.5,2308.1 896.2,2308.1 903.9,2310.2 911.5,2310.2 919.2,2312.3 926.9,2310.2 934.6,2314.3 942.3,2312.3 950,2316.4 957.7,2312.3 965.4,2316.4 973.1,2318.4 980.8,2322.6 988.5,2324.6 996.1,2318.4 1003.8,2320.5 1011.5,2324.6 1019.2,2322.6 1026.9,2328.7 1034.6,2326.7" fill="none" stroke="#0000c8" stroke-width="4" stroke-linejoin="round"/><path d="M673.1 2266.8l4.2 -7.4h-8.4zM680.8 2250.3l4.2 -7.4h-8.4zM688.5 2256.5l4.2 -7.4h-8.4zM696.2 2254.4l4.2 -7.4h-8.4zM703.9 2262.7l4.2 -7.4h-8.4zM711.6 2262.7l4.2 -7.4h-8.4zM719.3 2264.7l4.2 -7.4h-8.4zM727 2270.9l4.2 -7.4h-8.4zM734.6 2266.8l4.2 -7.4h-8.4zM742.3 2268.9l4.2 -7.4h-8.4zM750 2268.9l4.2 -7.4h-8.4zM757.7 2268.9l4.2 -7.4h-8.4zM765.4 2270.9l4.2 -7.4h-8.4zM773.1 2273l4.2 -7.4h-8.4zM780.8 2277.1l4.2 -7.4h-8.4zM788.5 2279.2l4.2 -7.4h-8.4zM796.2 2281.2l4.2 -7.4h-8.4zM803.9 2283.3l4.2 -7.4h-8.4zM811.6 2287.4l4.2 -7.4h-8.4zM819.2 2291.5l4.2 -7.4h-8.4zM826.9 2295.6l4.2 -7.4h-8.4zM834.6 2293.6l4.2 -7.4h-8.4zM842.3 2297.7l4.2 -7.4h-8.4zM850 2303.9l4.2 -7.4h-8.4zM857.7 2299.8l4.2 -7.4h-8.4zM865.4 2303.9l4.2 -7.4h-8.4zM873.1 2312.1l4.2 -7.4h-8.4zM880.8 2308l4.2 -7.4h-8.4zM888.5 2312.1l4.2 -7.4h-8.4zM896.2 2312.1l4.2 -7.4h-8.4zM903.9 2314.2l4.2 -7.4h-8.4zM911.5 2314.2l4.2 -7.4h-8.4zM919.2 2316.3l4.2 -7.4h-8.4zM926.9 2314.2l4.2 -7.4h-8.4zM934.6 2318.3l4.2 -7.4h-8.4zM942.3 2316.3l4.2 -7.4h-8.4zM950 2320.4l4.2 -7.4h-8.4zM957.7 2316.3l4.2 -7.4h-8.4zM965.4 2320.4l4.2 -7.4h-8.4zM973.1 2322.4l4.2 -7.4h-8.4zM980.8 2326.6l4.2 -7.4h-8.4zM988.5 2328.6l4.2 -7.4h-8.4zM996.1 2322.4l4.2 -7.4h-8.4zM1003.8 2324.5l4.2 -7.4h-8.4zM1011.5 2328.6l4.2 -7.4h-8.4zM1019.2 2326.6l4.2 -7.4h-8.4zM1026.9 2332.7l4.2 -7.4h-8.4zM1034.6 2330.7l4.2 -7.4h-8.4z" fill="#0000c8"/>
<line x1="668.6" y1="2180.8" x2="668.6" y2="2432.6" stroke="#000" stroke-width="3.8"/>
<line x1="666.7" y1="2430.7" x2="1041.6" y2="2430.7" stroke="#000" stroke-width="3.8"/>
<line x1="657.6" y1="2409.1" x2="668.6" y2="2409.1" stroke="#000" stroke-width="3.2"/>
<line x1="662.1" y1="2388.5" x2="668.6" y2="2388.5" stroke="#000" stroke-width="3.2"/>
<line x1="662.1" y1="2367.9" x2="668.6" y2="2367.9" stroke="#000" stroke-width="3.2"/>
<line x1="662.1" y1="2347.3" x2="668.6" y2="2347.3" stroke="#000" stroke-width="3.2"/>
<line x1="662.1" y1="2326.7" x2="668.6" y2="2326.7" stroke="#000" stroke-width="3.2"/>
<line x1="657.6" y1="2306.1" x2="668.6" y2="2306.1" stroke="#000" stroke-width="3.2"/>
<line x1="662.1" y1="2285.5" x2="668.6" y2="2285.5" stroke="#000" stroke-width="3.2"/>
<line x1="662.1" y1="2264.9" x2="668.6" y2="2264.9" stroke="#000" stroke-width="3.2"/>
<line x1="662.1" y1="2244.3" x2="668.6" y2="2244.3" stroke="#000" stroke-width="3.2"/>
<line x1="662.1" y1="2223.6" x2="668.6" y2="2223.6" stroke="#000" stroke-width="3.2"/>
<line x1="657.6" y1="2203" x2="668.6" y2="2203" stroke="#000" stroke-width="3.2"/>
<line x1="662.1" y1="2182.4" x2="668.6" y2="2182.4" stroke="#000" stroke-width="3.2"/>
<text x="656.8" y="2415.9" font-size="19.8" text-anchor="end" font-weight="bold">15</text>
<text x="656.8" y="2312.9" font-size="19.8" text-anchor="end" font-weight="bold">20</text>
<text x="656.8" y="2209.8" font-size="19.8" text-anchor="end" font-weight="bold">25</text>
<line x1="673.1" y1="2430.7" x2="673.1" y2="2440.7" stroke="#000" stroke-width="3.2"/>
<text x="673.1" y="2460.3" font-size="19.8" text-anchor="middle" font-weight="bold">1</text>
<line x1="711.6" y1="2430.7" x2="711.6" y2="2440.7" stroke="#000" stroke-width="3.2"/>
<text x="711.6" y="2460.3" font-size="19.8" text-anchor="middle" font-weight="bold">6</text>
<line x1="750" y1="2430.7" x2="750" y2="2440.7" stroke="#000" stroke-width="3.2"/>
<text x="750" y="2460.3" font-size="19.8" text-anchor="middle" font-weight="bold">11</text>
<line x1="788.5" y1="2430.7" x2="788.5" y2="2440.7" stroke="#000" stroke-width="3.2"/>
<text x="788.5" y="2460.3" font-size="19.8" text-anchor="middle" font-weight="bold">16</text>
<line x1="826.9" y1="2430.7" x2="826.9" y2="2440.7" stroke="#000" stroke-width="3.2"/>
<text x="826.9" y="2460.3" font-size="19.8" text-anchor="middle" font-weight="bold">21</text>
<line x1="865.4" y1="2430.7" x2="865.4" y2="2440.7" stroke="#000" stroke-width="3.2"/>
<text x="865.4" y="2460.3" font-size="19.8" text-anchor="middle" font-weight="bold">26</text>
<line x1="903.9" y1="2430.7" x2="903.9" y2="2440.7" stroke="#000" stroke-width="3.2"/>
<text x="903.9" y="2460.3" font-size="19.8" text-anchor="middle" font-weight="bold">31</text>
<line x1="942.3" y1="2430.7" x2="942.3" y2="2440.7" stroke="#000" stroke-width="3.2"/>
<text x="942.3" y="2460.3" font-size="19.8" text-anchor="middle" font-weight="bold">36</text>
<line x1="980.8" y1="2430.7" x2="980.8" y2="2440.7" stroke="#000" stroke-width="3.2"/>
<text x="980.8" y="2460.3" font-size="19.8" text-anchor="middle" font-weight="bold">41</text>
<line x1="1019.2" y1="2430.7" x2="1019.2" y2="2440.7" stroke="#000" stroke-width="3.2"/>
<text x="1019.2" y="2460.3" font-size="19.8" text-anchor="middle" font-weight="bold">46</text>
<text x="854.9" y="2491.1" font-size="18.4" text-anchor="middle" font-weight="bold">DPI</text>
<text x="619.6" y="2363.6" font-size="17.5" text-anchor="middle" font-weight="bold" textLength="118.4" lengthAdjust="spacingAndGlyphs" transform="rotate(-90 619.6 2363.6)">Body weight (g)</text><text x="1256" y="1999.2" font-size="45" font-weight="bold">k</text>
<path d="M1364.9 2343.1V2282.3H1409.4V2343.1" fill="none" stroke="#000" stroke-width="5.8" stroke-linejoin="round"/>
<path d="M1439.9 2343.1V2281.4H1484.8V2343.1" fill="none" stroke="#00ff00" stroke-width="5.8" stroke-linejoin="round"/>
<path d="M1515 2343.1V2180.1H1559.9V2343.1" fill="none" stroke="#9c0000" stroke-width="5.8" stroke-linejoin="round"/>
<path d="M1590.1 2343.1V2201.2H1634.6V2343.1" fill="none" stroke="#0000c8" stroke-width="5.8" stroke-linejoin="round"/>
<path d="M1371.1 2282.2L1368.4 2284.9L1364.5 2284.9L1361.8 2282.2L1361.8 2278.3L1364.5 2275.6L1368.4 2275.6L1371.1 2278.3zM1380.6 2280.7L1377.9 2283.4L1374.1 2283.4L1371.4 2280.7L1371.4 2276.9L1374.1 2274.1L1377.9 2274.1L1380.6 2276.9zM1391.6 2277.1L1388.9 2279.8L1385.1 2279.8L1382.4 2277.1L1382.4 2273.3L1385.1 2270.6L1388.9 2270.6L1391.6 2273.3zM1403.8 2279.2L1401.1 2281.9L1397.3 2281.9L1394.6 2279.2L1394.6 2275.4L1397.3 2272.7L1401.1 2272.7L1403.8 2275.4zM1412.8 2280.1L1410.1 2282.8L1406.2 2282.8L1403.5 2280.1L1403.5 2276.3L1406.2 2273.6L1410.1 2273.6L1412.8 2276.3zM1383.6 2286.6L1380.9 2289.3L1377 2289.3L1374.3 2286.6L1374.3 2282.8L1377 2280.1L1380.9 2280.1L1383.6 2282.8zM1391.6 2288.1L1388.9 2290.8L1385.1 2290.8L1382.4 2288.1L1382.4 2284.3L1385.1 2281.6L1388.9 2281.6L1391.6 2284.3zM1400 2293.2L1397.3 2295.9L1393.4 2295.9L1390.7 2293.2L1390.7 2289.4L1393.4 2286.7L1397.3 2286.7L1400 2289.4zM1405.9 2283.7L1403.2 2286.4L1399.4 2286.4L1396.7 2283.7L1396.7 2279.8L1399.4 2277.1L1403.2 2277.1L1405.9 2279.8zM1395.5 2283.1L1392.8 2285.8L1389 2285.8L1386.3 2283.1L1386.3 2279.2L1389 2276.5L1392.8 2276.5L1395.5 2279.2z" fill="#000"/>
<path d="M1454.5 2270.3L1451.8 2273L1447.9 2273L1445.2 2270.3L1445.2 2266.4L1447.9 2263.7L1451.8 2263.7L1454.5 2266.4zM1467 2265.8L1464.3 2268.5L1460.5 2268.5L1457.8 2265.8L1457.8 2262L1460.5 2259.3L1464.3 2259.3L1467 2262zM1480.4 2277.1L1477.7 2279.8L1473.9 2279.8L1471.2 2277.1L1471.2 2273.3L1473.9 2270.6L1477.7 2270.6L1480.4 2273.3zM1472.9 2282.2L1470.2 2284.9L1466.4 2284.9L1463.7 2282.2L1463.7 2278.3L1466.4 2275.6L1470.2 2275.6L1472.9 2278.3zM1447.6 2289.6L1444.9 2292.3L1441.1 2292.3L1438.4 2289.6L1438.4 2285.8L1441.1 2283.1L1444.9 2283.1L1447.6 2285.8zM1460.1 2291.1L1457.4 2293.8L1453.6 2293.8L1450.9 2291.1L1450.9 2287.3L1453.6 2284.6L1457.4 2284.6L1460.1 2287.3zM1472.9 2292.6L1470.2 2295.3L1466.4 2295.3L1463.7 2292.6L1463.7 2288.8L1466.4 2286.1L1470.2 2286.1L1472.9 2288.8zM1486.4 2295.6L1483.6 2298.3L1479.8 2298.3L1477.1 2295.6L1477.1 2291.7L1479.8 2289L1483.6 2289L1486.4 2291.7zM1460.1 2286.6L1457.4 2289.3L1453.6 2289.3L1450.9 2286.6L1450.9 2282.8L1453.6 2280.1L1457.4 2280.1L1460.1 2282.8z" fill="#000"/>
<path d="M1542.1 2129.3L1539.4 2132L1535.5 2132L1532.8 2129.3L1532.8 2125.5L1535.5 2122.8L1539.4 2122.8L1542.1 2125.5zM1537.9 2157L1535.2 2159.8L1531.4 2159.8L1528.7 2157L1528.7 2153.2L1531.4 2150.5L1535.2 2150.5L1537.9 2153.2zM1545.9 2162.1L1543.2 2164.8L1539.4 2164.8L1536.7 2162.1L1536.7 2158.3L1539.4 2155.6L1543.2 2155.6L1545.9 2158.3zM1537.9 2174L1535.2 2176.7L1531.4 2176.7L1528.7 2174L1528.7 2170.2L1531.4 2167.5L1535.2 2167.5L1537.9 2170.2zM1545.9 2174L1543.2 2176.7L1539.4 2176.7L1536.7 2174L1536.7 2170.2L1539.4 2167.5L1543.2 2167.5L1545.9 2170.2zM1542.1 2182.4L1539.4 2185.1L1535.5 2185.1L1532.8 2182.4L1532.8 2178.5L1535.5 2175.8L1539.4 2175.8L1542.1 2178.5zM1537.9 2192.8L1535.2 2195.5L1531.4 2195.5L1528.7 2192.8L1528.7 2189L1531.4 2186.3L1535.2 2186.3L1537.9 2189zM1545.9 2195.8L1543.2 2198.5L1539.4 2198.5L1536.7 2195.8L1536.7 2191.9L1539.4 2189.2L1543.2 2189.2L1545.9 2191.9zM1542.1 2218.7L1539.4 2221.4L1535.5 2221.4L1532.8 2218.7L1532.8 2214.9L1535.5 2212.2L1539.4 2212.2L1542.1 2214.9zM1542.1 2227.7L1539.4 2230.4L1535.5 2230.4L1532.8 2227.7L1532.8 2223.8L1535.5 2221.1L1539.4 2221.1L1542.1 2223.8z" fill="#000"/>
<path d="M1600.5 2189.8L1597.8 2192.5L1593.9 2192.5L1591.2 2189.8L1591.2 2186L1593.9 2183.3L1597.8 2183.3L1600.5 2186zM1616.8 2185.3L1614.1 2188.1L1610.3 2188.1L1607.6 2185.3L1607.6 2181.5L1610.3 2178.8L1614.1 2178.8L1616.8 2181.5zM1633.8 2194.9L1631.1 2197.6L1627.3 2197.6L1624.6 2194.9L1624.6 2191.1L1627.3 2188.3L1631.1 2188.3L1633.8 2191.1zM1624.9 2201.7L1622.2 2204.4L1618.4 2204.4L1615.6 2201.7L1615.6 2197.9L1618.4 2195.2L1622.2 2195.2L1624.9 2197.9zM1608.5 2203.8L1605.8 2206.5L1602 2206.5L1599.3 2203.8L1599.3 2200L1602 2197.3L1605.8 2197.3L1608.5 2200zM1600.5 2206.2L1597.8 2208.9L1593.9 2208.9L1591.2 2206.2L1591.2 2202.4L1593.9 2199.7L1597.8 2199.7L1600.5 2202.4zM1616.8 2209.2L1614.1 2211.9L1610.3 2211.9L1607.6 2209.2L1607.6 2205.4L1610.3 2202.6L1614.1 2202.6L1616.8 2205.4zM1633.8 2210.7L1631.1 2213.4L1627.3 2213.4L1624.6 2210.7L1624.6 2206.8L1627.3 2204.1L1631.1 2204.1L1633.8 2206.8zM1616.8 2219.6L1614.1 2222.3L1610.3 2222.3L1607.6 2219.6L1607.6 2215.8L1610.3 2213.1L1614.1 2213.1L1616.8 2215.8z" fill="#000"/>
<path d="M1449.9 2269.8H1474.9M1462.4 2269.8V2280.3M1449.9 2280.3H1474.9" fill="none" stroke="#00ff00" stroke-width="1.6"/>
<path d="M1524.9 2149.2H1550M1537.4 2149.2V2180.5M1524.9 2180.5H1550" fill="none" stroke="#9c0000" stroke-width="1.6"/>
<path d="M1599.7 2189.4H1624.7M1612.2 2189.4V2199.8M1599.7 2199.8H1624.7" fill="none" stroke="#0000c8" stroke-width="1.6"/>
<line x1="1337.2" y1="2097.6" x2="1337.2" y2="2344.8" stroke="#000" stroke-width="3.6"/>
<line x1="1323.2" y1="2343.1" x2="1663.8" y2="2343.1" stroke="#000" stroke-width="3.4"/>
<line x1="1323.2" y1="2343.1" x2="1337.2" y2="2343.1" stroke="#000" stroke-width="3"/>
<text x="1319.4" y="2349.7" font-size="19" text-anchor="end" font-weight="bold" textLength="13.5" lengthAdjust="spacingAndGlyphs">0</text>
<line x1="1323.2" y1="2282" x2="1337.2" y2="2282" stroke="#000" stroke-width="3"/>
<text x="1319.4" y="2288.6" font-size="19" text-anchor="end" font-weight="bold" textLength="13.5" lengthAdjust="spacingAndGlyphs">1</text>
<line x1="1323.2" y1="2221" x2="1337.2" y2="2221" stroke="#000" stroke-width="3"/>
<text x="1319.4" y="2227.6" font-size="19" text-anchor="end" font-weight="bold" textLength="13.5" lengthAdjust="spacingAndGlyphs">2</text>
<line x1="1323.2" y1="2159.9" x2="1337.2" y2="2159.9" stroke="#000" stroke-width="3"/>
<text x="1319.4" y="2166.5" font-size="19" text-anchor="end" font-weight="bold" textLength="13.5" lengthAdjust="spacingAndGlyphs">3</text>
<line x1="1323.2" y1="2098.8" x2="1337.2" y2="2098.8" stroke="#000" stroke-width="3"/>
<text x="1319.4" y="2105.4" font-size="19" text-anchor="end" font-weight="bold" textLength="13.5" lengthAdjust="spacingAndGlyphs">4</text>
<line x1="1387" y1="2343.1" x2="1387" y2="2353.8" stroke="#000" stroke-width="3.4"/>
<line x1="1462.4" y1="2343.1" x2="1462.4" y2="2353.8" stroke="#000" stroke-width="3.4"/>
<line x1="1537.4" y1="2343.1" x2="1537.4" y2="2353.8" stroke="#000" stroke-width="3.4"/>
<line x1="1612.8" y1="2343.1" x2="1612.8" y2="2353.8" stroke="#000" stroke-width="3.4"/>
<path d="M1391.2 2037.8V2026.4H1616.4V2037.8" fill="none" stroke="#000" stroke-width="6" stroke-linejoin="round" stroke-linecap="round"/>
<path d="M1540.4 2057.7V2047H1616.4V2057.7" fill="none" stroke="#000" stroke-width="6" stroke-linejoin="round" stroke-linecap="round"/>
<path d="M1391.2 2081V2070.8H1542.5V2081" fill="none" stroke="#000" stroke-width="6" stroke-linejoin="round" stroke-linecap="round"/>
<path d="M1392.1 2112.8V2102.1H1460.3V2112.8" fill="none" stroke="#000" stroke-width="6" stroke-linejoin="round" stroke-linecap="round"/>
<text x="1502" y="2028.8" font-size="21" text-anchor="middle" textLength="43.5" lengthAdjust="spacingAndGlyphs">****</text>
<text x="1578" y="2047.3" font-size="21" text-anchor="middle">*</text>
<text x="1463" y="2069.9" font-size="21" text-anchor="middle" textLength="43.5" lengthAdjust="spacingAndGlyphs">****</text>
<text x="1424.2" y="2094.7" font-size="12.4" text-anchor="middle" textLength="19.7" lengthAdjust="spacingAndGlyphs">NS</text>
<text x="1294.9" y="2237.1" font-size="17.5" text-anchor="middle" font-weight="bold" textLength="210.9" lengthAdjust="spacingAndGlyphs" transform="rotate(-90 1294.9 2237.1)">Serum D2HG（Fold Changed)</text>
<text font-size="18.5" text-anchor="end" font-weight="bold" textLength="93" lengthAdjust="spacingAndGlyphs" transform="translate(1389.2 2368.4) rotate(-45)" fill="#06061a">GL261 tumor</text><text font-size="18.5" text-anchor="end" font-weight="bold" textLength="130" lengthAdjust="spacingAndGlyphs" transform="translate(1457.7 2364.6) rotate(-45)" fill="#06061a">Ivosidenib treated</text><text font-size="18.5" text-anchor="end" font-weight="bold" textLength="93" lengthAdjust="spacingAndGlyphs" transform="translate(1470.6 2380) rotate(-45)" fill="#06061a">GL261 tumor</text><text font-size="18.5" text-anchor="end" font-weight="bold" textLength="93" lengthAdjust="spacingAndGlyphs" transform="translate(1534.6 2370.2) rotate(-45)" fill="#06061a">GL261 tumor</text><text font-size="18.5" text-anchor="end" font-weight="bold" textLength="138" lengthAdjust="spacingAndGlyphs" transform="translate(1548.2 2379.1) rotate(-45)" fill="#06061a">with IDH1-mutation</text><text font-size="18.5" text-anchor="end" font-weight="bold" textLength="130" lengthAdjust="spacingAndGlyphs" transform="translate(1615.6 2367.4) rotate(-45)" fill="#06061a">Ivosidenib treated</text><text font-size="18.5" text-anchor="end" font-weight="bold" textLength="93" lengthAdjust="spacingAndGlyphs" transform="translate(1629.4 2382.8) rotate(-45)" fill="#06061a">GL261 tumor</text><text font-size="18.5" text-anchor="end" font-weight="bold" textLength="138" lengthAdjust="spacingAndGlyphs" transform="translate(1642.6 2391.8) rotate(-45)" fill="#06061a">with IDH1-mutation</text></g>
</svg>
</body></html>
